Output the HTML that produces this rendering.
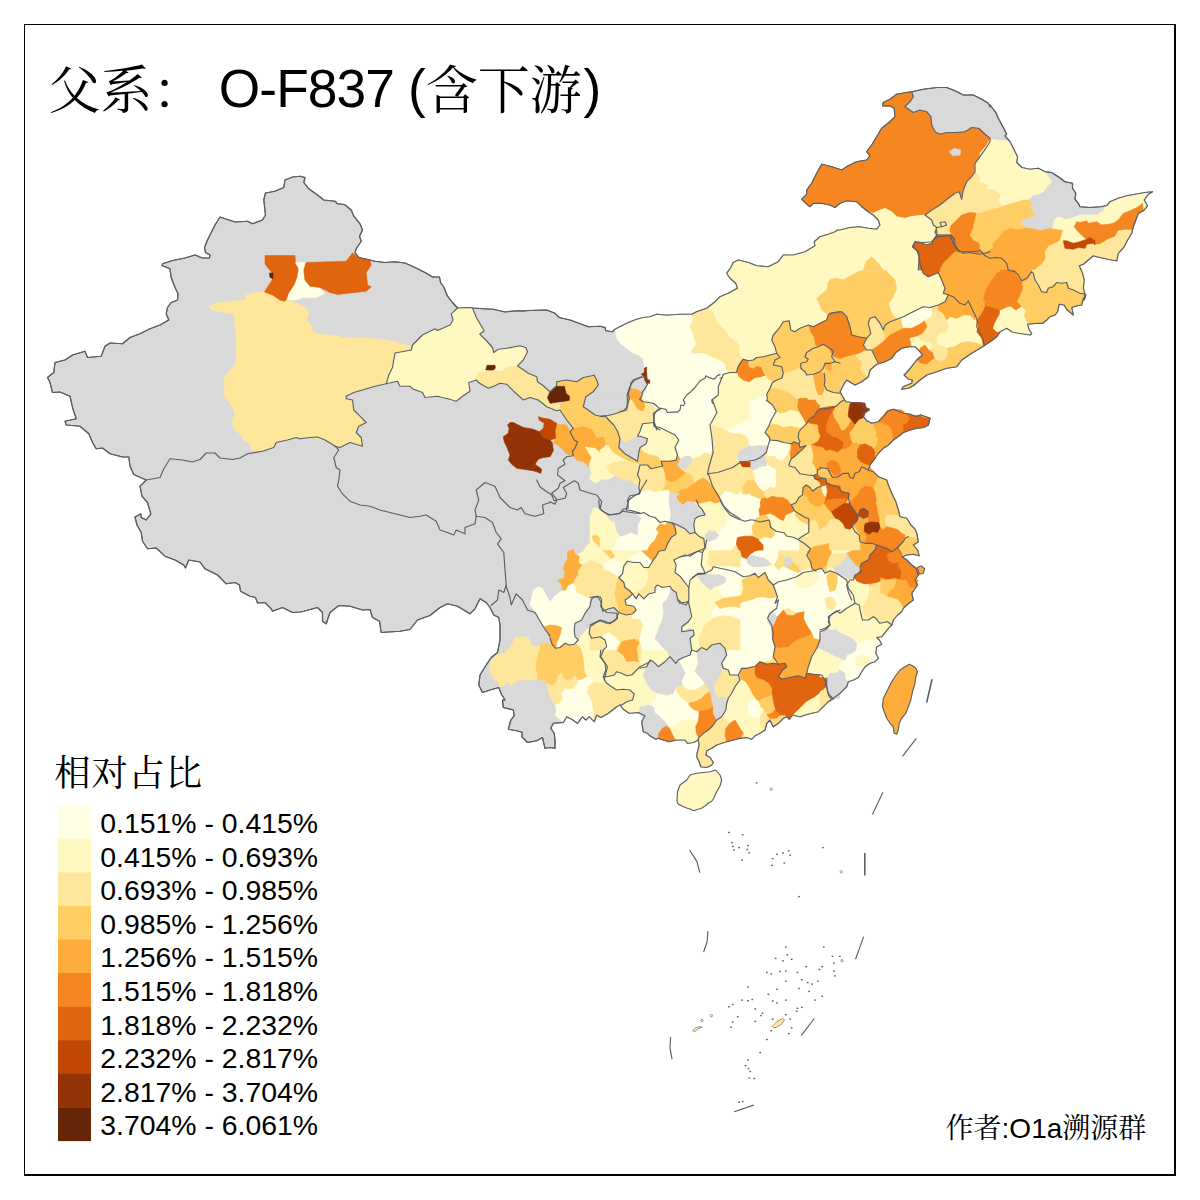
<!DOCTYPE html>
<html><head><meta charset="utf-8"><title>O-F837</title>
<style>
html,body{margin:0;padding:0;background:#fff;}
body{width:1200px;height:1200px;overflow:hidden;font-family:"Liberation Sans",sans-serif;}
svg{display:block;position:absolute;left:0;top:0;}
.t{font-family:"Liberation Sans",sans-serif;fill:#000;}
.c{font-family:"Liberation Serif","Noto Serif CJK SC",serif;fill:#000;}
</style></head><body>
<svg width="1200" height="1200" viewBox="0 0 1200 1200">
<rect x="0" y="0" width="1200" height="1200" fill="#fff"/>
<g id="map">
<polygon points="300,176.2 292.5,177 285,180 283.8,187.5 275,191.2 265.5,193 263.8,200 265.5,215 262.5,220 252.5,223.8 247.5,221.2 235,222 220,217 215,225 207.5,240 204.5,247.5 205.5,252.5 210,255 209.5,258 202.5,258 195,255 185,258 172.5,260.5 162.5,263.8 162,265.5 170,268.8 171.2,277.5 175,287.5 178,293.8 177.5,300 171.2,302.5 167.5,307.5 166.2,313.8 168.8,320 160,325 150,328.8 140,333.8 130,337.5 122.5,343.8 110,343 105,346.2 101.2,356.2 87.5,357.5 85,351.2 72.5,355 65,360 55,362.5 53.8,372.5 47.5,377.5 50,382.5 52.5,392.5 60,392 70,396.2 72.5,407.5 76.2,418.8 65,421.2 66.2,425 80,426.2 88.8,433.8 92.5,442.5 96.2,448.8 102.5,448 110,453.8 122.5,457 128.8,457 130,466.2 133.8,474.5 146.2,480 140,486.2 142,496.2 147.5,502.5 150.8,513.8 146.2,520 141.2,517.5 140.8,513.8 135,517 137,525 141.2,532.5 142.5,541.2 147.5,548.8 156.2,548 165,556.2 175,560 183.8,565 185.5,568 188.8,560 200,562 205,568.8 217.5,575 226.2,583.8 235,582.5 239.5,585 240.5,591.2 250,596.2 255.5,597.5 257.5,603 265,602.5 271.2,608.8 272.5,611.2 282.5,607.5 292.5,612.5 300,612 303.8,611.2 317.5,607.5 322.5,612.5 322.5,621.2 326.2,623.8 330,612.5 338.8,605.5 350,606.2 362.5,610 370,609.5 372.5,617.5 379.5,621.2 381.2,632.5 400,631.2 410,629.5 417.5,620 430,615.5 440,607.5 447.5,603.8 457.5,606.2 470,613.8 475,608.8 480,598.8 486.2,602.5 490,607.5 493.8,615 498.8,617.5 500,625 500,640 497.5,652.5 491.2,657.5 486.2,665 480,675 478.8,685 482.5,692.5 490,690 498.8,687.5 501.2,693.8 505,700 502.5,700 503.3,707.5 513.3,710 514.2,715.8 510.8,720 508.3,729.2 516.7,730.8 522.5,732.5 521.7,736.7 527.5,742.5 536.7,740.8 542.5,737.5 545,748.3 550,747.5 555,748.3 555,740 554.2,733.3 550.8,728.3 553.3,723.3 563.3,722.5 566.7,716.7 571.7,719.2 577.5,723.3 582.5,716.7 585.8,720 589.2,716.7 594.2,721.7 596.7,715 600.8,717.5 608.3,713.3 616.7,706.7 620,705 623.3,709.2 629.2,713.3 638.3,712.5 645,715.8 641.7,721.7 643.3,731.7 647.5,733.3 650,735.8 650,735.8 655.8,739.2 658.3,738.3 663.3,740 669.2,741.7 675.8,740 685,740 687.5,743.3 693.3,742.5 698.3,740 699.2,745 697.5,751.7 696.7,756.7 699.2,761.7 700.8,766.7 706.7,767.5 711.7,765 713.3,762.5 710,757.5 705.8,755 706.7,750.8 711.7,748.3 716.7,745 721.7,743.3 726.7,741.7 733.3,740 740,738.3 746.7,737.5 751.7,739.2 755,735.8 760,733.3 765,730 766.7,723.3 770,720 773.3,726.7 778.3,723.3 783.3,718.3 786.7,716.7 789.2,719.2 792.5,715 800,716.7 805,715 811.7,713.3 818.3,711.7 823.3,706.7 828.3,701.7 833.3,698.3 840,693.3 840,693.3 841.7,691.7 846.7,686.7 848.3,681.7 853.3,680 858.3,677.5 861.7,671.7 865,666.7 870,663.3 875,661.7 878.3,658.3 875.8,653.3 876.7,646.7 881.7,644.2 879.2,640 876.7,637.5 881.7,636.7 885.8,631.7 888.3,628.3 891.7,625 893.3,620 897.5,615 901.7,611.7 903.3,608.3 906.7,605 910.8,601.7 913.3,600 911.7,593.3 917.5,585 915,580 918.3,575 915.8,568.3 911.7,565 906.7,560 901.7,556.7 906.7,555 913.3,554.2 919.2,555.8 917.5,550 913.3,545 918.3,541.7 916.7,533.3 915,529.2 910.8,525 906.7,518.3 900,516.7 898.3,510 895.8,501.7 891.7,493.3 888.3,485 886.7,480 878.3,476.7 873.3,471.7 868.3,470 870,465 875,458.3 878.3,453.3 883.3,448.3 888.3,445 893.3,440 899.2,435.8 903.3,432.5 910,430 916.7,428.3 923.3,427.5 928.3,425 930,418.3 930,418.3 920.8,415 916.7,416.7 910,414.2 903.3,413.3 893.3,409.2 888.3,410.8 883.3,416.7 878.3,421.7 871.7,423.3 866.7,420.8 863.3,416.7 862.5,413.3 869.2,410 863.3,407.5 862.5,403.3 851.7,402.5 845.8,401.7 841.7,395 840,391.7 843.3,385 846.7,380 855,385 861.7,381.7 868.3,376.7 870,370 876.7,364.2 885,361.7 891.7,358.3 895.8,352.5 901.7,348.3 908.3,346.7 915,346.7 920,351.7 922.5,355 916.7,360 911.7,366.7 906.7,372.5 904.2,375 908.3,379.2 912.5,380 911.7,383.3 903.3,386.7 901.7,389.2 908.3,388.3 913.3,385.8 920,380 926.7,375 936.7,371.7 946.7,368.3 956.7,366.7 961.7,360 970,354.2 980,348.3 985,345 990,341.7 996.7,336.7 1000,331.7 1006.7,328.3 1011.7,331.7 1018.3,333.3 1030,335 1031.7,333.3 1029.2,330 1027.5,324.2 1036.7,323.3 1042.5,323.3 1046.7,320 1050,316.7 1055,315 1057.5,311.7 1059.2,304.2 1064.2,305 1066.7,309.2 1073.3,315 1071.7,307.5 1076.7,305.8 1081.7,305 1083.3,298.3 1085.8,295 1084.2,300 1085,294.2 1083.3,288.3 1084.2,280 1082.5,273.3 1079.2,265.8 1083.3,264.2 1088.3,260 1093.3,255.8 1096.7,256.7 1103.3,258.3 1111.7,260 1116.7,260.8 1118.3,253.3 1124.2,246.7 1127.5,240 1131.7,233.3 1133.3,226.7 1135.8,220 1138.3,213.3 1143.3,210.8 1147.5,205.8 1144.2,200 1148.3,194.2 1152.5,191.7 1145,192.5 1135,194.2 1126.7,195.8 1118.3,198.3 1110,201.7 1106.7,205.8 1100,206.7 1090,207.5 1080,206.7 1078.3,203.3 1075,199.2 1075.8,193.3 1072.5,188.3 1072.5,183.3 1065,181.7 1058.3,176.7 1051.7,172.5 1045,171.7 1038.3,168.3 1030,169.2 1021.7,167.5 1016.7,162.5 1017.5,156.7 1013.3,148.3 1010,141.7 1005,135.8 1006.7,134.2 1003.3,127.5 998.3,118.3 995.8,112.5 990,105 990,106.7 988.3,103.3 981.7,99.2 973.3,95 963.3,95 955,90.8 946.7,87.5 936.7,87.5 923.3,89.2 911.7,91.7 906.7,92.5 896.7,94.2 890,99.2 883.3,102.5 882.5,105.8 890,105.8 894.2,108.3 895,116.7 890,121.7 881.7,128.3 876.7,136.7 871.7,145 866.7,151.7 870,155.8 866.7,160 856.7,161.7 848.3,165.8 841.7,170 831.7,166.7 821.7,164.2 816.7,173.3 811.7,183.3 806.7,190 806.7,194.2 801.7,199.2 805,202.5 810,206.7 813.3,203.3 821.7,203.3 830,205 835,207.5 840,203.3 846.7,200.8 856.7,201.7 861.7,206.7 868.3,211.7 873.3,215 878.3,220 880,225 876.7,229.2 868.3,228.3 860,226.7 850,227.5 840,230 837.5,230 835,231.7 828.3,234.2 820,236.7 814.2,241.7 815,245.8 805,251.7 793.3,255 783.3,255 778.3,261.7 768.3,266.7 756.7,265.8 748.3,262.5 738.3,260 733.3,262.5 730.8,267.5 726.7,273.3 730,278.3 735.8,283.3 737.5,288.3 728.3,293.3 720,296.7 713.3,303.3 706.7,308.3 696.7,311.7 691.7,314.2 680,314.2 666.7,315.3 656.7,314.2 650,316.7 650,316.7 643.3,317.5 636.7,319.2 626.7,323.3 615,329.2 612.5,331.7 605.8,330.8 605,327.5 600,326.3 588.3,326.7 581.7,324.2 570,320 559.2,317.5 555,313.3 546.7,310 536.7,310.3 525,310.8 516.7,310.8 505,312 493.3,309.2 483.3,308.7 472.5,308 470,307.5 457.5,308 457.5,308 452.5,302.5 447.5,296.2 443.8,287 440.5,282.5 439.5,277 432.5,277 425,272.5 415,267.5 405,263 395,261.8 385,262.5 375,261.2 370,260 358.8,257.5 355,252.5 356.2,248.8 361.2,241.2 359.5,236.2 362.5,230 360,223.8 353.8,216.2 351.2,210 344.5,204.5 337.5,203.8 335,201.2 323.8,200 317.5,195 308.8,188.8 303.8,182.5 305,177.5 300,176.2" fill="#D9D9D9" stroke="#5c6066" stroke-width="1.15" stroke-linejoin="round"/>
<clipPath id="cn"><polygon points="300,176.2 292.5,177 285,180 283.8,187.5 275,191.2 265.5,193 263.8,200 265.5,215 262.5,220 252.5,223.8 247.5,221.2 235,222 220,217 215,225 207.5,240 204.5,247.5 205.5,252.5 210,255 209.5,258 202.5,258 195,255 185,258 172.5,260.5 162.5,263.8 162,265.5 170,268.8 171.2,277.5 175,287.5 178,293.8 177.5,300 171.2,302.5 167.5,307.5 166.2,313.8 168.8,320 160,325 150,328.8 140,333.8 130,337.5 122.5,343.8 110,343 105,346.2 101.2,356.2 87.5,357.5 85,351.2 72.5,355 65,360 55,362.5 53.8,372.5 47.5,377.5 50,382.5 52.5,392.5 60,392 70,396.2 72.5,407.5 76.2,418.8 65,421.2 66.2,425 80,426.2 88.8,433.8 92.5,442.5 96.2,448.8 102.5,448 110,453.8 122.5,457 128.8,457 130,466.2 133.8,474.5 146.2,480 140,486.2 142,496.2 147.5,502.5 150.8,513.8 146.2,520 141.2,517.5 140.8,513.8 135,517 137,525 141.2,532.5 142.5,541.2 147.5,548.8 156.2,548 165,556.2 175,560 183.8,565 185.5,568 188.8,560 200,562 205,568.8 217.5,575 226.2,583.8 235,582.5 239.5,585 240.5,591.2 250,596.2 255.5,597.5 257.5,603 265,602.5 271.2,608.8 272.5,611.2 282.5,607.5 292.5,612.5 300,612 303.8,611.2 317.5,607.5 322.5,612.5 322.5,621.2 326.2,623.8 330,612.5 338.8,605.5 350,606.2 362.5,610 370,609.5 372.5,617.5 379.5,621.2 381.2,632.5 400,631.2 410,629.5 417.5,620 430,615.5 440,607.5 447.5,603.8 457.5,606.2 470,613.8 475,608.8 480,598.8 486.2,602.5 490,607.5 493.8,615 498.8,617.5 500,625 500,640 497.5,652.5 491.2,657.5 486.2,665 480,675 478.8,685 482.5,692.5 490,690 498.8,687.5 501.2,693.8 505,700 502.5,700 503.3,707.5 513.3,710 514.2,715.8 510.8,720 508.3,729.2 516.7,730.8 522.5,732.5 521.7,736.7 527.5,742.5 536.7,740.8 542.5,737.5 545,748.3 550,747.5 555,748.3 555,740 554.2,733.3 550.8,728.3 553.3,723.3 563.3,722.5 566.7,716.7 571.7,719.2 577.5,723.3 582.5,716.7 585.8,720 589.2,716.7 594.2,721.7 596.7,715 600.8,717.5 608.3,713.3 616.7,706.7 620,705 623.3,709.2 629.2,713.3 638.3,712.5 645,715.8 641.7,721.7 643.3,731.7 647.5,733.3 650,735.8 650,735.8 655.8,739.2 658.3,738.3 663.3,740 669.2,741.7 675.8,740 685,740 687.5,743.3 693.3,742.5 698.3,740 699.2,745 697.5,751.7 696.7,756.7 699.2,761.7 700.8,766.7 706.7,767.5 711.7,765 713.3,762.5 710,757.5 705.8,755 706.7,750.8 711.7,748.3 716.7,745 721.7,743.3 726.7,741.7 733.3,740 740,738.3 746.7,737.5 751.7,739.2 755,735.8 760,733.3 765,730 766.7,723.3 770,720 773.3,726.7 778.3,723.3 783.3,718.3 786.7,716.7 789.2,719.2 792.5,715 800,716.7 805,715 811.7,713.3 818.3,711.7 823.3,706.7 828.3,701.7 833.3,698.3 840,693.3 840,693.3 841.7,691.7 846.7,686.7 848.3,681.7 853.3,680 858.3,677.5 861.7,671.7 865,666.7 870,663.3 875,661.7 878.3,658.3 875.8,653.3 876.7,646.7 881.7,644.2 879.2,640 876.7,637.5 881.7,636.7 885.8,631.7 888.3,628.3 891.7,625 893.3,620 897.5,615 901.7,611.7 903.3,608.3 906.7,605 910.8,601.7 913.3,600 911.7,593.3 917.5,585 915,580 918.3,575 915.8,568.3 911.7,565 906.7,560 901.7,556.7 906.7,555 913.3,554.2 919.2,555.8 917.5,550 913.3,545 918.3,541.7 916.7,533.3 915,529.2 910.8,525 906.7,518.3 900,516.7 898.3,510 895.8,501.7 891.7,493.3 888.3,485 886.7,480 878.3,476.7 873.3,471.7 868.3,470 870,465 875,458.3 878.3,453.3 883.3,448.3 888.3,445 893.3,440 899.2,435.8 903.3,432.5 910,430 916.7,428.3 923.3,427.5 928.3,425 930,418.3 930,418.3 920.8,415 916.7,416.7 910,414.2 903.3,413.3 893.3,409.2 888.3,410.8 883.3,416.7 878.3,421.7 871.7,423.3 866.7,420.8 863.3,416.7 862.5,413.3 869.2,410 863.3,407.5 862.5,403.3 851.7,402.5 845.8,401.7 841.7,395 840,391.7 843.3,385 846.7,380 855,385 861.7,381.7 868.3,376.7 870,370 876.7,364.2 885,361.7 891.7,358.3 895.8,352.5 901.7,348.3 908.3,346.7 915,346.7 920,351.7 922.5,355 916.7,360 911.7,366.7 906.7,372.5 904.2,375 908.3,379.2 912.5,380 911.7,383.3 903.3,386.7 901.7,389.2 908.3,388.3 913.3,385.8 920,380 926.7,375 936.7,371.7 946.7,368.3 956.7,366.7 961.7,360 970,354.2 980,348.3 985,345 990,341.7 996.7,336.7 1000,331.7 1006.7,328.3 1011.7,331.7 1018.3,333.3 1030,335 1031.7,333.3 1029.2,330 1027.5,324.2 1036.7,323.3 1042.5,323.3 1046.7,320 1050,316.7 1055,315 1057.5,311.7 1059.2,304.2 1064.2,305 1066.7,309.2 1073.3,315 1071.7,307.5 1076.7,305.8 1081.7,305 1083.3,298.3 1085.8,295 1084.2,300 1085,294.2 1083.3,288.3 1084.2,280 1082.5,273.3 1079.2,265.8 1083.3,264.2 1088.3,260 1093.3,255.8 1096.7,256.7 1103.3,258.3 1111.7,260 1116.7,260.8 1118.3,253.3 1124.2,246.7 1127.5,240 1131.7,233.3 1133.3,226.7 1135.8,220 1138.3,213.3 1143.3,210.8 1147.5,205.8 1144.2,200 1148.3,194.2 1152.5,191.7 1145,192.5 1135,194.2 1126.7,195.8 1118.3,198.3 1110,201.7 1106.7,205.8 1100,206.7 1090,207.5 1080,206.7 1078.3,203.3 1075,199.2 1075.8,193.3 1072.5,188.3 1072.5,183.3 1065,181.7 1058.3,176.7 1051.7,172.5 1045,171.7 1038.3,168.3 1030,169.2 1021.7,167.5 1016.7,162.5 1017.5,156.7 1013.3,148.3 1010,141.7 1005,135.8 1006.7,134.2 1003.3,127.5 998.3,118.3 995.8,112.5 990,105 990,106.7 988.3,103.3 981.7,99.2 973.3,95 963.3,95 955,90.8 946.7,87.5 936.7,87.5 923.3,89.2 911.7,91.7 906.7,92.5 896.7,94.2 890,99.2 883.3,102.5 882.5,105.8 890,105.8 894.2,108.3 895,116.7 890,121.7 881.7,128.3 876.7,136.7 871.7,145 866.7,151.7 870,155.8 866.7,160 856.7,161.7 848.3,165.8 841.7,170 831.7,166.7 821.7,164.2 816.7,173.3 811.7,183.3 806.7,190 806.7,194.2 801.7,199.2 805,202.5 810,206.7 813.3,203.3 821.7,203.3 830,205 835,207.5 840,203.3 846.7,200.8 856.7,201.7 861.7,206.7 868.3,211.7 873.3,215 878.3,220 880,225 876.7,229.2 868.3,228.3 860,226.7 850,227.5 840,230 837.5,230 835,231.7 828.3,234.2 820,236.7 814.2,241.7 815,245.8 805,251.7 793.3,255 783.3,255 778.3,261.7 768.3,266.7 756.7,265.8 748.3,262.5 738.3,260 733.3,262.5 730.8,267.5 726.7,273.3 730,278.3 735.8,283.3 737.5,288.3 728.3,293.3 720,296.7 713.3,303.3 706.7,308.3 696.7,311.7 691.7,314.2 680,314.2 666.7,315.3 656.7,314.2 650,316.7 650,316.7 643.3,317.5 636.7,319.2 626.7,323.3 615,329.2 612.5,331.7 605.8,330.8 605,327.5 600,326.3 588.3,326.7 581.7,324.2 570,320 559.2,317.5 555,313.3 546.7,310 536.7,310.3 525,310.8 516.7,310.8 505,312 493.3,309.2 483.3,308.7 472.5,308 470,307.5 457.5,308 457.5,308 452.5,302.5 447.5,296.2 443.8,287 440.5,282.5 439.5,277 432.5,277 425,272.5 415,267.5 405,263 395,261.8 385,262.5 375,261.2 370,260 358.8,257.5 355,252.5 356.2,248.8 361.2,241.2 359.5,236.2 362.5,230 360,223.8 353.8,216.2 351.2,210 344.5,204.5 337.5,203.8 335,201.2 323.8,200 317.5,195 308.8,188.8 303.8,182.5 305,177.5 300,176.2"/></clipPath>
<polygon points="700,330 840,235 905,235 935,255 1040,300 1090,300 1040,340 940,345 870,400 935,415 900,480 935,560 915,620 880,680 800,725 745,745 700,745 690,700 700,640 720,560 700,470 720,400" fill="#FEDD85" clip-path="url(#cn)"/>
<polygon points="208.8,306.2 217.5,303 232.5,301.2 245,300 246.2,295 255,292.5 264.5,292 272.5,295 280,300 285,301.2 287.5,300 296.2,303 303.8,306.2 308.8,312.5 306.2,320 311.2,325 312.5,332.5 322.5,334.5 335,335.5 342.5,337.5 360,338 375,338.8 385,340 397.5,342.5 411.2,346.2 411.2,350 395,353 392.5,367.5 388.8,375 386.2,383.8 375,386.2 362.5,390 353.8,392.5 346.2,396.2 346.2,398.8 352.5,400 353.8,410 360,416.2 366.2,422.5 358.8,426.2 356.2,432.5 361.2,437.5 362.5,446.2 350,442.5 340,447.5 335,446.2 331.2,442.5 322.5,440 310,437.5 296.2,437.5 287.5,440 276.2,442.5 273.8,447.5 262.5,451.2 251.2,450 250,443.8 243.8,440 240,433.8 233.8,428.8 232,420 235,415 233.8,410 230,402.5 224.5,397.5 224.5,377.5 230,370 236.2,362.5 236.2,340 235,325 233.8,313.8 225,312.5 212.5,310" fill="#FEE79B" stroke="#FEE79B" stroke-width="0.6" stroke-linejoin="round"/>
<polygon points="265,255.5 295,255.5 295.5,262.5 298.8,268.8 297.5,277.5 294.5,285 288.8,293.8 285,301.2 280,300 272.5,295 264.5,292 268.8,285 273,278.8 269.5,275 272,272.5 267.5,267.5 265,263.8" fill="#E1640E" stroke="#E1640E" stroke-width="0.6" stroke-linejoin="round"/>
<polygon points="269.5,273 273,273 273,278.8 270,277.5" fill="#662506" stroke="#662506" stroke-width="0.6" stroke-linejoin="round"/>
<polygon points="295.5,262.5 306.2,262.5 303.8,270 305,280 310,286.2 320,287.5 324.5,293.8 316.2,297.5 303.8,297.5 296.2,300 287.5,300 288.8,293.8 294.5,285 297.5,277.5 298.8,268.8" fill="#FFFFE5" stroke="#FFFFE5" stroke-width="0.6" stroke-linejoin="round"/>
<polygon points="306.2,262.5 346.2,261.2 352.5,253 358.8,257.5 370,260 371.2,265 366.2,272.5 367.5,285 371.2,287 366.2,291.2 355,292.5 337.5,294.5 330,292.5 320,287.5 310,286.2 305,280 303.8,270" fill="#E1640E" stroke="#E1640E" stroke-width="0.6" stroke-linejoin="round"/>
<polygon points="450,325 437.5,330.5 435,328.8 422.5,335 412.5,345 411.2,350 395,353 392.5,367.5 388.8,375 386.2,383.8 397.5,381.2 400,386.2 410,386.2 412.5,388.8 422.5,392.5 425,397.5 437.5,396.2 447.5,398.8 452.5,400 452.5,325" fill="#FFF8C1" stroke="#FFF8C1" stroke-width="0.6" stroke-linejoin="round"/>
<polygon points="457.5,308 472.5,308 476.7,318.3 484.2,330.8 479.7,334.2 485.8,340 492.5,347.5 493.7,352.5 498.3,349.2 506.7,348.3 520,345.8 525.8,347.5 527.5,351.7 523.3,360 517.5,365 512.5,367.5 506.7,367.5 501.7,371.7 495,370 485.8,370.8 477.5,373.3 476.7,380 470,381.7 469.7,390 462.5,396.7 456.7,400.8 450,401.7 450,325 453,318.3 451.7,312.5" fill="#FFF8C1" stroke="#FFF8C1" stroke-width="0.6" stroke-linejoin="round"/>
<polygon points="487,365.3 495,365.3 495.3,368.3 492.5,370.8 485.8,370" fill="#662506" stroke="#662506" stroke-width="0.6" stroke-linejoin="round"/>
<polygon points="476.7,380 477.5,373.3 485.8,370.8 492.5,370.8 501.7,371.7 506.7,367.5 517.5,365.8 528.3,373.3 536.7,376.7 537.5,381.7 543.3,385.8 550,391.7 547.5,397.5 550,403.3 560,403.3 560.8,410 556.7,410.8 546.7,406.7 538.3,400 530,397.5 523.3,400 513.3,390.8 506.7,384.2 500,383.3 495,385.8 488.3,388.3 482.5,385 477.5,381.7" fill="#FEE79B" stroke="#FEE79B" stroke-width="0.6" stroke-linejoin="round"/>
<polygon points="550,391.7 556.7,385.8 565,385.8 566.7,393.3 570,395.8 570,400.8 560,401.7 550,403.3 547.5,397.5" fill="#662506" stroke="#662506" stroke-width="0.6" stroke-linejoin="round"/>
<polygon points="556.7,381.7 566.7,380 576.7,381.7 583.3,377.5 594.2,375.3 596.7,380 598.3,385 593.3,391.7 585.8,396.7 583.3,406.7 588.3,410 595,415 602.5,416.7 606.7,417.5 610,423.3 616.7,431.7 620,438.3 620.8,443.3 618.3,446.7 621.7,451.7 629.2,456.7 635,460 639.2,460.8 639.2,465.8 633.3,463.3 625,465 621.7,458.3 615,456.7 610,450 603.3,445 603.3,438.3 596.7,438.3 591.7,429.2 583.3,426.7 573.3,428.3 566.7,420 560,410 560.8,403.3 570,400.8 570,395.8 566.7,393.3 565,385.8 556.7,385.8" fill="#FECE65" stroke="#FECE65" stroke-width="0.6" stroke-linejoin="round"/>
<polygon points="556.7,424.2 566.7,425 570,431.7 574.2,440 577.5,441.7 575,448.3 572.5,450.8 573.3,455.8 566.7,454.2 560,446.7 553.3,442.5 555.8,438.3 555,431.7" fill="#FEAC3A" stroke="#FEAC3A" stroke-width="0.6" stroke-linejoin="round"/>
<polygon points="538.3,416.7 543.3,418.3 550,419.2 556.7,423.3 555,431.7 555.8,438.3 550,440 543.3,438.3 539.2,431.7 543.3,428.3 544.2,423.3 539.2,420" fill="#C14702" stroke="#C14702" stroke-width="0.6" stroke-linejoin="round"/>
<polygon points="510,422.5 513.3,422.5 523.3,427.5 533.3,429.2 539.2,431.7 543.3,438.3 550,440 552.5,443.3 553.3,450.8 550,456.7 543.3,457.5 538.3,459.2 535,464.2 541.7,469.2 540.8,473.3 533.3,470.8 523.3,469.2 516.7,468.3 511.7,464.2 508.3,460 510,455 506.7,446.7 504.2,441.7 503.3,436.7 508.3,433.3 509.2,428.3 507.5,425" fill="#933204" stroke="#933204" stroke-width="0.6" stroke-linejoin="round"/>
<polygon points="573.3,428.3 583.3,426.7 591.7,429.2 596.7,438.3 603.3,438.3 603.3,445 600.8,453.3 595,448.3 588.3,447.5 585,446.7 588.3,451.7 591.7,457.5 589.2,465 590,467.5 583.3,461.7 576.7,460 573.3,455.8 572.5,450.8 575,448.3 577.5,441.7 574.2,440 570,431.7" fill="#FEAC3A" stroke="#FEAC3A" stroke-width="0.6" stroke-linejoin="round"/>
<polygon points="585,446.7 588.3,447.5 595,448.3 600.8,453.3 605,445 610,450 615,456.7 621.7,458.3 623.3,463.3 616.7,466.7 606.7,468.3 603.3,476.7 596.7,483.3 591.7,480.8 589.2,478.3 591.7,473.3 589.2,465 591.7,457.5 588.3,451.7" fill="#FFF8C1" stroke="#FFF8C1" stroke-width="0.6" stroke-linejoin="round"/>
<polygon points="606.7,468.3 616.7,466.7 623.3,463.3 625,465 633.3,463.3 639.2,465.8 636.7,475 640,483.3 630,485 621.7,483.3 611.7,480 603.3,476.7" fill="#FEE79B" stroke="#FEE79B" stroke-width="0.6" stroke-linejoin="round"/>
<polygon points="630,388.3 638.3,390.8 641.7,396.7 643.3,400 645.8,406.7 643.3,410.8 639.2,410.8 636.7,405 633.3,400 629.2,398.3 628.3,393.3" fill="#FEAC3A" stroke="#FEAC3A" stroke-width="0.6" stroke-linejoin="round"/>
<polygon points="603.3,416.7 613.3,414.2 626.7,410 629.2,398.3 633.3,400 636.7,405 639.2,410.8 643.3,410.8 645.8,406.7 643.3,400 650,400 650,423.3 641.7,423.3 638.3,433.3 640,438.3 630,438.3 626.7,441.7 620.8,443.3 620,438.3 616.7,431.7 610,423.3 606.7,417.5" fill="#FEE79B" stroke="#FEE79B" stroke-width="0.6" stroke-linejoin="round"/>
<polygon points="626.7,500 630,495.8 639.2,494.2 641.7,488.3 650,485 650,513.3 641.7,513.3 633.3,511.7 628.3,508.3" fill="#FFFFE5" stroke="#FFFFE5" stroke-width="0.6" stroke-linejoin="round"/>
<polygon points="593.3,507.5 600,510 608.3,515 620,513.3 628.3,508.3 633.3,511.7 641.7,513.3 650,513.3 650,540 641.7,550 633.3,556.7 627.5,558.3 621.7,560 615,555 612.5,557.5 610,560 603.3,563.3 600,561.7 591.7,561.7 585.8,563.3 582.5,565 578.3,563.3 579.2,556.7 578.3,553.3 583.3,551.7 586.7,545.8 590.8,543.3 591.7,538.3 595,535 591.7,530 591.7,521.7 595,518.3 591.7,513.3" fill="#FFF8C1" stroke="#FFF8C1" stroke-width="0.6" stroke-linejoin="round"/>
<polygon points="592.5,535.8 596.7,538.3 603.3,540.8 607.5,545 610,550 615,555 612.5,557.5 606.7,553.3 600,549.2 595,545.8 591.7,540" fill="#FECE65" stroke="#FECE65" stroke-width="0.6" stroke-linejoin="round"/>
<polygon points="616.7,546.7 623.3,545.8 626.7,551.7 627.5,558.3 621.7,560 615,555" fill="#FEE79B" stroke="#FEE79B" stroke-width="0.6" stroke-linejoin="round"/>
<polygon points="567.5,551.7 573.3,549.2 575,554.2 579.2,556.7 578.3,563.3 582.5,565 578.3,570.8 578.3,575 574.2,580 573.3,583.3 568.3,585.8 565.8,590.8 562.5,590 561.7,584.2 557.5,580.8 559.2,579.2 564.2,578.3 565,572.5 563.3,568.3 565,563.3 567.5,559.2" fill="#FEAC3A" stroke="#FEAC3A" stroke-width="0.6" stroke-linejoin="round"/>
<polygon points="582.5,565 591.7,561.7 600,563.3 602.5,570 600.8,575 606.7,578.3 615,580 616.7,586.7 615,593.3 617.5,600 618.3,608.3 613.3,611.7 606.7,611.7 601.7,608.3 600,600 600.8,596.7 596.7,596.7 591.7,598.3 586.7,597.5 582.5,595 576.7,593.3 575,586.7 574.2,580 578.3,575 578.3,570.8" fill="#FEE79B" stroke="#FEE79B" stroke-width="0.6" stroke-linejoin="round"/>
<polygon points="603.3,563.3 610,560 616.7,558.3 623.3,561.7 622.5,566.7 616.7,570.8 610,570 606.7,573.3 602.5,570" fill="#FFFFE5" stroke="#FFFFE5" stroke-width="0.6" stroke-linejoin="round"/>
<polygon points="623.3,565 626.7,560.8 640,563.3 643.3,566.7 650,567.5 650,590 644.2,593.3 640,598.3 637.5,593.3 633.3,591.7 630,588.3 625,586.7 623.3,581.7 618.3,578.3 621.7,573.3 624.2,570" fill="#FFF8C1" stroke="#FFF8C1" stroke-width="0.6" stroke-linejoin="round"/>
<polygon points="606.7,573.3 610,570 616.7,570.8 622.5,566.7 624.2,570 621.7,573.3 618.3,578.3 623.3,581.7 623.3,583.3 616.7,586.7 615,580 606.7,578.3 600.8,575 602.5,570" fill="#FEE79B" stroke="#FEE79B" stroke-width="0.6" stroke-linejoin="round"/>
<polygon points="616.7,586.7 623.3,583.3 625,586.7 630,588.3 633.3,591.7 633.3,595 626.7,596.7 624.2,601.7 629.2,605 635,607.5 635.8,612.5 630,614.2 623.3,615 618.3,611.7 618.3,608.3 617.5,600 615,593.3" fill="#FECE65" stroke="#FECE65" stroke-width="0.6" stroke-linejoin="round"/>
<polygon points="626.7,596.7 633.3,595 637.5,593.3 640,598.3 644.2,593.3 650,590 650,646.7 641.7,646.7 638.3,640 640,636.7 636.7,630 638.3,621.7 640,618.3 635.8,612.5 635,607.5 629.2,605 624.2,601.7" fill="#FFFFE5" stroke="#FFFFE5" stroke-width="0.6" stroke-linejoin="round"/>
<polygon points="530,605 531.7,596.7 533.3,590 538.3,586.7 542.5,588.3 545.8,595 550,601.7 554.2,596.7 558.3,593.3 561.7,590.8 565.8,590.8 568.3,585.8 573.3,583.3 575,586.7 576.7,593.3 582.5,595 586.7,597.5 591.7,598.3 590.8,601.7 590,606.7 585,613.3 581.7,620 575,623.3 574.2,630 575,636.7 578.3,640 574.2,644.2 569.2,645 565,643.3 560,647.5 555.8,648.3 556.7,642.5 560,635 561.7,627.5 556.7,625.8 550,625 544.2,626.7 540.8,621.7 536.7,613.3 534.2,610" fill="#FFFFE5" stroke="#FFFFE5" stroke-width="0.6" stroke-linejoin="round"/>
<polygon points="544.2,626.7 550,625 556.7,625.8 561.7,627.5 560,635 556.7,642.5 555.8,648.3 552.5,645 550,638.3 547.5,633.3" fill="#FEAC3A" stroke="#FEAC3A" stroke-width="0.6" stroke-linejoin="round"/>
<polygon points="590,626.7 595,623.3 600,620.8 606.7,623.3 613.3,621.7 617.5,618.3 623.3,615 630,614.2 635.8,612.5 640,618.3 638.3,621.7 636.7,630 640,636.7 638.3,640 641.7,646.7 638.3,653.3 639.2,663.3 633.3,668.3 626.7,661.7 621.7,655 616.7,651.7 613.3,646.7 610,640 605,640 600,636.7 591.7,638.3 589.2,633.3" fill="#FEE79B" stroke="#FEE79B" stroke-width="0.6" stroke-linejoin="round"/>
<polygon points="621.7,641.7 628.3,640 635,639.2 639.2,642.5 636.7,648.3 637.5,655 638.3,661.7 633.3,660.8 626.7,661.7 623.3,655 617.5,650.8" fill="#FEAC3A" stroke="#FEAC3A" stroke-width="0.6" stroke-linejoin="round"/>
<polygon points="578.3,640 581.7,635 586.7,630 590,626.7 589.2,633.3 591.7,638.3 600,636.7 605,640 606.7,646.7 603.3,650 600.8,656.7 604.2,661.7 607.5,666.7 605.8,673.3 604.2,680 583.3,680 583.3,663.3 581.7,650 576.7,644.2" fill="#FFF8C1" stroke="#FFF8C1" stroke-width="0.6" stroke-linejoin="round"/>
<polygon points="606.7,646.7 610,640 613.3,646.7 616.7,651.7 621.7,655 626.7,661.7 633.3,668.3 639.2,663.3 641.7,668.3 633.3,673.3 625,675 616.7,671.7 610,675 605.8,680 604.2,680 605.8,673.3 607.5,666.7 604.2,661.7 600.8,656.7 603.3,650" fill="#FEE79B" stroke="#FEE79B" stroke-width="0.6" stroke-linejoin="round"/>
<polygon points="540,645 546.7,642.5 552.5,645 555.8,648.3 560,647.5 565,643.3 569.2,645 574.2,644.2 576.7,644.2 581.7,650 583.3,663.3 583.3,680 536.7,680 535.8,668.3 540,660 538.3,651.7" fill="#FECE65" stroke="#FECE65" stroke-width="0.6" stroke-linejoin="round"/>
<polygon points="490,663.3 496.7,655 505,653.3 511.7,645 515,637.5 521.7,636.7 528.3,637.5 531.7,645 535,646.7 540,645 538.3,651.7 540,660 535.8,668.3 536.7,680 495,680 490,671.7" fill="#FEE79B" stroke="#FEE79B" stroke-width="0.6" stroke-linejoin="round"/>
<polygon points="490,666.7 491.7,660 498.3,655 505,655 506.7,650 540,650 536.7,660 535.8,668.3 538.3,675 535,676.7 525,675.8 521.7,670.8 518.3,675 516.7,680.8 510.8,685.8 507.5,682.5 500,687.5 498.3,681.7 494.2,679.2 495,674.2 490.8,670.8" fill="#FEE79B" stroke="#FEE79B" stroke-width="0.6" stroke-linejoin="round"/>
<polygon points="540,650 581.7,650 584.2,660 585,671.7 587.5,676.7 583.3,679.2 578.3,680.8 574.2,675 572.5,679.2 566.7,680.8 563.3,678.3 561.7,673.3 558.3,675 556.7,682.5 551.7,685.8 546.7,683.3 542.5,678.3 538.3,675 535.8,668.3 536.7,660" fill="#FECE65" stroke="#FECE65" stroke-width="0.6" stroke-linejoin="round"/>
<polygon points="546.7,683.3 551.7,685.8 556.7,682.5 558.3,675 561.7,673.3 563.3,678.3 566.7,680.8 572.5,679.2 574.2,675 578.3,680.8 576.7,685 573.3,689.2 565,689.2 561.7,693.3 563.3,698.3 560,703.3 555,705 550,696.7 548.3,690.8" fill="#FEE79B" stroke="#FEE79B" stroke-width="0.6" stroke-linejoin="round"/>
<polygon points="555,705 560,703.3 563.3,698.3 561.7,693.3 565,689.2 573.3,689.2 576.7,685 578.3,680.8 583.3,679.2 587.5,676.7 593.3,677.5 594.2,681.7 588.3,686.7 587.5,693.3 591.7,700 593.3,708.3 594.2,721.7 589.2,716.7 585.8,720 582.5,716.7 577.5,723.3 571.7,719.2 566.7,716.7 563.3,722.5 558.3,718.3 555,715 556.7,710" fill="#FFFFE5" stroke="#FFFFE5" stroke-width="0.6" stroke-linejoin="round"/>
<polygon points="588.3,686.7 594.2,681.7 600,682.5 610,685.8 616.7,690 623.3,689.2 630,690 634.2,694.2 632.5,700 626.7,701.7 621.7,705 616.7,706.7 608.3,713.3 600.8,717.5 596.7,715 594.2,721.7 593.3,708.3 591.7,700 587.5,693.3" fill="#FEE79B" stroke="#FEE79B" stroke-width="0.6" stroke-linejoin="round"/>
<polygon points="581.7,650 600.8,650 600,656.7 605,663.3 605.8,670 603.3,676.7 605.8,682.5 610,685.8 600,682.5 594.2,681.7 593.3,677.5 587.5,676.7 585,671.7 584.2,660" fill="#FFF8C1" stroke="#FFF8C1" stroke-width="0.6" stroke-linejoin="round"/>
<polygon points="610,655 616.7,650 638.3,650 638.3,660 640,666.7 631.7,675 626.7,675.8 621.7,673.3 616.7,671.7 614.2,675 606.7,676.7 605.8,670 605,663.3 606.7,658.3 600.8,650 610,650" fill="#FEE79B" stroke="#FEE79B" stroke-width="0.6" stroke-linejoin="round"/>
<polygon points="603.3,676.7 606.7,676.7 614.2,675 616.7,671.7 621.7,673.3 626.7,675.8 631.7,675 640,666.7 650,661.7 650,705 643.3,705 638.3,712.5 629.2,713.3 623.3,709.2 620,705 621.7,705 626.7,701.7 632.5,700 634.2,694.2 630,690 623.3,689.2 616.7,690 610,685.8 605.8,682.5" fill="#FFF8C1" stroke="#FFF8C1" stroke-width="0.6" stroke-linejoin="round"/>
<polygon points="640,318 650,316.7 656.7,314.2 666.7,315.3 680,314.2 691.7,314.2 693.3,320 690,326.7 693.3,333.3 696.7,345 691.7,350 693.3,353.3 703.3,352.5 711.7,356.7 720,360 725,363.3 726.7,370 730,372.5 723.3,374.2 721.7,378.3 718.3,386.7 718.3,395 711.7,400 712.5,406.7 716.7,413.3 713.3,421.7 710,430 653.3,430 653.3,413.3 660,409.2 656.7,405 650,401.7 645,396.7 648.3,383.3 647.5,368.3 643.3,358.3 640,356.7" fill="#FFFFE5" stroke="#FFFFE5" stroke-width="0.6" stroke-linejoin="round"/>
<polygon points="691.7,314.2 696.7,311.7 706.7,308.3 711.7,310 715,315 716.7,321.7 723.3,328.3 730,336.7 736.7,341.7 740,346.7 739.2,353.3 743.3,359.2 740,363.3 737.5,368.3 736.7,372.5 730,372.5 726.7,370 725,363.3 720,360 711.7,356.7 703.3,352.5 693.3,353.3 691.7,350 696.7,345 693.3,333.3 690,326.7 693.3,320" fill="#FEE79B" stroke="#FEE79B" stroke-width="0.6" stroke-linejoin="round"/>
<polygon points="706.7,308.3 713.3,303.3 720,296.7 728.3,293.3 737.5,288.3 735.8,283.3 730,278.3 726.7,273.3 730.8,267.5 733.3,262.5 738.3,260 748.3,262.5 756.7,265.8 768.3,266.7 778.3,261.7 783.3,255 793.3,255 805,251.7 815,245.8 814.2,241.7 820,236.7 828.3,234.2 835,231.7 840,230 840,278.3 833.3,278.3 828.3,281.7 826.7,290 821.7,294.2 816.7,298.3 820,305 821.7,310 828.3,315 826.7,320 820,323.3 813.3,326.7 808.3,325 800,328.3 795,331.7 790.8,330 789.2,320.8 783.3,321.7 779.2,328.3 773.3,335 771.7,340 775,346.7 776.7,353.3 770,355 763.3,356.7 756.7,357.5 753.3,360 748.3,360.8 743.3,359.2 739.2,353.3 740,346.7 736.7,341.7 730,336.7 723.3,328.3 716.7,321.7 715,315 711.7,310" fill="#FFF8C1" stroke="#FFF8C1" stroke-width="0.6" stroke-linejoin="round"/>
<polygon points="828.3,281.7 833.3,278.3 840,278.3 840,311.7 833.3,312.5 828.3,315 821.7,310 820,305 816.7,298.3 821.7,294.2 826.7,290" fill="#FECE65" stroke="#FECE65" stroke-width="0.6" stroke-linejoin="round"/>
<polygon points="828.3,315 833.3,312.5 840,311.7 840,351.7 833.3,350.8 828.3,347.5 823.3,344.2 818.3,346.7 815,345 813.3,336.7 810,331.7 808.3,325 813.3,326.7 820,323.3 826.7,320" fill="#F68720" stroke="#F68720" stroke-width="0.6" stroke-linejoin="round"/>
<polygon points="783.3,321.7 789.2,320.8 790.8,330 795,331.7 800,328.3 808.3,325 810,331.7 813.3,336.7 815,345 813.3,348.3 806.7,352.5 805,356.7 808.3,359.2 806.7,361.7 800.8,363.3 800,368.3 795,370 788.3,372.5 783.3,373.3 781.7,366.7 773.3,365 775,360 780,357.5 776.7,353.3 775,346.7 771.7,340 773.3,335 779.2,328.3" fill="#FECE65" stroke="#FECE65" stroke-width="0.6" stroke-linejoin="round"/>
<polygon points="805,356.7 806.7,352.5 813.3,348.3 818.3,346.7 823.3,344.2 828.3,347.5 833.3,350.8 831.7,356.7 835,361.7 830,363.3 825,363.3 823.3,368.3 820,371.7 813.3,374.2 806.7,375 805,371.7 800.8,368.3 800.8,363.3 806.7,361.7 808.3,359.2" fill="#FECE65" stroke="#FECE65" stroke-width="0.6" stroke-linejoin="round"/>
<polygon points="737.5,368.3 740,363.3 743.3,359.2 748.3,360.8 749.2,366.7 753.3,368.3 756.7,365.8 761.7,366.7 763.3,371.7 765.8,375.8 760,377.5 755,378.3 749.2,382.5 743.3,380.8 738.3,376.7 736.7,372.5" fill="#F68720" stroke="#F68720" stroke-width="0.6" stroke-linejoin="round"/>
<polygon points="748.3,360.8 753.3,360 756.7,357.5 763.3,356.7 770,355 776.7,353.3 780,357.5 775,360 773.3,365 781.7,366.7 783.3,373.3 781.7,378.3 776.7,380 772.5,382.5 766.7,378.3 765.8,375.8 763.3,371.7 761.7,366.7 756.7,365.8 753.3,368.3 749.2,366.7" fill="#FECE65" stroke="#FECE65" stroke-width="0.6" stroke-linejoin="round"/>
<polygon points="730,372.5 736.7,372.5 738.3,376.7 743.3,380.8 749.2,382.5 755,378.3 760,377.5 765.8,375.8 766.7,378.3 772.5,382.5 770,388.3 766.7,394.2 760,396.7 755,401.7 750,408.3 748.3,415 740,420 735,426.7 733.3,430 710,430 713.3,421.7 716.7,413.3 712.5,406.7 711.7,400 718.3,395 718.3,386.7 721.7,378.3 723.3,374.2" fill="#FFF8C1" stroke="#FFF8C1" stroke-width="0.6" stroke-linejoin="round"/>
<polygon points="760,396.7 766.7,394.2 768.3,400 771.7,406.7 775,413.3 773.3,420 771.7,430 733.3,430 735,426.7 740,420 748.3,415 750,408.3 755,401.7" fill="#FFFFE5" stroke="#FFFFE5" stroke-width="0.6" stroke-linejoin="round"/>
<polygon points="783.3,373.3 788.3,372.5 795,370 800,368.3 805,371.7 806.7,375 813.3,374.2 814.2,380 815.8,388.3 818.3,394.2 821.7,395 824.2,390 826.7,390 833.3,392.5 840,393.3 840,405 831.7,406.7 823.3,409.2 816.7,406.7 810,403.3 806.7,398.3 800,398.3 796.7,400 790,393.3 781.7,390 773.3,388.3 770,388.3 772.5,382.5 776.7,380 781.7,378.3" fill="#FEE79B" stroke="#FEE79B" stroke-width="0.6" stroke-linejoin="round"/>
<polygon points="813.3,374.2 820,371.7 824.2,373.3 825,380 823.3,385 824.2,390 821.7,395 818.3,394.2 815.8,388.3 814.2,380" fill="#FEAC3A" stroke="#FEAC3A" stroke-width="0.6" stroke-linejoin="round"/>
<polygon points="825,363.3 830,363.3 835,361.7 840,363.3 840,393.3 833.3,392.5 826.7,390 824.2,385 825,380 824.2,373.3 823.3,368.3" fill="#FECE65" stroke="#FECE65" stroke-width="0.6" stroke-linejoin="round"/>
<polygon points="825,363.3 830.8,363.3 831.7,368.3 829.2,371.7 825.8,368.3" fill="#FEAC3A" stroke="#FEAC3A" stroke-width="0.6" stroke-linejoin="round"/>
<polygon points="766.7,394.2 770,388.3 773.3,388.3 781.7,390 790,393.3 796.7,400 798.3,406.7 795,411.7 790,413.3 785,413.3 780,415 775,413.3 771.7,406.7 768.3,400" fill="#FECE65" stroke="#FECE65" stroke-width="0.6" stroke-linejoin="round"/>
<polygon points="796.7,400 800,398.3 806.7,398.3 810,403.3 816.7,406.7 820,405 816.7,410 813.3,415 808.3,421.7 806.7,430 800,430 798.3,421.7 796.7,413.3 798.3,406.7" fill="#F68720" stroke="#F68720" stroke-width="0.6" stroke-linejoin="round"/>
<polygon points="775,413.3 780,415 785,413.3 790,413.3 795,411.7 796.7,413.3 798.3,421.7 800,430 771.7,430 773.3,420" fill="#FEE79B" stroke="#FEE79B" stroke-width="0.6" stroke-linejoin="round"/>
<polygon points="823.3,409.2 831.7,406.7 840,405 840,430 806.7,430 808.3,421.7 813.3,415 816.7,410" fill="#E1640E" stroke="#E1640E" stroke-width="0.6" stroke-linejoin="round"/>
<polygon points="615,329.2 626.7,323.3 636.7,319.2 650,316.7 650,400 643.3,400 641.7,396.7 647.5,390 648.3,383.3 650,383.3 650,373.3 646.7,373.3 646.7,367.5 644.2,367.5 644.2,366.7 643.3,357.5 638.3,355 633.3,353.3 626.7,348.3 620,343.3 616.7,338.3 615.8,333.3" fill="#FFFFE5" stroke="#FFFFE5" stroke-width="0.6" stroke-linejoin="round"/>
<polygon points="630.8,387.5 632.5,381.7 636.7,378.3 642.5,376.7 644.2,376.7 645,380 646.7,383.3 647.5,385 645,388.3 642.1,392.1 640,391.2 635.8,389.2 632.5,388.3" fill="#D9D9D9" stroke="#D9D9D9" stroke-width="0.6" stroke-linejoin="round"/>
<polygon points="644.6,367.9 646.7,367.1 646.5,371.7 647.1,379.2 649.6,380 649.8,383.3 646.7,383.3 645,380 644.2,376.7 641.2,374.2 644.2,372.5" fill="#933204" stroke="#933204" stroke-width="0.6" stroke-linejoin="round"/>
<polygon points="628.3,391.7 630.8,388.3 635.8,389.2 640,391.2 642.1,392.1 641.7,395.8 639.6,399.2 641.7,401.7 644.2,405 645.4,408.8 643.3,411.2 639.2,411.2 635.8,408.3 634.2,403.3 631.7,400.8 628.8,399.2 627.9,395" fill="#FEAC3A" stroke="#FEAC3A" stroke-width="0.6" stroke-linejoin="round"/>
<polygon points="830,230 936.7,230 936.7,236.7 931.7,241.7 923.3,242.5 915,241.7 912.5,246.7 918.3,251.7 920,263.3 923.3,273.3 928.3,276.7 938.3,272.5 941.7,280 945,288.3 943.3,293.3 948.3,295 945,301.7 938.3,305 930,307.5 923.3,306.7 916.7,310 910,313.3 903.3,316.7 896.7,319.2 891.7,313.3 888.3,303.3 893.3,296.7 896.7,288.3 895,280 888.3,273.3 883.3,266.7 875,258.3 870,257.5 865,265 861.7,270 851.7,275 843.3,280 836.7,278.3 830,279.2" fill="#FFF8C1" stroke="#FFF8C1" stroke-width="0.6" stroke-linejoin="round"/>
<polygon points="830,279.2 836.7,278.3 843.3,280 851.7,275 861.7,270 865,265 870,257.5 875,258.3 883.3,266.7 888.3,273.3 895,280 896.7,288.3 893.3,296.7 888.3,303.3 891.7,313.3 896.7,319.2 890,321.7 885,325 883.3,330 880,323.3 875,316.7 870,318.3 868.3,323.3 870.8,333.3 866.7,338.3 858.3,336.7 851.7,335 850,326.7 846.7,316.7 841.7,311.7 830,313.3" fill="#FECE65" stroke="#FECE65" stroke-width="0.6" stroke-linejoin="round"/>
<polygon points="830,313.3 841.7,311.7 846.7,316.7 850,326.7 851.7,335 858.3,336.7 866.7,338.3 863.3,345 866.7,350 860,353.3 855,355 846.7,356.7 840,359.2 833.3,356.7 830,350" fill="#F68720" stroke="#F68720" stroke-width="0.6" stroke-linejoin="round"/>
<polygon points="870.8,333.3 868.3,323.3 870,318.3 875,316.7 880,323.3 883.3,330 885,325 885,338.3 883.3,341.7 876.7,346.7 871.7,350 866.7,350 863.3,345 866.7,338.3" fill="#FEE79B" stroke="#FEE79B" stroke-width="0.6" stroke-linejoin="round"/>
<polygon points="885,325 890,321.7 896.7,319.2 901.7,320.8 903.3,327.5 896.7,331.7 890,335 883.3,341.7 885,338.3 883.3,330" fill="#FECE65" stroke="#FECE65" stroke-width="0.6" stroke-linejoin="round"/>
<polygon points="901.7,320.8 903.3,316.7 910,313.3 916.7,310 923.3,306.7 930,307.5 932.5,311.7 931.7,316.7 925,320.8 918.3,325 911.7,328.3 903.3,327.5" fill="#FFFFE5" stroke="#FFFFE5" stroke-width="0.6" stroke-linejoin="round"/>
<polygon points="871.7,350 876.7,346.7 883.3,341.7 890,335 896.7,331.7 903.3,328.3 911.7,328.3 918.3,325 925,320.8 927.5,326.7 923.3,333.3 916.7,336.7 910,338.3 911.7,345 908.3,346.7 901.7,348.3 895.8,352.5 891.7,358.3 885,361.7 878.3,363.3 875,356.7" fill="#F68720" stroke="#F68720" stroke-width="0.6" stroke-linejoin="round"/>
<polygon points="855,355 860,353.3 866.7,350 871.7,350 875,356.7 878.3,363.3 870,370 868.3,376.7 863.3,375 860,368.3 861.7,361.7 856.7,358.3" fill="#FEE79B" stroke="#FEE79B" stroke-width="0.6" stroke-linejoin="round"/>
<polygon points="833.3,356.7 840,359.2 846.7,356.7 855,355 856.7,358.3 861.7,361.7 860,368.3 863.3,375 868.3,376.7 861.7,381.7 855,385 846.7,380 843.3,385 840,378.3 838.3,371.7 835,363.3" fill="#FECE65" stroke="#FECE65" stroke-width="0.6" stroke-linejoin="round"/>
<polygon points="925,320.8 931.7,316.7 932.5,311.7 938.3,310 943.3,313.3 946.7,320 949.2,325.8 946.7,331.7 940,333.3 933.3,336.7 930,341.7 926.7,343.3 920,340 916.7,336.7 923.3,333.3 927.5,326.7" fill="#FEE79B" stroke="#FEE79B" stroke-width="0.6" stroke-linejoin="round"/>
<polygon points="910,338.3 916.7,336.7 920,340 926.7,343.3 930,341.7 933.3,346.7 930,350 925,345 920,348.3 915,346.7 911.7,345" fill="#FFF8C1" stroke="#FFF8C1" stroke-width="0.6" stroke-linejoin="round"/>
<polygon points="920,348.3 925,345 928.3,350 933.3,353.3 935,358.3 930,361.7 926.7,365 920,363.3 916.7,360 922.5,355 920,351.7" fill="#F68720" stroke="#F68720" stroke-width="0.6" stroke-linejoin="round"/>
<polygon points="930,341.7 933.3,336.7 940,333.3 936.7,338.3 938.3,345 945,346.7 948.3,351.7 946.7,358.3 941.7,361.7 936.7,360 935,358.3 933.3,353.3 933.3,346.7" fill="#FEE79B" stroke="#FEE79B" stroke-width="0.6" stroke-linejoin="round"/>
<polygon points="946.7,320 950,316.7 956.7,318.3 963.3,315 970,315 975,320 978.3,326.7 976.7,331.7 981.7,338.3 983.3,345 976.7,343.3 968.3,341.7 960,343.3 955,346.7 946.7,348.3 945,346.7 938.3,345 936.7,338.3 940,333.3 946.7,331.7 949.2,325.8" fill="#FFF8C1" stroke="#FFF8C1" stroke-width="0.6" stroke-linejoin="round"/>
<polygon points="904.2,375 906.7,372.5 911.7,366.7 916.7,360 920,363.3 926.7,365 930,361.7 935,358.3 936.7,360 941.7,361.7 946.7,358.3 948.3,351.7 946.7,348.3 955,346.7 960,343.3 968.3,341.7 976.7,343.3 983.3,345 985,345 980,348.3 970,354.2 961.7,360 956.7,366.7 946.7,368.3 936.7,371.7 926.7,375 920,380 913.3,385.8 908.3,388.3 901.7,389.2 903.3,386.7 911.7,383.3 912.5,380 908.3,379.2" fill="#FECE65" stroke="#FECE65" stroke-width="0.6" stroke-linejoin="round"/>
<polygon points="945,301.7 948.3,295 953.3,296.7 960,303.3 965,305 968.3,301.7 971.7,308.3 975,315 975,320 970,315 963.3,315 956.7,318.3 950,316.7 946.7,320 943.3,313.3 938.3,310 938.3,305" fill="#FEAC3A" stroke="#FEAC3A" stroke-width="0.6" stroke-linejoin="round"/>
<polygon points="985,305 990,306.7 996.7,308.3 1001.7,311.7 998.3,316.7 995,323.3 993.3,328.3 996.7,331.7 1000,331.7 996.7,336.7 990,341.7 985,345 983.3,345 981.7,338.3 976.7,331.7 978.3,326.7 976.7,320 980,315 983.3,310" fill="#E1640E" stroke="#E1640E" stroke-width="0.6" stroke-linejoin="round"/>
<polygon points="1001.7,311.7 1006.7,307.5 1011.7,308.3 1018.3,310 1023.3,313.3 1026.7,320 1030,323.3 1030,335 1018.3,333.3 1011.7,331.7 1006.7,328.3 1000,331.7 996.7,331.7 993.3,328.3 995,323.3 998.3,316.7" fill="#FFF8C1" stroke="#FFF8C1" stroke-width="0.6" stroke-linejoin="round"/>
<polygon points="938.3,272.5 946.7,263.3 953.3,256.7 960,251.7 971.7,251.7 983.3,251.7 986.7,256.7 993.3,259.2 1005,260 1008.3,265 1006.7,270 1000,271.7 993.3,278.3 988.3,283.3 986.7,291.7 985,300 985,305 983.3,310 980,315 976.7,320 975,315 971.7,308.3 968.3,301.7 965,305 960,303.3 953.3,296.7 948.3,295 943.3,293.3 945,288.3 941.7,280" fill="#FEAC3A" stroke="#FEAC3A" stroke-width="0.6" stroke-linejoin="round"/>
<polygon points="1000,271.7 1006.7,270 1013.3,270.8 1018.3,275 1021.7,281.7 1021.7,290 1018.3,296.7 1020,303.3 1016.7,308.3 1011.7,308.3 1006.7,307.5 1001.7,311.7 996.7,308.3 990,306.7 985,305 985,300 986.7,291.7 988.3,283.3 993.3,278.3" fill="#F68720" stroke="#F68720" stroke-width="0.6" stroke-linejoin="round"/>
<polygon points="1008.3,265 1013.3,268.3 1020,271.7 1021.7,278.3 1030,280 1030,300 1023.3,300 1020,303.3 1018.3,296.7 1021.7,290 1021.7,281.7 1018.3,275 1013.3,270.8 1006.7,270" fill="#FEAC3A" stroke="#FEAC3A" stroke-width="0.6" stroke-linejoin="round"/>
<polygon points="1020,303.3 1023.3,300 1030,300 1030,323.3 1026.7,320 1023.3,313.3 1018.3,310 1016.7,308.3" fill="#FECE65" stroke="#FECE65" stroke-width="0.6" stroke-linejoin="round"/>
<polygon points="912.5,246.7 915,241.7 923.3,242.5 931.7,241.7 936.7,236.7 950,235.8 953.3,243.3 958.3,251.7 953.3,256.7 946.7,263.3 938.3,272.5 928.3,276.7 923.3,273.3 920,263.3 918.3,251.7" fill="#E1640E" stroke="#E1640E" stroke-width="0.6" stroke-linejoin="round"/>
<polygon points="950,230 975,230 971.7,236.7 978.3,241.7 983.3,246.7 983.3,251.7 971.7,251.7 960,251.7 958.3,251.7 953.3,243.3 950,235.8" fill="#F68720" stroke="#F68720" stroke-width="0.6" stroke-linejoin="round"/>
<polygon points="975,230 1030,230 1030,275 1021.7,278.3 1020,271.7 1013.3,268.3 1008.3,265 1005,260 993.3,259.2 986.7,256.7 983.3,251.7 983.3,246.7 978.3,241.7 971.7,236.7" fill="#FEAC3A" stroke="#FEAC3A" stroke-width="0.6" stroke-linejoin="round"/>
<polygon points="936.7,230 950,230 950,235.8 936.7,236.7" fill="#FEE79B" stroke="#FEE79B" stroke-width="0.6" stroke-linejoin="round"/>
<polygon points="801.7,199.2 806.7,194.2 806.7,190 811.7,183.3 816.7,173.3 821.7,164.2 831.7,166.7 841.7,170 848.3,165.8 856.7,161.7 866.7,160 870,155.8 866.7,151.7 871.7,145 876.7,136.7 881.7,128.3 890,121.7 895,116.7 894.2,108.3 890,105.8 882.5,105.8 883.3,102.5 890,99.2 896.7,94.2 906.7,92.5 911.7,91.7 913.3,96.7 910,101.7 905,106.7 913.3,112.5 920,110 926.7,111.7 930.8,116.7 931.7,125 935,131.7 940,134.2 946.7,132.5 956.7,132.5 965,131.7 971.7,127.5 978.3,128.3 985,134.2 990,138.3 990,141.7 985.8,148.3 980,156.7 975,163.3 975,171.7 971.7,176.7 966.7,181.7 963.3,190 961.7,199.2 959.2,191.7 955,193.3 948.3,198.3 940,205 931.7,210 925,215 916.7,215.8 910,216.7 905,218.3 896.7,216.7 891.7,211.7 885,208.3 880,210 873.3,213.3 868.3,211.7 861.7,206.7 856.7,201.7 846.7,200.8 840,203.3 835,207.5 830,205 821.7,203.3 813.3,203.3 810,206.7 805,202.5" fill="#F68720" stroke="#F68720" stroke-width="0.6" stroke-linejoin="round"/>
<polygon points="949.2,151.7 954.2,148.3 960.8,150 960,155 952.5,155.8" fill="#D9D9D9" stroke="#D9D9D9" stroke-width="0.6" stroke-linejoin="round"/>
<polygon points="790,254.2 800,253.3 806.7,250 813.3,246.7 815,241.7 820,236.7 828.3,234.2 835,230.8 840,230 850,227.5 860,226.7 868.3,228.3 876.7,229.2 880,225 878.3,220 873.3,215 868.3,211.7 873.3,213.3 880,210 885,208.3 891.7,211.7 896.7,216.7 905,218.3 910,216.7 916.7,215.8 925,215 931.7,220 933.3,225 936.7,227.5 935,232.5 936.7,235 933.3,240 931.7,243.3 926.7,245 921.7,243.3 915,241.7 912.5,246.7 916.7,250 919.2,256.7 918.3,270 790,270" fill="#FFF8C1" stroke="#FFF8C1" stroke-width="0.6" stroke-linejoin="round"/>
<polygon points="925,215 931.7,210 940,205 948.3,198.3 955,193.3 959.2,191.7 961.7,199.2 963.3,190 966.7,181.7 971.7,176.7 975,171.7 980,176.7 990,180 990,213.3 978.3,213.3 970,212.5 961.7,215 956.7,220 950,226.7 946.7,225 945,221.7 940,222.5 941.7,226.7 936.7,227.5 933.3,225 931.7,220" fill="#FEE79B" stroke="#FEE79B" stroke-width="0.6" stroke-linejoin="round"/>
<polygon points="975,163.3 980,156.7 985.8,148.3 990,141.7 990,180 980,176.7 975,171.7" fill="#FFF8C1" stroke="#FFF8C1" stroke-width="0.6" stroke-linejoin="round"/>
<polygon points="950,226.7 956.7,220 961.7,215 970,212.5 976.7,213.3 975,220 973.3,228.3 970,235 973.3,240 980,243.3 984.2,248.3 985,253.3 978.3,254.2 970,252.5 963.3,253.3 958.3,250 955,245 954.2,238.3 950.8,235 949.2,230" fill="#F68720" stroke="#F68720" stroke-width="0.6" stroke-linejoin="round"/>
<polygon points="976.7,213.3 990,213.3 990,251.7 985,253.3 984.2,248.3 980,243.3 973.3,240 970,235 973.3,228.3 975,220" fill="#FECE65" stroke="#FECE65" stroke-width="0.6" stroke-linejoin="round"/>
<polygon points="936.7,227.5 941.7,226.7 946.7,225 950,226.7 949.2,230 950.8,235 943.3,235 936.7,235 935,232.5" fill="#FEE79B" stroke="#FEE79B" stroke-width="0.6" stroke-linejoin="round"/>
<polygon points="912.5,246.7 915,241.7 921.7,243.3 926.7,245 931.7,243.3 933.3,240 936.7,235 943.3,235 950.8,235 954.2,238.3 955,245 958.3,250 953.3,253.3 948.3,258.3 943.3,263.3 940,270 919.2,270 919.2,256.7 916.7,250" fill="#E1640E" stroke="#E1640E" stroke-width="0.6" stroke-linejoin="round"/>
<polygon points="958.3,250 963.3,253.3 970,252.5 978.3,254.2 985,253.3 990,251.7 990,270 940,270 943.3,263.3 948.3,258.3 953.3,253.3" fill="#FEAC3A" stroke="#FEAC3A" stroke-width="0.6" stroke-linejoin="round"/>
<polygon points="863.3,270 865.8,261.7 871.7,256.7 878.3,263.3 883.3,270" fill="#FECE65" stroke="#FECE65" stroke-width="0.6" stroke-linejoin="round"/>
<polygon points="980,128.3 990,139.2 986.7,145 980,153.3 975,150 975,133.3" fill="#F68720" stroke="#F68720" stroke-width="0.6" stroke-linejoin="round"/>
<polygon points="990,139.2 1007.5,140.8 1010,141.7 1013.3,148.3 1017.5,156.7 1016.7,162.5 1021.7,167.5 1030,169.2 1038.3,168.3 1045,171.7 1048.3,176.7 1051.7,181.7 1046.7,186.7 1043.3,191.7 1038.3,194.2 1033.3,195 1028.3,200 1023.3,200 1018.3,201.7 1010,204.2 1001.7,206.7 998.3,201.7 1000,195 995,190 986.7,189.2 987.5,185 980,182.5 980,153.3 986.7,145" fill="#FFF8C1" stroke="#FFF8C1" stroke-width="0.6" stroke-linejoin="round"/>
<polygon points="980,182.5 987.5,185 986.7,189.2 995,190 1000,195 998.3,201.7 1001.7,206.7 996.7,208.3 990,210 980,213.3" fill="#FEE79B" stroke="#FEE79B" stroke-width="0.6" stroke-linejoin="round"/>
<polygon points="980,213.3 990,210 996.7,208.3 1001.7,206.7 1010,204.2 1018.3,201.7 1023.3,200 1028.3,200 1031.7,203.3 1030,208.3 1035,213.3 1033.3,215.8 1025,219.2 1020,222.5 1026.7,228.3 1018.3,230 1010,228.3 1003.3,231.7 998.3,238.3 993.3,243.3 993.3,248.3 986.7,251.7 980,252.5" fill="#FECE65" stroke="#FECE65" stroke-width="0.6" stroke-linejoin="round"/>
<polygon points="1026.7,228.3 1035,229.2 1040,230.8 1046.7,229.2 1052.5,228.3 1063.3,230 1061.7,235 1060,240.8 1055,243.3 1048.3,246.7 1045,251.7 1045.8,258.3 1041.7,264.2 1036.7,268.3 1031.7,271.7 1026.7,278.3 1021.7,280.8 1018.3,275 1015,271.7 1008.3,270 1006.7,263.3 1001.7,258.3 996.7,257.5 990,258.3 985,255.8 980,252.5 986.7,251.7 993.3,248.3 993.3,243.3 998.3,238.3 1003.3,231.7 1010,228.3 1018.3,230" fill="#FEAC3A" stroke="#FEAC3A" stroke-width="0.6" stroke-linejoin="round"/>
<polygon points="1054.2,220 1058.3,216.7 1065,219.2 1071.7,218.3 1076.7,221.7 1074.2,226.7 1078.3,231.7 1083.3,236.7 1086.7,239.2 1080,241.7 1073.3,243.3 1066.7,240.8 1063.3,240 1060,240.8 1061.7,235 1063.3,230 1052.5,228.3" fill="#FFF8C1" stroke="#FFF8C1" stroke-width="0.6" stroke-linejoin="round"/>
<polygon points="1105,206.7 1106.7,205.8 1110,201.7 1118.3,198.3 1126.7,195.8 1135,194.2 1145,192.5 1152.5,191.7 1148.3,194.2 1144.2,200 1147.5,205.8 1143.3,210.8 1142.5,203.3 1138.3,206.7 1130,210.8 1123.3,213.3 1118.3,220 1113.3,223.3 1108.3,224.2 1101.7,225 1096.7,221.7 1088.3,223.3 1086.7,220.8 1080,222.5 1076.7,221.7 1071.7,218.3 1080,215 1088.3,215 1096.7,215 1103.3,210.8" fill="#FFF8C1" stroke="#FFF8C1" stroke-width="0.6" stroke-linejoin="round"/>
<polygon points="1074.2,226.7 1076.7,221.7 1080,222.5 1086.7,220.8 1088.3,223.3 1096.7,221.7 1101.7,225 1108.3,224.2 1113.3,223.3 1118.3,220 1123.3,213.3 1130,210.8 1138.3,206.7 1142.5,203.3 1143.3,210.8 1138.3,213.3 1135.8,220 1133.3,226.7 1131.7,230 1125,230 1118.3,230.8 1115,236.7 1108.3,239.2 1100,244.2 1095,245 1095,240.8 1090,237.5 1086.7,239.2 1083.3,236.7 1078.3,231.7" fill="#F68720" stroke="#F68720" stroke-width="0.6" stroke-linejoin="round"/>
<polygon points="1100,244.2 1108.3,239.2 1115,236.7 1118.3,230.8 1125,230 1131.7,230 1131.7,233.3 1127.5,240 1124.2,246.7 1118.3,253.3 1116.7,260.8 1111.7,260 1103.3,258.3 1096.7,256.7 1093.3,255.8 1088.3,260 1083.3,264.2 1079.2,265.8 1082.5,273.3 1084.2,280 1083.3,288.3 1085,294.2 1080,293.3 1073.3,290 1068.3,288.3 1066.7,282.5 1061.7,283.3 1056.7,282.5 1053.3,286.7 1048.3,288.3 1046.7,292.5 1041.7,291.7 1038.3,285 1035,280 1033.3,273.3 1036.7,268.3 1041.7,264.2 1045.8,258.3 1045,251.7 1048.3,246.7 1055,243.3 1060,240.8 1063.3,240.8 1065,248.3 1073.3,249.2 1078.3,247.5 1085,248.3 1086.7,244.2 1093.3,243.3 1095,245" fill="#FEE79B" stroke="#FEE79B" stroke-width="0.6" stroke-linejoin="round"/>
<polygon points="1063.3,240.8 1066.7,240.8 1073.3,243.3 1080,241.7 1086.7,239.2 1090,237.5 1095,240.8 1095,245 1093.3,243.3 1086.7,244.2 1085,248.3 1078.3,247.5 1073.3,249.2 1065,248.3" fill="#C14702" stroke="#C14702" stroke-width="0.6" stroke-linejoin="round"/>
<polygon points="1021.7,280.8 1026.7,278.3 1031.7,271.7 1033.3,273.3 1035,280 1038.3,285 1041.7,291.7 1046.7,292.5 1048.3,288.3 1053.3,286.7 1056.7,282.5 1061.7,283.3 1066.7,282.5 1068.3,288.3 1073.3,290 1080,293.3 1085,294.2 1084.2,300 1020,300 1020.8,290" fill="#FECE65" stroke="#FECE65" stroke-width="0.6" stroke-linejoin="round"/>
<polygon points="980,252.5 985,255.8 990,258.3 996.7,257.5 1001.7,258.3 1006.7,263.3 1008.3,270 1015,271.7 1018.3,275 1021.7,280.8 1020.8,290 1020,300 980,300" fill="#FEAC3A" stroke="#FEAC3A" stroke-width="0.6" stroke-linejoin="round"/>
<polygon points="996.7,273.3 1005,270 1013.3,273.3 1017.5,280 1020.8,285 1021.7,291.7 1020,300 983.3,300 986.7,288.3 991.7,280" fill="#F68720" stroke="#F68720" stroke-width="0.6" stroke-linejoin="round"/>
<polygon points="1031.7,270 1082.5,270 1084.2,280 1084.2,291.7 1080,293.3 1073.3,290.8 1069.2,288.3 1067.5,282.5 1061.7,284.2 1057.5,283.3 1048.3,286.7 1046.7,291.7 1040.8,291.7 1037.5,285 1034.2,278.3" fill="#FEE79B" stroke="#FEE79B" stroke-width="0.6" stroke-linejoin="round"/>
<polygon points="1021.7,281.7 1026.7,280 1030,274.2 1034.2,278.3 1037.5,285 1040.8,291.7 1046.7,291.7 1048.3,286.7 1057.5,283.3 1061.7,284.2 1067.5,282.5 1069.2,288.3 1073.3,290.8 1080,293.3 1084.2,291.7 1085.8,295 1083.3,298.3 1081.7,305 1076.7,305.8 1071.7,307.5 1073.3,315 1066.7,309.2 1064.2,305 1059.2,304.2 1057.5,311.7 1055,315 1050,316.7 1046.7,320 1042.5,323.3 1036.7,323.3 1027.5,324.2 1025,318.3 1023.3,315 1025.8,311.7 1021.7,306.7 1016.7,301.7 1020,295 1022.5,288.3" fill="#FECE65" stroke="#FECE65" stroke-width="0.6" stroke-linejoin="round"/>
<polygon points="1000,270 1015,270 1016.7,275 1021.7,281.7 1022.5,288.3 1020,295 1016.7,301.7 1021.7,306.7 1015.8,310.8 1010.8,306.7 1006.7,307.5 1000,310.8" fill="#F68720" stroke="#F68720" stroke-width="0.6" stroke-linejoin="round"/>
<polygon points="1015,270 1031.7,270 1030,274.2 1026.7,280 1021.7,281.7 1016.7,275" fill="#FEAC3A" stroke="#FEAC3A" stroke-width="0.6" stroke-linejoin="round"/>
<polygon points="1000,310.8 1006.7,307.5 1010.8,306.7 1015.8,310.8 1021.7,306.7 1025.8,311.7 1023.3,315 1025,318.3 1027.5,324.2 1029.2,330 1031.7,333.3 1029.2,335.8 1023.3,335 1016.7,334.2 1010,332.5 1007.5,328.3 1000,331.7" fill="#FFF8C1" stroke="#FFF8C1" stroke-width="0.6" stroke-linejoin="round"/>
<polygon points="653.3,420 710,420 709.2,430 711.7,440 711.7,450 706.7,453.3 703.3,458.3 696.7,459.2 691.7,457.5 685,455 679.2,455.8 676.7,450 679.2,441.7 673.3,435.8 665,432.5 656.7,428.3 653.3,425" fill="#FFFFE5" stroke="#FFFFE5" stroke-width="0.6" stroke-linejoin="round"/>
<polygon points="640,425 653.3,425 656.7,428.3 665,432.5 673.3,435.8 679.2,441.7 676.7,450 675,460 661.7,461.7 656.7,459.2 648.3,455.8 640,453.3" fill="#FEE79B" stroke="#FEE79B" stroke-width="0.6" stroke-linejoin="round"/>
<polygon points="640,440.8 645.8,441.7 647.5,446.7 645,451.7 640,451.7" fill="#D9D9D9" stroke="#D9D9D9" stroke-width="0.6" stroke-linejoin="round"/>
<polygon points="711.7,430 718.3,428.3 728.3,430 736.7,426.7 743.3,431.7 746.7,438.3 748.3,445 741.7,448.3 738.3,453.3 740,460 733.3,465 723.3,468.3 715,471.7 707.5,474.2 706.7,466.7 706.7,453.3 711.7,450 711.7,440" fill="#FEE79B" stroke="#FEE79B" stroke-width="0.6" stroke-linejoin="round"/>
<polygon points="710,420 736.7,420 736.7,426.7 728.3,430 718.3,428.3 711.7,430 709.2,430" fill="#FFF8C1" stroke="#FFF8C1" stroke-width="0.6" stroke-linejoin="round"/>
<polygon points="736.7,420 773.3,420 770,428.3 765,431.7 768.3,440 766.7,448.3 763.3,450 756.7,448.3 748.3,445 746.7,438.3 743.3,431.7 736.7,426.7" fill="#FFFFE5" stroke="#FFFFE5" stroke-width="0.6" stroke-linejoin="round"/>
<polygon points="740,461.7 748.3,461.7 750.8,464.2 748.3,467.5 742.5,467.5 740,465" fill="#C14702" stroke="#C14702" stroke-width="0.6" stroke-linejoin="round"/>
<polygon points="769.2,440 778.3,441.7 790,443.3 790.8,451.7 790.8,458.3 786.7,461.7 781.7,461.7 778.3,468.3 773.3,468.3 766.7,465 765,460 765,455 766.7,448.3 768.3,440" fill="#FFFFE5" stroke="#FFFFE5" stroke-width="0.6" stroke-linejoin="round"/>
<polygon points="781.7,451.7 788.3,450.8 789.2,459.2 783.3,460.8" fill="#FEE79B" stroke="#FEE79B" stroke-width="0.6" stroke-linejoin="round"/>
<polygon points="773.3,420 805,420 806.7,425 800,430 790,427.5 781.7,428.3 773.3,426.7 770,428.3" fill="#FEE79B" stroke="#FEE79B" stroke-width="0.6" stroke-linejoin="round"/>
<polygon points="770,428.3 773.3,426.7 781.7,428.3 790,427.5 800,430 798.3,436.7 798.3,442.5 790,443.3 778.3,441.7 769.2,440 765,431.7" fill="#FECE65" stroke="#FECE65" stroke-width="0.6" stroke-linejoin="round"/>
<polygon points="790.8,443.3 798.3,442.5 800,446.7 806.7,445 811.7,446.7 805,450.8 798.3,453.3 795,457.5 790.8,458.3" fill="#F68720" stroke="#F68720" stroke-width="0.6" stroke-linejoin="round"/>
<polygon points="798.3,436.7 800,430 806.7,425 816.7,426.7 820,433.3 816.7,440 811.7,446.7 806.7,445 800,446.7 798.3,442.5" fill="#FECE65" stroke="#FECE65" stroke-width="0.6" stroke-linejoin="round"/>
<polygon points="805,420 840,420 840,453.3 831.7,451.7 823.3,448.3 816.7,440 820,433.3 816.7,426.7 806.7,425" fill="#F68720" stroke="#F68720" stroke-width="0.6" stroke-linejoin="round"/>
<polygon points="640,453.3 648.3,455.8 656.7,459.2 661.7,461.7 663.3,468.3 653.3,468.3 645,465 640,463.3" fill="#FECE65" stroke="#FECE65" stroke-width="0.6" stroke-linejoin="round"/>
<polygon points="661.7,461.7 675,460 679.2,455.8 681.7,463.3 678.3,468.3 685,471.7 687.5,475 681.7,480 673.3,482.5 666.7,481.7 665.8,475 663.3,468.3" fill="#FEAC3A" stroke="#FEAC3A" stroke-width="0.6" stroke-linejoin="round"/>
<polygon points="691.7,457.5 696.7,459.2 703.3,458.3 706.7,453.3 706.7,473.3 710,478.3 703.3,478.3 696.7,483.3 690,486.7 681.7,490 673.3,490 665,491.7 661.7,486.7 665.8,482.5 673.3,482.5 681.7,480 687.5,475 685,471.7 678.3,468.3 685,468.3 690,463.3" fill="#FEE79B" stroke="#FEE79B" stroke-width="0.6" stroke-linejoin="round"/>
<polygon points="640,468.3 645,465 653.3,468.3 663.3,468.3 665.8,475 666.7,481.7 665.8,482.5 661.7,486.7 665,491.7 656.7,491.7 648.3,490 640,493.3" fill="#FEE79B" stroke="#FEE79B" stroke-width="0.6" stroke-linejoin="round"/>
<polygon points="703.3,478.3 710,478.3 713.3,486.7 718.3,493.3 720.8,500 716.7,503.3 706.7,502.5 698.3,501.7 693.3,503.3 685,501.7 676.7,498.3 681.7,490 690,486.7 696.7,483.3" fill="#FEAC3A" stroke="#FEAC3A" stroke-width="0.6" stroke-linejoin="round"/>
<polygon points="640,493.3 648.3,490 656.7,491.7 667.5,491.7 667.5,500 670,506.7 668.3,516.7 673.3,520 668.3,523.3 660,520 651.7,515 645,513.3 640,515" fill="#FFFFE5" stroke="#FFFFE5" stroke-width="0.6" stroke-linejoin="round"/>
<polygon points="660,523.3 668.3,523.3 673.3,526.7 675,535 670,540 666.7,546.7 660,553.3 653.3,560 648.3,553.3 642.5,550 646.7,543.3 653.3,536.7 656.7,530" fill="#FEAC3A" stroke="#FEAC3A" stroke-width="0.6" stroke-linejoin="round"/>
<polygon points="640,515 645,513.3 651.7,515 660,520 660,523.3 656.7,530 653.3,536.7 646.7,543.3 642.5,550 640,548.3" fill="#FFF8C1" stroke="#FFF8C1" stroke-width="0.6" stroke-linejoin="round"/>
<polygon points="673.3,525 675.8,533.3 690,533.3 701.7,538.3 705,546.7 695,553.3 685,555 676.7,558.3 674.2,565 680,575 685,586.7 688.3,595 686.7,603.3 680,605 675,596.7 670,590 663.3,586.7 656.7,585 650,583.3 646.7,576.7 646.7,568.3 643.3,566.7 640,561.7 640,548.3 642.5,550 648.3,553.3 653.3,560 660,553.3 666.7,546.7 670,540 675,535" fill="#FEE79B" stroke="#FEE79B" stroke-width="0.6" stroke-linejoin="round"/>
<polygon points="707.5,474.2 715,471.7 723.3,468.3 733.3,465 740,465 742.5,467.5 748.3,467.5 753.3,469.2 753.3,473.3 750,478.3 748.3,485 743.3,490 740,493.3 733.3,492.5 726.7,491.7 721.7,493.3 720.8,500 718.3,493.3 713.3,486.7 710,478.3" fill="#FEE79B" stroke="#FEE79B" stroke-width="0.6" stroke-linejoin="round"/>
<polygon points="753.3,469.2 760,468.3 766.7,465 773.3,468.3 776.7,471.7 773.3,476.7 778.3,483.3 775,490 768.3,493.3 763.3,486.7 760,481.7 755,480 750,478.3 753.3,473.3" fill="#FFFFE5" stroke="#FFFFE5" stroke-width="0.6" stroke-linejoin="round"/>
<polygon points="748.3,485 750,478.3 755,480 760,481.7 763.3,486.7 765,493.3 761.7,497.5 756.7,495 750,493.3 743.3,490" fill="#FECE65" stroke="#FECE65" stroke-width="0.6" stroke-linejoin="round"/>
<polygon points="773.3,468.3 778.3,468.3 781.7,461.7 786.7,461.7 790.8,458.3 795,457.5 800,466.7 800,473.3 806.7,475 813.3,476.7 816.7,481.7 821.7,485 820,488.3 813.3,486.7 805,485.8 802.5,490 798.3,498.3 790.8,505 786.7,500 781.7,498.3 778.3,493.3 775,490 778.3,483.3 773.3,476.7 776.7,471.7" fill="#FEE79B" stroke="#FEE79B" stroke-width="0.6" stroke-linejoin="round"/>
<polygon points="790.8,458.3 798.3,453.3 805,450.8 811.7,446.7 816.7,440 823.3,448.3 831.7,451.7 828.3,458.3 823.3,463.3 818.3,468.3 815,475 813.3,476.7 806.7,475 800,473.3 800,466.7 795,457.5" fill="#FEE79B" stroke="#FEE79B" stroke-width="0.6" stroke-linejoin="round"/>
<polygon points="813.3,455 821.7,453.3 828.3,458.3 823.3,463.3 818.3,468.3 813.3,465" fill="#FECE65" stroke="#FECE65" stroke-width="0.6" stroke-linejoin="round"/>
<polygon points="721.7,493.3 726.7,491.7 733.3,492.5 740,493.3 743.3,490 750,493.3 756.7,495 761.7,497.5 760,503.3 761.7,508.3 760,515 760,520 755,520 748.3,520 741.7,520 735,516.7 728.3,513.3 725,506.7 720.8,500" fill="#FFFFE5" stroke="#FFFFE5" stroke-width="0.6" stroke-linejoin="round"/>
<polygon points="761.7,497.5 765,493.3 768.3,493.3 771.7,498.3 778.3,497.5 783.3,500 786.7,503.3 791.7,508.3 793.3,513.3 788.3,515 783.3,518.3 783.3,521.7 778.3,518.3 773.3,515 768.3,515.8 763.3,516.7 760,515 761.7,508.3 760,503.3" fill="#F68720" stroke="#F68720" stroke-width="0.6" stroke-linejoin="round"/>
<polygon points="790.8,505 798.3,498.3 802.5,490 805,485.8 813.3,486.7 820,488.3 823.3,495 825,503.3 821.7,510 818.3,516.7 813.3,518.3 808.3,515.8 806.7,510 800,506.7 795,508.3" fill="#FECE65" stroke="#FECE65" stroke-width="0.6" stroke-linejoin="round"/>
<polygon points="806.7,510 808.3,515.8 813.3,518.3 818.3,516.7 821.7,510 825,503.3 831.7,510 833.3,520 840,521.7 840,536.7 831.7,540 823.3,543.3 815,545 806.7,540 800,536.7 806.7,530 808.3,523.3 807.5,516.7" fill="#FFF8C1" stroke="#FFF8C1" stroke-width="0.6" stroke-linejoin="round"/>
<polygon points="693.3,503.3 698.3,501.7 706.7,502.5 716.7,503.3 720.8,500 725,506.7 728.3,513.3 723.3,520 720,526.7 713.3,530 706.7,531.7 705,536.7 701.7,538.3 695,531.7 694.2,523.3 695,516.7 705,515 703.3,510 698.3,505" fill="#FFF8C1" stroke="#FFF8C1" stroke-width="0.6" stroke-linejoin="round"/>
<polygon points="723.3,520 728.3,513.3 735,516.7 741.7,520 748.3,520 755,520 756.7,526.7 753.3,533.3 743.3,536.7 736.7,540 730,541.7 723.3,540 718.3,533.3 720,526.7" fill="#FFFFE5" stroke="#FFFFE5" stroke-width="0.6" stroke-linejoin="round"/>
<polygon points="755,520 760,520 760,515 763.3,516.7 768.3,515.8 770,523.3 771.7,530 775,535 771.7,538.3 763.3,540 756.7,536.7 753.3,533.3 756.7,526.7" fill="#FECE65" stroke="#FECE65" stroke-width="0.6" stroke-linejoin="round"/>
<polygon points="768.3,515.8 773.3,515 778.3,518.3 783.3,521.7 783.3,518.3 788.3,515 793.3,513.3 791.7,508.3 795,508.3 800,506.7 806.7,510 807.5,516.7 808.3,523.3 806.7,530 800,536.7 793.3,538.3 786.7,535 780,533.3 775,535 771.7,530 770,523.3" fill="#FFF8C1" stroke="#FFF8C1" stroke-width="0.6" stroke-linejoin="round"/>
<polygon points="736.7,540 743.3,536.7 753.3,536.7 760,540 764.2,544.2 761.7,550 755,551.7 750,555 746.7,559.2 741.7,557.5 739.2,550 736.7,545" fill="#E1640E" stroke="#E1640E" stroke-width="0.6" stroke-linejoin="round"/>
<polygon points="710,540 716.7,538.3 723.3,540 730,541.7 736.7,540 736.7,545 739.2,550 741.7,557.5 740,563.3 733.3,565 726.7,566.7 718.3,565.8 711.7,566.7 708.3,561.7 710,553.3 709.2,546.7 705,546.7 701.7,538.3 705,536.7" fill="#FEE79B" stroke="#FEE79B" stroke-width="0.6" stroke-linejoin="round"/>
<polygon points="764.2,544.2 763.3,540 771.7,538.3 778.3,540 781.7,546.7 778.3,553.3 776.7,560 773.3,565 769.2,561.7 765,558.3 756.7,556.7 750,555 755,551.7 761.7,550" fill="#FFFFE5" stroke="#FFFFE5" stroke-width="0.6" stroke-linejoin="round"/>
<polygon points="775,535 780,533.3 786.7,535 793.3,538.3 800,536.7 806.7,540 811.7,548.3 808.3,553.3 810,561.7 811.7,568.3 805,570 798.3,573.3 790,570 783.3,566.7 786.7,561.7 785,556.7 781.7,553.3 778.3,553.3 781.7,546.7 778.3,540 771.7,538.3" fill="#FEE79B" stroke="#FEE79B" stroke-width="0.6" stroke-linejoin="round"/>
<polygon points="786.7,565 791.7,561.7 797.5,565.8 800,571.7 795,575 789.2,572.5" fill="#FECE65" stroke="#FECE65" stroke-width="0.6" stroke-linejoin="round"/>
<polygon points="806.7,551.7 811.7,548.3 815,545 823.3,543.3 830,545 828.3,553.3 830.8,556.7 825,563.3 821.7,566.7 816.7,570.8 812.5,568.3 810,561.7 808.3,553.3" fill="#FEAC3A" stroke="#FEAC3A" stroke-width="0.6" stroke-linejoin="round"/>
<polygon points="675.8,558.3 685,555 693.3,555 698.3,551.7 705,546.7 709.2,546.7 710,553.3 708.3,561.7 711.7,566.7 706.7,570 698.3,573.3 693.3,578.3 690,586.7 685,586.7 680,575 674.2,565" fill="#FFFFE5" stroke="#FFFFE5" stroke-width="0.6" stroke-linejoin="round"/>
<polygon points="640,561.7 643.3,566.7 646.7,568.3 646.7,576.7 650,583.3 656.7,585 663.3,586.7 668.3,590 666.7,596.7 665,603.3 665,620 640,620" fill="#FFFFE5" stroke="#FFFFE5" stroke-width="0.6" stroke-linejoin="round"/>
<polygon points="690,586.7 693.3,578.3 698.3,573.3 706.7,570 711.7,566.7 718.3,565.8 726.7,566.7 733.3,565 740,563.3 741.7,557.5 746.7,559.2 748.3,564.2 753.3,566.7 760,566.7 768.3,565.8 773.3,565 778.3,570 775,578.3 773.3,586.7 778.3,595 776.7,603.3 771.7,611.7 768.3,620 690,620 689.2,608.3 688.3,595" fill="#FFFFE5" stroke="#FFFFE5" stroke-width="0.6" stroke-linejoin="round"/>
<polygon points="743.3,580 753.3,576.7 760,578.3 765,573.3 768.3,578.3 771.7,586.7 776.7,595 775,600 766.7,601.7 760,598.3 753.3,600 746.7,603.3 740,605 735,608.3 726.7,608.3 718.3,606.7 715,603.3 723.3,600 733.3,596.7 741.7,593.3 742.5,586.7" fill="#FECE65" stroke="#FECE65" stroke-width="0.6" stroke-linejoin="round"/>
<polygon points="778.3,570 783.3,566.7 790,570 798.3,573.3 805,570 811.7,568.3 816.7,570.8 821.7,566.7 825,563.3 828.3,566.7 828.3,573.3 831.7,580 840,581.7 840,620 778.3,620 771.7,611.7 776.7,603.3 778.3,595 773.3,586.7 775,578.3" fill="#FFFFE5" stroke="#FFFFE5" stroke-width="0.6" stroke-linejoin="round"/>
<polygon points="778.3,620 785,615 793.3,613.3 800,610 805,613.3 803.3,620" fill="#F68720" stroke="#F68720" stroke-width="0.6" stroke-linejoin="round"/>
<polygon points="823.3,543.3 831.7,540 840,536.7 840,570 831.7,570 828.3,566.7 825,563.3 830.8,556.7 828.3,553.3 830,545" fill="#FEE79B" stroke="#FEE79B" stroke-width="0.6" stroke-linejoin="round"/>
<polygon points="828.3,566.7 831.7,570 840,570 840,581.7 831.7,580 828.3,573.3" fill="#FECE65" stroke="#FECE65" stroke-width="0.6" stroke-linejoin="round"/>
<polygon points="679.2,455.8 685,455 691.7,457.5 690,463.3 685,468.3 678.3,468.3 681.7,463.3" fill="#D9D9D9" stroke="#D9D9D9" stroke-width="0.6" stroke-linejoin="round"/>
<polygon points="667.5,491.7 676.7,498.3 685,501.7 693.3,503.3 698.3,505 703.3,510 705,515 695,516.7 694.2,523.3 695,531.7 690,533.3 675.8,533.3 673.3,525 673.3,520 668.3,516.7 670,506.7 667.5,500" fill="#D9D9D9" stroke="#D9D9D9" stroke-width="0.6" stroke-linejoin="round"/>
<polygon points="738.3,453.3 741.7,448.3 748.3,445 756.7,448.3 763.3,450 765,455 760,458.3 755,460.8 748.3,461.7 740,460" fill="#D9D9D9" stroke="#D9D9D9" stroke-width="0.6" stroke-linejoin="round"/>
<polygon points="750.8,464.2 755,460.8 765,460 766.7,465 760,468.3 753.3,469.2" fill="#D9D9D9" stroke="#D9D9D9" stroke-width="0.6" stroke-linejoin="round"/>
<polygon points="705.8,533.3 711.7,530.8 718.3,533.3 716.7,538.3 710,540 705,538.3" fill="#D9D9D9" stroke="#D9D9D9" stroke-width="0.6" stroke-linejoin="round"/>
<polygon points="746.7,559.2 750,555 756.7,556.7 765,558.3 769.2,561.7 768.3,565.8 760,566.7 753.3,566.7 748.3,564.2" fill="#D9D9D9" stroke="#D9D9D9" stroke-width="0.6" stroke-linejoin="round"/>
<polygon points="784.2,558.3 788.3,555.8 792.5,560 790.8,565 785,566.7" fill="#D9D9D9" stroke="#D9D9D9" stroke-width="0.6" stroke-linejoin="round"/>
<polygon points="698.3,575 706.7,574.2 715,575 723.3,576.7 725.8,580 721.7,585 716.7,586.7 713.3,590 708.3,588.3 705,583.3 700,580" fill="#D9D9D9" stroke="#D9D9D9" stroke-width="0.6" stroke-linejoin="round"/>
<polygon points="668.3,590 675,596.7 680,605 686.7,603.3 689.2,608.3 690,620 665,620 665,603.3 666.7,596.7" fill="#D9D9D9" stroke="#D9D9D9" stroke-width="0.6" stroke-linejoin="round"/>
<polygon points="768.3,620 770,613.3 775,610 778.3,613.3 778.3,620" fill="#D9D9D9" stroke="#D9D9D9" stroke-width="0.6" stroke-linejoin="round"/>
<polygon points="850.8,402.5 862.5,403.3 864.2,408.3 869.2,410 865,413.3 863.3,418.3 860,420 855.8,425 853.3,420 848.3,415 851.7,408.3" fill="#933204" stroke="#933204" stroke-width="0.6" stroke-linejoin="round"/>
<polygon points="836.7,406.7 843.3,400 850.8,402.5 851.7,408.3 848.3,415 845,420 838.3,419.2 833.3,415" fill="#FECE65" stroke="#FECE65" stroke-width="0.6" stroke-linejoin="round"/>
<polygon points="833.3,415 838.3,419.2 845,420 848.3,415 853.3,420 855.8,425 850,430.8 843.3,431.7 838.3,426.7 835,421.7" fill="#FEAC3A" stroke="#FEAC3A" stroke-width="0.6" stroke-linejoin="round"/>
<polygon points="820,408.3 828.3,406.7 836.7,406.7 833.3,415 835,421.7 830,428.3 825,433.3 820,435 815,433.3 815,410" fill="#E1640E" stroke="#E1640E" stroke-width="0.6" stroke-linejoin="round"/>
<polygon points="835,421.7 838.3,426.7 843.3,431.7 850,430.8 849.2,438.3 853.3,443.3 850,446.7 843.3,448.3 838.3,451.7 831.7,450 826.7,446.7 820,448.3 815,448.3 815,433.3 820,435 825,433.3 830,428.3" fill="#F68720" stroke="#F68720" stroke-width="0.6" stroke-linejoin="round"/>
<polygon points="820,438.3 826.7,435.8 833.3,438.3 840,441.7 845,446.7 841.7,450 836.7,451.7 830,450 825,448.3 820,448.3" fill="#E1640E" stroke="#E1640E" stroke-width="0.6" stroke-linejoin="round"/>
<polygon points="855.8,425 860,420 863.3,418.3 868.3,422.5 873.3,423.3 875,428.3 873.3,433.3 878.3,438.3 876.7,445 873.3,450 868.3,448.3 863.3,445 858.3,446.7 853.3,443.3 849.2,438.3 850,430.8" fill="#FECE65" stroke="#FECE65" stroke-width="0.6" stroke-linejoin="round"/>
<polygon points="873.3,423.3 878.3,421.7 883.3,423.3 888.3,425 891.7,430 893.3,436.7 893.3,440 888.3,445 883.3,448.3 878.3,453.3 875,458.3 873.3,450 876.7,445 878.3,438.3 873.3,433.3 875,428.3" fill="#FEAC3A" stroke="#FEAC3A" stroke-width="0.6" stroke-linejoin="round"/>
<polygon points="878.3,421.7 883.3,415.8 886.7,410.8 890,410 895,409.2 901.7,410 906.7,414.2 910,418.3 906.7,423.3 903.3,425 903.3,432.5 899.2,435.8 893.3,440 893.3,436.7 891.7,430 888.3,425 883.3,423.3" fill="#F68720" stroke="#F68720" stroke-width="0.6" stroke-linejoin="round"/>
<polygon points="906.7,414.2 913.3,415.8 919.2,415 923.3,417.5 930,418.3 928.3,425 923.3,427.5 916.7,428.3 910,430 903.3,432.5 903.3,425 906.7,423.3 910,418.3" fill="#E1640E" stroke="#E1640E" stroke-width="0.6" stroke-linejoin="round"/>
<polygon points="858.3,446.7 863.3,445 868.3,448.3 873.3,450 875,458.3 870,465 866.7,463.3 861.7,458.3 857.5,456.7 859.2,451.7" fill="#E1640E" stroke="#E1640E" stroke-width="0.6" stroke-linejoin="round"/>
<polygon points="838.3,451.7 843.3,448.3 850,446.7 853.3,443.3 858.3,446.7 859.2,451.7 857.5,456.7 861.7,458.3 866.7,463.3 870,465 868.3,470 861.7,466.7 859.2,471.7 855,473.3 853.3,478.3 850,477.5 848.3,473.3 843.3,473.3 838.3,476.7 832.5,477.5 830,473.3 827.5,468.3 825,463.3 830,460 835,456.7" fill="#FEAC3A" stroke="#FEAC3A" stroke-width="0.6" stroke-linejoin="round"/>
<polygon points="826.7,464.2 831.7,461.7 836.7,463.3 840.8,470 841.7,474.2 838.3,476.7 832.5,477.5 830,473.3" fill="#F68720" stroke="#F68720" stroke-width="0.6" stroke-linejoin="round"/>
<polygon points="820,448.3 825,448.3 830,450 836.7,451.7 838.3,451.7 835,456.7 830,460 825,463.3 820,466.7 815,466.7 815,448.3" fill="#FEAC3A" stroke="#FEAC3A" stroke-width="0.6" stroke-linejoin="round"/>
<polygon points="825.8,478.3 832.5,477.5 838.3,476.7 843.3,473.3 848.3,473.3 850,477.5 853.3,478.3 855,473.3 859.2,471.7 861.7,466.7 868.3,470 873.3,471.7 878.3,476.7 876.7,481.7 873.3,486.7 866.7,485 861.7,488.3 860,495 856.7,500 850,503.3 848.3,498.3 849.2,493.3 841.7,491.7 838.3,486.7 830,485 826.7,483.3" fill="#FEAC3A" stroke="#FEAC3A" stroke-width="0.6" stroke-linejoin="round"/>
<polygon points="861.7,488.3 866.7,485 873.3,486.7 873.3,493.3 875,500 877.5,506.7 878.3,513.3 880,520 879.2,526.7 875,523.3 868.3,522.5 867.5,516.7 868.3,511.7 863.3,508.3 860,510 858.3,515 853.3,511.7 850.8,506.7 850,503.3 856.7,500 860,495" fill="#F68720" stroke="#F68720" stroke-width="0.6" stroke-linejoin="round"/>
<polygon points="826.7,483.3 830,485 838.3,486.7 841.7,491.7 849.2,493.3 848.3,498.3 845,503.3 840,505 833.3,506.7 830,503.3 823.3,503.3 825,496.7 827.5,490" fill="#E1640E" stroke="#E1640E" stroke-width="0.6" stroke-linejoin="round"/>
<polygon points="878.3,476.7 886.7,480 888.3,485 891.7,493.3 895.8,501.7 898.3,510 900,516.7 893.3,515 886.7,515 885,520 886.7,526.7 883.3,530 879.2,526.7 880,520 878.3,513.3 877.5,506.7 875,500 873.3,493.3 873.3,486.7 876.7,481.7" fill="#FECE65" stroke="#FECE65" stroke-width="0.6" stroke-linejoin="round"/>
<polygon points="886.7,515 893.3,515 900,516.7 906.7,518.3 910.8,525 915,529.2 916.7,533.3 913.3,533.3 906.7,531.7 901.7,533.3 898.3,530 893.3,528.3 886.7,526.7 885,520" fill="#FEE79B" stroke="#FEE79B" stroke-width="0.6" stroke-linejoin="round"/>
<polygon points="901.7,533.3 906.7,531.7 913.3,533.3 916.7,535 915,538.3 908.3,536.7 905,535" fill="#FEE79B" stroke="#FEE79B" stroke-width="0.6" stroke-linejoin="round"/>
<polygon points="833.3,506.7 840,505 845,503.3 850,503.3 850.8,506.7 853.3,511.7 858.3,515 857.5,520 853.3,523.3 851.7,528.3 845,530 843.3,524.2 836.7,521.7 831.7,515 830.8,510" fill="#C14702" stroke="#C14702" stroke-width="0.6" stroke-linejoin="round"/>
<polygon points="860,510 863.3,508.3 868.3,511.7 867.5,516.7 863.3,518.3 859.2,515" fill="#E1640E" stroke="#E1640E" stroke-width="0.6" stroke-linejoin="round"/>
<polygon points="857.5,520 858.3,515 863.3,518.3 867.5,516.7 868.3,522.5 865,525 864.2,531.7 866.7,536.7 865,543.3 860,541.7 859.2,535 855,531.7 852.5,526.7 853.3,523.3" fill="#FEAC3A" stroke="#FEAC3A" stroke-width="0.6" stroke-linejoin="round"/>
<polygon points="865,525 868.3,522.5 875,523.3 879.2,526.7 878.3,531.7 873.3,531.7 869.2,535 864.2,531.7" fill="#933204" stroke="#933204" stroke-width="0.6" stroke-linejoin="round"/>
<polygon points="869.2,535 873.3,531.7 878.3,531.7 879.2,526.7 883.3,530 886.7,526.7 893.3,528.3 898.3,530 901.7,533.3 905,535 903.3,541.7 900,545 896.7,548.3 891.7,551.7 886.7,548.3 881.7,546.7 876.7,545 871.7,543.3 866.7,543.3 865,543.3 866.7,536.7 864.2,531.7" fill="#F68720" stroke="#F68720" stroke-width="0.6" stroke-linejoin="round"/>
<polygon points="903.3,541.7 905,538.3 908.3,536.7 915,538.3 918.3,541.7 913.3,545 917.5,550 919.2,555.8 913.3,554.2 906.7,555 901.7,553.3 898.3,548.3 900,545" fill="#FECE65" stroke="#FECE65" stroke-width="0.6" stroke-linejoin="round"/>
<polygon points="820,485 825.8,485 827.5,490 825,496.7 823.3,503.3 820,503.3" fill="#FFF8C1" stroke="#FFF8C1" stroke-width="0.6" stroke-linejoin="round"/>
<polygon points="823.3,503.3 830,503.3 833.3,506.7 830.8,510 831.7,515 826.7,513.3 820,508.3 820,503.3" fill="#F68720" stroke="#F68720" stroke-width="0.6" stroke-linejoin="round"/>
<polygon points="820,508.3 826.7,513.3 831.7,515 836.7,521.7 843.3,524.2 845,530 851.7,528.3 855,531.7 859.2,535 856.7,540 851.7,541.7 845,538.3 840,536.7 835,541.7 830,546.7 825,545 820,546.7" fill="#FEE79B" stroke="#FEE79B" stroke-width="0.6" stroke-linejoin="round"/>
<polygon points="830,546.7 835,541.7 840,536.7 845,538.3 851.7,541.7 856.7,540 858.3,545 853.3,550 846.7,553.3 838.3,554.2 831.7,553.3" fill="#FFF8C1" stroke="#FFF8C1" stroke-width="0.6" stroke-linejoin="round"/>
<polygon points="820,546.7 825,545 830,546.7 831.7,553.3 828.3,560 826.7,566.7 820,568.3" fill="#FEAC3A" stroke="#FEAC3A" stroke-width="0.6" stroke-linejoin="round"/>
<polygon points="831.7,553.3 838.3,554.2 846.7,553.3 845,560 840,565 833.3,568.3 826.7,566.7 828.3,560" fill="#FEE79B" stroke="#FEE79B" stroke-width="0.6" stroke-linejoin="round"/>
<polygon points="860,541.7 865,543.3 871.7,543.3 876.7,545 875,550 870,555 868.3,560 861.7,563.3 860,568.3 853.3,565 850,558.3 846.7,553.3 853.3,550 858.3,545 856.7,540 859.2,535" fill="#FEAC3A" stroke="#FEAC3A" stroke-width="0.6" stroke-linejoin="round"/>
<polygon points="833.3,568.3 840,565 845,560 846.7,553.3 850,558.3 853.3,565 860,568.3 861.7,571.7 855,575 850,580 843.3,576.7 836.7,573.3" fill="#D9D9D9" stroke="#D9D9D9" stroke-width="0.6" stroke-linejoin="round"/>
<polygon points="876.7,545 881.7,546.7 886.7,548.3 891.7,551.7 896.7,548.3 900,545 898.3,548.3 901.7,553.3 901.7,556.7 906.7,560 911.7,565 915.8,568.3 918.3,575 915,580 917.5,585 913.3,588.3 908.3,583.3 903.3,585 900,580 895,578.3 886.7,580 878.3,576.7 870,581.7 865,583.3 860,585 853.3,580 855,575 861.7,571.7 860,568.3 861.7,563.3 868.3,560 870,555 875,550" fill="#E1640E" stroke="#E1640E" stroke-width="0.6" stroke-linejoin="round"/>
<polygon points="886.7,555 891.7,551.7 896.7,548.3 901.7,556.7 900,561.7 893.3,563.3 888.3,560" fill="#F68720" stroke="#F68720" stroke-width="0.6" stroke-linejoin="round"/>
<polygon points="901.7,556.7 906.7,560 911.7,565 915.8,568.3 918.3,575 915,580 917.5,585 913.3,588.3 908.3,583.3 903.3,585 900,580 901.7,571.7 898.3,565 900,561.7" fill="#F68720" stroke="#F68720" stroke-width="0.6" stroke-linejoin="round"/>
<polygon points="870,581.7 878.3,576.7 886.7,580 895,578.3 900,580 903.3,585 908.3,583.3 913.3,588.3 911.7,593.3 913.3,600 868.3,600 870,591.7" fill="#FEAC3A" stroke="#FEAC3A" stroke-width="0.6" stroke-linejoin="round"/>
<polygon points="850,580 853.3,580 860,585 865,583.3 870,581.7 870,591.7 868.3,600 851.7,600 848.3,591.7 846.7,585" fill="#FFFFE5" stroke="#FFFFE5" stroke-width="0.6" stroke-linejoin="round"/>
<polygon points="826.7,566.7 833.3,568.3 836.7,573.3 843.3,576.7 850,580 846.7,585 848.3,591.7 851.7,600 828.3,600 830,583.3 826.7,575" fill="#FFF8C1" stroke="#FFF8C1" stroke-width="0.6" stroke-linejoin="round"/>
<polygon points="820,568.3 826.7,566.7 826.7,575 830,583.3 828.3,600 820,600" fill="#FECE65" stroke="#FECE65" stroke-width="0.6" stroke-linejoin="round"/>
<polygon points="917,567.5 921.3,566 924.7,568.7 923.3,573.3 919.5,574.2" fill="#FEAC3A" stroke="#5c6066" stroke-width="1.15" stroke-linejoin="round"/>
<polygon points="640,600 663.3,600 665,610 661.7,618.3 660,626.7 658.3,636.7 654.2,640 658.3,645 666.7,650 670,656.7 665,661.7 658.3,666.7 653.3,661.7 650,660 646.7,666.7 640,668.3" fill="#FFF8C1" stroke="#FFF8C1" stroke-width="0.6" stroke-linejoin="round"/>
<polygon points="640,600 663.3,600 665,610 661.7,618.3 650,616.7 640,615" fill="#FFFFE5" stroke="#FFFFE5" stroke-width="0.6" stroke-linejoin="round"/>
<polygon points="690,600 778.3,600 776.7,608.3 770,613.3 767.5,618.3 771.7,625 773.3,633.3 772.5,638.3 775,646.7 773.3,656.7 770,660 756.7,663.3 753.3,666.7 746.7,668.3 741.7,668.3 738.3,675 730,675 728.3,670 723.3,668.3 721.7,663.3 726.7,655 725,648.3 720,643.3 711.7,645 706.7,650 701.7,647.5 696.7,651.7 691.7,650 690,638.3 694.2,635 693.3,630 681.7,631.7 681.7,626.7 688.3,621.7 691.7,616.7 690,608.3 688.3,601.7" fill="#FFF8C1" stroke="#FFF8C1" stroke-width="0.6" stroke-linejoin="round"/>
<polygon points="703.3,630 710,621.7 718.3,618.3 728.3,616.7 736.7,620 740,625 735,630 726.7,633.3 725,641.7 720,643.3 711.7,645 706.7,650 701.7,647.5 700,640" fill="#FEE79B" stroke="#FEE79B" stroke-width="0.6" stroke-linejoin="round"/>
<polygon points="725,641.7 726.7,633.3 735,630 740,625 748.3,621.7 756.7,625 763.3,631.7 770,638.3 772.5,638.3 775,646.7 773.3,656.7 770,660 756.7,663.3 753.3,666.7 746.7,668.3 741.7,668.3 738.3,675 730,675 728.3,670 723.3,668.3 721.7,663.3 726.7,655 725,648.3" fill="#FFFFE5" stroke="#FFFFE5" stroke-width="0.6" stroke-linejoin="round"/>
<polygon points="715,600 743.3,600 740,605 733.3,608.3 726.7,608.3 720,606.7" fill="#FECE65" stroke="#FECE65" stroke-width="0.6" stroke-linejoin="round"/>
<polygon points="778.3,600 840,600 840,610 833.3,613.3 828.3,616.7 830,625 825,630 820,631.7 820,640 813.3,638.3 811.7,628.3 807.5,631.7 803.3,625 804.2,616.7 800.8,610 796.7,611.7 790,608.3 783.3,611.7 776.7,608.3" fill="#FFFFE5" stroke="#FFFFE5" stroke-width="0.6" stroke-linejoin="round"/>
<polygon points="783.3,611.7 790,608.3 796.7,611.7 795,616.7 786.7,618.3" fill="#FEE79B" stroke="#FEE79B" stroke-width="0.6" stroke-linejoin="round"/>
<polygon points="770,613.3 776.7,615 778.3,621.7 775,628.3 771.7,625 767.5,618.3" fill="#D9D9D9" stroke="#D9D9D9" stroke-width="0.6" stroke-linejoin="round"/>
<polygon points="776.7,620 783.3,616.7 790,616.7 796.7,611.7 800.8,610 804.2,616.7 803.3,625 807.5,631.7 805,635 798.3,638.3 791.7,643.3 786.7,646.7 778.3,648.3 775,646.7 772.5,638.3 773.3,633.3 771.7,625 775,628.3 778.3,621.7" fill="#F68720" stroke="#F68720" stroke-width="0.6" stroke-linejoin="round"/>
<polygon points="778.3,648.3 786.7,646.7 791.7,643.3 798.3,638.3 805,635 807.5,631.7 811.7,628.3 813.3,638.3 820,640 816.7,648.3 811.7,656.7 808.3,666.7 806.7,673.3 805,678.3 798.3,675.8 790,677.5 781.7,679.2 778.3,676.7 782.5,670 786.7,666.7 785,663.3 778.3,664.2 773.3,656.7 775,646.7" fill="#FEAC3A" stroke="#FEAC3A" stroke-width="0.6" stroke-linejoin="round"/>
<polygon points="828.3,616.7 833.3,613.3 840,610 840,630 833.3,628.3 830,625" fill="#FFF8C1" stroke="#FFF8C1" stroke-width="0.6" stroke-linejoin="round"/>
<polygon points="816.7,648.3 821.7,648.3 826.7,651.7 831.7,655 840,656.7 840,670 833.3,673.3 828.3,678.3 825,685 825.8,681.7 821.7,675 813.3,674.2 806.7,673.3 808.3,666.7 811.7,656.7" fill="#FFF8C1" stroke="#FFF8C1" stroke-width="0.6" stroke-linejoin="round"/>
<polygon points="755,666.7 760,661.7 766.7,664.2 773.3,663.3 778.3,664.2 785,663.3 786.7,666.7 782.5,670 778.3,676.7 781.7,679.2 790,677.5 798.3,675.8 805,678.3 806.7,673.3 813.3,674.2 821.7,675 825.8,681.7 825,685 820,693.3 813.3,698.3 806.7,701.7 800,708.3 795,713.3 790,720 785,715 780,715 775,710 773.3,703.3 771.7,695 771.7,688.3 768.3,683.3 763.3,680 756.7,678.3 754.2,673.3" fill="#E1640E" stroke="#E1640E" stroke-width="0.6" stroke-linejoin="round"/>
<polygon points="740,673.3 741.7,668.3 746.7,668.3 753.3,666.7 755,666.7 754.2,673.3 756.7,678.3 763.3,680 768.3,683.3 771.7,688.3 771.7,695 768.3,696.7 763.3,698.3 758.3,701.7 755,698.3 751.7,693.3 748.3,686.7 745,681.7 741.7,680" fill="#FEAC3A" stroke="#FEAC3A" stroke-width="0.6" stroke-linejoin="round"/>
<polygon points="758.3,701.7 763.3,698.3 768.3,696.7 771.7,695 773.3,703.3 775,710 771.7,713.3 766.7,715 763.3,710 760,706.7" fill="#FECE65" stroke="#FECE65" stroke-width="0.6" stroke-linejoin="round"/>
<polygon points="766.7,715 771.7,713.3 775,710 780,715 776.7,718.3 770,718.3" fill="#F68720" stroke="#F68720" stroke-width="0.6" stroke-linejoin="round"/>
<polygon points="790,720 795,713.3 800,708.3 806.7,701.7 813.3,698.3 820,693.3 825,685 826.7,686.7 828.3,693.3 833.3,699.2 828.3,701.7 823.3,706.7 818.3,711.7 811.7,713.3 805,715 800,716.7 792.5,715" fill="#FFF8C1" stroke="#FFF8C1" stroke-width="0.6" stroke-linejoin="round"/>
<polygon points="820,693.3 825,685 826.7,686.7 828.3,693.3 833.3,699.2 828.3,701.7 823.3,700" fill="#FEE79B" stroke="#FEE79B" stroke-width="0.6" stroke-linejoin="round"/>
<polygon points="721.7,670 726.7,668.3 730,675 738.3,675 740,680 735,686.7 731.7,693.3 728.3,698.3 723.3,696.7 718.3,698.3 715,693.3 713.3,686.7 716.7,680 720,675" fill="#FEE79B" stroke="#FEE79B" stroke-width="0.6" stroke-linejoin="round"/>
<polygon points="678.3,660 683.3,657.5 690,655 691.7,650 696.7,651.7 697.5,656.7 698.3,663.3 695,671.7 700,676.7 705,683.3 701.7,686.7 695,690 688.3,690 683.3,686.7 681.7,680 685,673.3 681.7,666.7" fill="#FFFFE5" stroke="#FFFFE5" stroke-width="0.6" stroke-linejoin="round"/>
<polygon points="640,668.3 646.7,666.7 643.3,675 646.7,683.3 651.7,690 658.3,693.3 655,700 648.3,705 643.3,706.7 640,706.7" fill="#FFF8C1" stroke="#FFF8C1" stroke-width="0.6" stroke-linejoin="round"/>
<polygon points="680,685 683.3,686.7 688.3,690 695,690 701.7,686.7 705,683.3 710,691.7 706.7,693.3 701.7,698.3 695,701.7 688.3,703.3 683.3,700 678.3,695 675,688.3" fill="#FEE79B" stroke="#FEE79B" stroke-width="0.6" stroke-linejoin="round"/>
<polygon points="695,701.7 701.7,698.3 706.7,693.3 710,691.7 711.7,698.3 713.3,706.7 708.3,710 703.3,710.8 698.3,711.7 693.3,710 688.3,705 688.3,703.3" fill="#FEAC3A" stroke="#FEAC3A" stroke-width="0.6" stroke-linejoin="round"/>
<polygon points="698.3,711.7 703.3,710.8 708.3,710 713.3,706.7 713.3,713.3 716.7,720 713.3,725 708.3,730 703.3,733.3 698.3,738.3 695.8,733.3 695,726.7 697.5,721.7 698.3,716.7" fill="#F68720" stroke="#F68720" stroke-width="0.6" stroke-linejoin="round"/>
<polygon points="658.3,693.3 666.7,695 673.3,693.3 675,688.3 678.3,695 683.3,700 688.3,703.3 688.3,705 693.3,710 698.3,711.7 698.3,716.7 697.5,721.7 691.7,720 685,720 678.3,721.7 673.3,726.7 668.3,726.7 665,721.7 660,716.7 655,713.3 653.3,706.7 648.3,705 655,700" fill="#FFFFE5" stroke="#FFFFE5" stroke-width="0.6" stroke-linejoin="round"/>
<polygon points="661.7,728.3 666.7,725 670,728.3 673.3,735 675.8,740 669.2,741.7 663.3,740 658.3,738.3 658.3,733.3" fill="#F68720" stroke="#F68720" stroke-width="0.6" stroke-linejoin="round"/>
<polygon points="668.3,726.7 673.3,726.7 678.3,721.7 685,720 691.7,720 697.5,721.7 695,726.7 695.8,733.3 698.3,738.3 698.3,740 693.3,742.5 687.5,743.3 685,740 675.8,740 673.3,735 670,728.3 666.7,725 665,721.7" fill="#FFF8C1" stroke="#FFF8C1" stroke-width="0.6" stroke-linejoin="round"/>
<polygon points="698.3,740 698.3,738.3 703.3,733.3 708.3,730 713.3,725 716.7,720 721.7,716.7 726.7,720 730,723.3 725.8,728.3 725,735 726.7,741.7 721.7,743.3 716.7,745 711.7,748.3 706.7,750.8 705.8,755 710,757.5 713.3,762.5 711.7,765 706.7,767.5 700.8,766.7 699.2,761.7 696.7,756.7 697.5,751.7 699.2,745" fill="#FEE79B" stroke="#FEE79B" stroke-width="0.6" stroke-linejoin="round"/>
<polygon points="728.3,698.3 731.7,693.3 735,686.7 740,680 741.7,680 745,681.7 748.3,686.7 751.7,693.3 755,698.3 758.3,701.7 760,706.7 763.3,710 766.7,715 765,721.7 765,730 760,733.3 755,735.8 751.7,739.2 746.7,737.5 743.3,733.3 740,728.3 735,720 730,723.3 726.7,720 721.7,716.7 725.8,710 726.7,703.3" fill="#FFF8C1" stroke="#FFF8C1" stroke-width="0.6" stroke-linejoin="round"/>
<polygon points="748.3,703.3 755,700 758.3,701.7 760,706.7 763.3,710 760,716.7 753.3,716.7 748.3,713.3" fill="#FFFFE5" stroke="#FFFFE5" stroke-width="0.6" stroke-linejoin="round"/>
<polygon points="760,716.7 763.3,710 766.7,715 765,721.7 765,730 760.8,726.7" fill="#FEE79B" stroke="#FEE79B" stroke-width="0.6" stroke-linejoin="round"/>
<polygon points="725.8,728.3 730,723.3 735,720 740,728.3 743.3,733.3 740,738.3 733.3,740 726.7,741.7 725,735" fill="#F68720" stroke="#F68720" stroke-width="0.6" stroke-linejoin="round"/>
<polygon points="677,800.4 677.5,791.7 680,785 686.7,780 690,775 696.7,773.3 703.3,772.5 710,771.7 715.8,770 720,775 721.7,780 720,786 716,793 713.5,799 711.4,801.5 708.5,803 705,806 701.2,808.5 697,809.5 693.9,810.8 690,809 686.6,808 683,806.5 679.4,804.8 677.5,803" fill="#FFF8C1" stroke="#5c6066" stroke-width="1.15" stroke-linejoin="round"/>
<polygon points="663.3,600 677.5,600 680,603.3 688.3,601.7 690,608.3 691.7,616.7 688.3,621.7 681.7,626.7 681.7,631.7 693.3,630 694.2,635 690,638.3 691.7,650 690,655 683.3,657.5 678.3,660 675.8,663.3 670,656.7 666.7,650 658.3,645 654.2,640 658.3,636.7 660,626.7 661.7,618.3 665,610" fill="#D9D9D9" stroke="#D9D9D9" stroke-width="0.6" stroke-linejoin="round"/>
<polygon points="820,631.7 825,630 830,625 833.3,628.3 840,630 840,656.7 831.7,655 826.7,651.7 821.7,648.3 816.7,648.3 820,640" fill="#D9D9D9" stroke="#D9D9D9" stroke-width="0.6" stroke-linejoin="round"/>
<polygon points="828.3,678.3 833.3,673.3 840,670 840,698.3 833.3,699.2 828.3,693.3 826.7,686.7 825,685" fill="#D9D9D9" stroke="#D9D9D9" stroke-width="0.6" stroke-linejoin="round"/>
<polygon points="696.7,651.7 701.7,647.5 706.7,650 711.7,645 720,643.3 725,648.3 726.7,655 721.7,663.3 723.3,668.3 721.7,670 720,675 716.7,680 713.3,686.7 715,693.3 718.3,698.3 723.3,696.7 728.3,698.3 726.7,703.3 725.8,710 721.7,716.7 716.7,720 713.3,713.3 713.3,706.7 711.7,698.3 710,691.7 705,683.3 700,676.7 695,671.7 698.3,663.3 697.5,656.7" fill="#D9D9D9" stroke="#D9D9D9" stroke-width="0.6" stroke-linejoin="round"/>
<polygon points="646.7,666.7 650,660 653.3,661.7 658.3,666.7 665,661.7 670,656.7 675.8,663.3 678.3,660 681.7,666.7 685,673.3 681.7,680 680,685 675,688.3 673.3,693.3 666.7,695 658.3,693.3 651.7,690 646.7,683.3 643.3,675" fill="#D9D9D9" stroke="#D9D9D9" stroke-width="0.6" stroke-linejoin="round"/>
<polygon points="640,706.7 643.3,706.7 648.3,705 653.3,706.7 655,713.3 660,716.7 665,721.7 666.7,725 661.7,728.3 658.3,733.3 655.8,739.2 650,735.8 645,733.3 641.7,726.7 642.5,720 640,713.3" fill="#D9D9D9" stroke="#D9D9D9" stroke-width="0.6" stroke-linejoin="round"/>
<polygon points="820,580 846.7,580 848.3,588.3 853.3,595 855,603.3 846.7,608.3 840,613.3 836.7,610.8 830,615.8 828.3,621.7 830,625 825,628.3 820,630" fill="#FFFFE5" stroke="#FFFFE5" stroke-width="0.6" stroke-linejoin="round"/>
<polygon points="823.3,600 828.3,597.5 833.3,601.7 832.5,607.5 826.7,608.3" fill="#FEE79B" stroke="#FEE79B" stroke-width="0.6" stroke-linejoin="round"/>
<polygon points="828.3,580 835,580 835.8,586.7 831.7,590 828.3,586.7" fill="#FECE65" stroke="#FECE65" stroke-width="0.6" stroke-linejoin="round"/>
<polygon points="846.7,580 853.3,580 858.3,581.7 868.3,583.3 870,590 863.3,595 858.3,601.7 859.2,605 855,603.3 853.3,595 848.3,588.3" fill="#FFFFE5" stroke="#FFFFE5" stroke-width="0.6" stroke-linejoin="round"/>
<polygon points="868.3,583.3 873.3,580 896.7,580 895,586.7 890,591.7 886.7,596.7 881.7,593.3 875,595 870,590" fill="#FECE65" stroke="#FECE65" stroke-width="0.6" stroke-linejoin="round"/>
<polygon points="896.7,580 916.7,580 915,586.7 911.7,588.3 910,595 910.8,601.7 906.7,605 903.3,608.3 901.7,605 898.3,600 893.3,598.3 888.3,596.7 886.7,596.7 890,591.7 895,586.7" fill="#FEAC3A" stroke="#FEAC3A" stroke-width="0.6" stroke-linejoin="round"/>
<polygon points="906.7,580 918.3,580 915,586.7 910,587.5" fill="#F68720" stroke="#F68720" stroke-width="0.6" stroke-linejoin="round"/>
<polygon points="858.3,601.7 863.3,595 870,590 875,595 881.7,593.3 886.7,596.7 893.3,598.3 898.3,600 901.7,605 903.3,608.3 901.7,611.7 897.5,615 893.3,620 891.7,625 887.5,621.7 880,623.3 875.8,618.3 873.3,616.7 868.3,620 862.5,620 860.8,613.3 859.2,605" fill="#FEE79B" stroke="#FEE79B" stroke-width="0.6" stroke-linejoin="round"/>
<polygon points="830,615.8 836.7,610.8 840,613.3 846.7,608.3 855,603.3 859.2,605 860.8,613.3 862.5,620 868.3,620 873.3,616.7 875.8,618.3 880,623.3 887.5,621.7 891.7,625 888.3,628.3 885.8,631.7 881.7,636.7 876.7,637.5 870,638.3 861.7,641.7 856.7,643.3 851.7,638.3 845,635 840,633.3 835,628.3 830,625 828.3,621.7" fill="#FFF8C1" stroke="#FFF8C1" stroke-width="0.6" stroke-linejoin="round"/>
<polygon points="856.7,643.3 861.7,641.7 870,638.3 876.7,637.5 879.2,640 881.7,644.2 876.7,646.7 875.8,653.3 878.3,658.3 875,661.7 870,663.3 865,666.7 861.7,671.7 858.3,677.5 853.3,680 848.3,681.7 845,678.3 845,673.3 840,670 838.3,665 841.7,661.7 845,660 846.7,655 851.7,653.3 855.8,650" fill="#FFFFE5" stroke="#FFFFE5" stroke-width="0.6" stroke-linejoin="round"/>
<polygon points="855,658.3 861.7,655 869.2,656.7 868.3,663.3 861.7,666.7 855.8,665" fill="#FFF8C1" stroke="#FFF8C1" stroke-width="0.6" stroke-linejoin="round"/>
<polygon points="820,648.3 823.3,650 830,653.3 836.7,656.7 845,660 841.7,661.7 838.3,665 840,670 836.7,673.3 830,673.3 826.7,678.3 820,677.5" fill="#FFF8C1" stroke="#FFF8C1" stroke-width="0.6" stroke-linejoin="round"/>
<polygon points="820,677.5 826.7,678.3 826.7,686.7 823.3,690 820,691.7" fill="#E1640E" stroke="#E1640E" stroke-width="0.6" stroke-linejoin="round"/>
<polygon points="820,691.7 823.3,690 826.7,686.7 828.3,695 831.7,700 830,702.5 825,705 820,710" fill="#FEE79B" stroke="#FEE79B" stroke-width="0.6" stroke-linejoin="round"/>
<polygon points="820,630 825,628.3 830,625 835,628.3 840,633.3 845,635 851.7,638.3 856.7,643.3 855.8,650 851.7,653.3 846.7,655 845,660 836.7,656.7 830,653.3 823.3,650 820,648.3" fill="#D9D9D9" stroke="#D9D9D9" stroke-width="0.6" stroke-linejoin="round"/>
<polygon points="826.7,678.3 830,673.3 836.7,673.3 840,670 845,673.3 845,678.3 848.3,681.7 846.7,686.7 841.7,691.7 836.7,696.7 831.7,700 828.3,695 826.7,686.7" fill="#D9D9D9" stroke="#D9D9D9" stroke-width="0.6" stroke-linejoin="round"/>
<polygon points="909.2,664.2 912.5,665.8 915.8,668.3 917.5,671.7 915.8,676.7 915,683.3 912.5,691.7 910.8,700 908.3,706.7 905.8,713.3 901.7,718.3 899.2,723.3 898.3,730 896.7,734.2 894.2,733.3 893.3,726.7 890,723.3 886.7,718.3 884.2,711.7 882.5,706.7 883.3,698.3 886.7,691.7 890.8,683.3 895,676.7 900,670 905,666.7" fill="#FEAC3A" stroke="#5c6066" stroke-width="1.15" stroke-linejoin="round"/>
<polygon points="740,400 766.2,400 772.5,405 776.2,411.2 771.2,420 768.8,426.2 765,432.5 769.4,437.5 770,440 768.1,445.6 758.8,445.6 747.5,446.9 740,450" fill="#FFFFE5" stroke="#FFFFE5" stroke-width="0.6" stroke-linejoin="round"/>
<polygon points="740,450 747.5,446.9 758.8,445.6 768.1,445.6 766.2,452.5 761.2,456.9 755,460 747.5,461.2 740,461.2" fill="#D9D9D9" stroke="#D9D9D9" stroke-width="0.6" stroke-linejoin="round"/>
<polygon points="740,461.9 745,462.5 750.6,463.1 750,466.2 746.2,467.5 740,466.2" fill="#C14702" stroke="#C14702" stroke-width="0.6" stroke-linejoin="round"/>
<polygon points="750.6,463.1 755,460 761.2,456.9 765,455 766.9,462.5 766.2,466.2 758.8,467.5 752.5,470 750,468.1 750,466.2" fill="#D9D9D9" stroke="#D9D9D9" stroke-width="0.6" stroke-linejoin="round"/>
<polygon points="766.2,400 798.8,400 797.5,406.2 800,412.5 795,411.2 790,410 786.2,412.5 780,413.8 776.2,411.2 772.5,405" fill="#FECE65" stroke="#FECE65" stroke-width="0.6" stroke-linejoin="round"/>
<polygon points="776.2,411.2 780,413.8 786.2,412.5 790,410 795,411.2 800,412.5 803.8,418.8 806.2,423.8 801.2,428.8 796.2,427.5 790,426.2 783.8,427.5 777.5,425 772.5,423.8 771.2,420" fill="#FFF8C1" stroke="#FFF8C1" stroke-width="0.6" stroke-linejoin="round"/>
<polygon points="768.8,426.2 772.5,423.8 777.5,425 783.8,427.5 790,426.2 796.2,427.5 801.2,428.8 798.8,432.5 798.1,437.5 800,441.2 798.8,443.8 793.8,441.9 791.2,443.8 783.8,442.5 777.5,440.6 770,440 769.4,437.5 765,432.5" fill="#FECE65" stroke="#FECE65" stroke-width="0.6" stroke-linejoin="round"/>
<polygon points="798.8,400 815,400 817.5,403.8 820,406.2 816.2,412.5 813.8,416.2 810,418.8 806.2,423.8 803.8,418.8 800,412.5 797.5,406.2" fill="#F68720" stroke="#F68720" stroke-width="0.6" stroke-linejoin="round"/>
<polygon points="765,455 767.5,446.2 770,440 777.5,440.6 783.8,442.5 791.2,443.8 791.2,448.8 790,453.8 791.2,458.8 788.8,465 790,466.2 795,467.5 800,473.8 807.5,475 813.8,475.6 815,478.8 820,482.5 821.2,486.2 817.5,487.5 812.5,491.2 810,487.5 806.2,485 803.1,487.5 802.5,495 798.8,497.5 796.2,502.5 791.2,505 787.5,500 782.5,497.5 777.5,497.5 772.5,496.2 767.5,498.8 762.5,495 766.2,490 770,486.2 775,487.5 776.2,480 775,473.8 776.2,470 771.2,467.5 766.9,462.5" fill="#FEE79B" stroke="#FEE79B" stroke-width="0.6" stroke-linejoin="round"/>
<polygon points="770,440 777.5,440.6 783.8,442.5 790,443.8 788.8,450 786.2,455 782.5,460 777.5,458.8 773.8,455 768.8,456.2 766.9,452.5 768.1,445.6" fill="#FFFFE5" stroke="#FFFFE5" stroke-width="0.6" stroke-linejoin="round"/>
<polygon points="753.8,473.8 758.8,467.5 766.2,466.2 771.2,467.5 776.2,470 775,473.8 776.2,480 775,487.5 770,486.2 766.2,490 762.5,491.2 758.8,487.5 755,482.5" fill="#FFFFE5" stroke="#FFFFE5" stroke-width="0.6" stroke-linejoin="round"/>
<polygon points="740,467.5 746.2,467.5 752.5,470 753.8,473.8 755,482.5 753.8,480 747.5,481.2 740,480" fill="#FEE79B" stroke="#FEE79B" stroke-width="0.6" stroke-linejoin="round"/>
<polygon points="747.5,481.2 753.8,480 758.8,487.5 762.5,491.2 765,497.5 758.8,498.8 752.5,496.2 746.2,493.8 742.5,492.5 746.2,486.2 740,487.5 740,480" fill="#FECE65" stroke="#FECE65" stroke-width="0.6" stroke-linejoin="round"/>
<polygon points="740,492.5 742.5,492.5 746.2,493.8 752.5,496.2 758.8,498.8 760,507.5 762.5,515 755,518.8 747.5,520 740,518.8" fill="#FFFFE5" stroke="#FFFFE5" stroke-width="0.6" stroke-linejoin="round"/>
<polygon points="808.1,422.5 815,416.2 820,408.8 827.5,408.8 836.2,406.2 832.5,412.5 830,416.2 827.5,421.2 826.2,427.5 827.5,432.5 832.5,436.2 837.5,437.5 843.8,442.5 842.5,448.8 837.5,452.5 830,450 826.2,451.2 822.5,447.5 816.2,446.2 811.2,445 817.5,441.2 820,438.8 820,436.2 818.1,431.2 817.5,425 810,423.8" fill="#E1640E" stroke="#E1640E" stroke-width="0.6" stroke-linejoin="round"/>
<polygon points="801.2,428.8 806.2,423.8 808.1,422.5 810,423.8 817.5,425 818.1,431.2 820,436.2 817.5,441.2 812.5,443.8 806.2,445.6 800,447.5 798.8,443.8 800,441.2 798.1,437.5 798.8,432.5" fill="#FECE65" stroke="#FECE65" stroke-width="0.6" stroke-linejoin="round"/>
<polygon points="791.2,443.8 793.8,441.9 798.8,443.8 800,447.5 806.2,445.6 802.5,449.4 798.8,452.5 795,456.2 791.2,458.8 790,453.8 791.2,448.8" fill="#F68720" stroke="#F68720" stroke-width="0.6" stroke-linejoin="round"/>
<polygon points="836.2,406.2 840,402.5 843.8,400 850,403.8 848.8,410 848.1,416.2 851.2,421.2 848.8,425 845,430 841.2,431.2 838.8,425 836.2,421.2 833.8,417.5 832.5,412.5" fill="#FECE65" stroke="#FECE65" stroke-width="0.6" stroke-linejoin="round"/>
<polygon points="850,403.8 857.5,402.5 865,403.1 866.2,407.5 869.4,408.8 865,411.2 862.5,416.2 858.8,420 855,425 852.5,421.2 848.1,416.2 848.8,410" fill="#933204" stroke="#933204" stroke-width="0.6" stroke-linejoin="round"/>
<polygon points="855,425 858.8,420 862.5,418.8 865,425 873.8,427.5 876.2,432.5 875,437.5 872.5,442.5 865,443.8 860,445 856.2,442.5 852.5,443.8 850,437.5 849.4,432.5 852.5,428.8" fill="#FECE65" stroke="#FECE65" stroke-width="0.6" stroke-linejoin="round"/>
<polygon points="827.5,421.2 830,416.2 832.5,412.5 833.8,417.5 836.2,421.2 838.8,425 841.2,431.2 845,430 848.8,425 851.2,421.2 855,425 852.5,428.8 849.4,432.5 850,437.5 852.5,443.8 848.8,447.5 843.8,450 842.5,448.8 843.8,442.5 837.5,437.5 832.5,436.2 827.5,432.5 826.2,427.5" fill="#F68720" stroke="#F68720" stroke-width="0.6" stroke-linejoin="round"/>
<polygon points="837.5,452.5 842.5,448.8 843.8,450 848.8,447.5 852.5,443.8 856.2,442.5 860,445 857.5,450 857.5,457.5 860,461.2 865,463.8 866.2,466.2 861.2,470 857.5,473.8 853.8,475 850,478.8 847.5,475 842.5,473.8 842.5,470 838.8,465 835,461.2 830,460 827.5,458.8 826.2,451.2 830,450" fill="#FEAC3A" stroke="#FEAC3A" stroke-width="0.6" stroke-linejoin="round"/>
<polygon points="860,445 865,443.8 872.5,447.5 875,452.5 872.5,458.8 868.8,465 865,463.8 860,461.2 857.5,457.5 857.5,450" fill="#E1640E" stroke="#E1640E" stroke-width="0.6" stroke-linejoin="round"/>
<polygon points="788.8,465 791.2,458.8 795,456.2 798.8,452.5 802.5,449.4 806.2,445.6 811.2,445 812.5,450 813.8,456.2 812.5,462.5 815,466.2 817.5,473.8 815,475 811.2,473.8 808.8,470 802.5,467.5 798.8,463.8 795,467.5 790,466.2" fill="#FEE79B" stroke="#FEE79B" stroke-width="0.6" stroke-linejoin="round"/>
<polygon points="811.2,445 816.2,446.2 822.5,447.5 826.2,451.2 827.5,458.8 826.2,462.5 827.5,467.5 825,470 820,470 817.5,473.8 815,466.2 812.5,462.5 813.8,456.2 812.5,450" fill="#FEAC3A" stroke="#FEAC3A" stroke-width="0.6" stroke-linejoin="round"/>
<polygon points="827.5,462.5 832.5,460 837.5,462.5 841.2,470 840,475 835,476.2 831.2,472.5 827.5,467.5" fill="#F68720" stroke="#F68720" stroke-width="0.6" stroke-linejoin="round"/>
<polygon points="767.5,498.8 772.5,496.2 777.5,497.5 782.5,497.5 787.5,500 791.2,505 795,511.2 790,513.8 786.2,515 783.8,521.2 780,520 775,516.2 770,513.8 766.2,515 760,516.2 758.8,510 760,507.5 762.5,502.5" fill="#F68720" stroke="#F68720" stroke-width="0.6" stroke-linejoin="round"/>
<polygon points="803.1,487.5 806.2,485 810,487.5 812.5,491.2 817.5,487.5 821.2,486.2 822.5,492.5 826.2,497.5 825,502.5 820,506.2 816.2,508.8 813.8,512.5 815,516.2 810,518.8 805,517.5 802.5,512.5 796.2,512.5 795,511.2 791.2,505 796.2,502.5 798.8,497.5 802.5,495" fill="#FECE65" stroke="#FECE65" stroke-width="0.6" stroke-linejoin="round"/>
<polygon points="803.1,487.5 806.2,485 810,487.5 812.5,491.2 817.5,487.5 821.2,486.2 822.5,492.5 826.2,497.5 825,502.5 820,506.2 815,506.2 810,502.5 807.5,497.5 803.8,493.8" fill="#FEAC3A" stroke="#FEAC3A" stroke-width="0.6" stroke-linejoin="round"/>
<polygon points="821.2,486.2 826.2,485 827.5,491.2 826.2,497.5 822.5,492.5" fill="#FFF8C1" stroke="#FFF8C1" stroke-width="0.6" stroke-linejoin="round"/>
<polygon points="813.8,475.6 817.5,473.8 820,476.2 826.2,478.8 827.5,482.5 826.2,485 821.2,486.2 820,482.5 815,478.8" fill="#E1640E" stroke="#E1640E" stroke-width="0.6" stroke-linejoin="round"/>
<polygon points="817.5,470 825,468.1 827.5,470 830,475 832.5,477.5 827.5,478.8 826.2,478.8 820,476.2 817.5,473.8" fill="#FECE65" stroke="#FECE65" stroke-width="0.6" stroke-linejoin="round"/>
<polygon points="827.5,467.5 831.2,472.5 835,476.2 840,475 841.2,470 842.5,473.8 847.5,475 850,478.8 853.8,475 857.5,473.8 861.2,470 866.2,466.2 868.8,465 872.5,470 877.5,476.2 875,482.5 872.5,487.5 865,486.2 860,490 857.5,495 852.5,500 848.8,493.1 841.2,491.2 840,486.2 832.5,485 827.5,482.5 826.2,478.8 827.5,478.8 832.5,477.5 830,475 827.5,470" fill="#FEAC3A" stroke="#FEAC3A" stroke-width="0.6" stroke-linejoin="round"/>
<polygon points="826.2,485 827.5,482.5 832.5,485 840,486.2 841.2,491.2 848.8,493.1 846.2,498.8 843.8,503.8 840,506.2 836.2,508.8 831.2,511.2 827.5,508.8 823.8,503.8 825,502.5 826.2,497.5 827.5,491.2" fill="#E1640E" stroke="#E1640E" stroke-width="0.6" stroke-linejoin="round"/>
<polygon points="827.5,500 835,498.8 842.5,498.8 846.2,498.8 843.8,503.8 840,506.2 836.2,508.8 831.2,511.2 827.5,508.8 823.8,503.8 825,502.5" fill="#F68720" stroke="#F68720" stroke-width="0.6" stroke-linejoin="round"/>
<polygon points="860,490 865,486.2 872.5,487.5 875,492.5 876.2,500 875,507.5 871.2,512.5 867.5,511.2 867.5,507.5 863.8,508.8 860,510 856.2,512.5 852.5,507.5 850,503.8 852.5,500 857.5,495" fill="#F68720" stroke="#F68720" stroke-width="0.6" stroke-linejoin="round"/>
<polygon points="836.2,508.8 840,506.2 843.8,503.8 847.5,505 850,503.8 852.5,507.5 856.2,512.5 858.1,518.8 856.2,522.5 852.5,525 850,530 845,528.8 842.5,523.8 838.8,520 835,518.8 831.2,512.5" fill="#C14702" stroke="#C14702" stroke-width="0.6" stroke-linejoin="round"/>
<polygon points="860,510 863.8,508.8 867.5,511.2 868.1,515 865,518.1 861.2,516.2 858.8,513.8" fill="#C14702" stroke="#C14702" stroke-width="0.6" stroke-linejoin="round"/>
<polygon points="865,523.8 871.2,521.9 878.8,522.5 880,527.5 877.5,532.5 872.5,531.2 867.5,533.8 864.4,528.8" fill="#933204" stroke="#933204" stroke-width="0.6" stroke-linejoin="round"/>
<polygon points="795,511.2 796.2,512.5 802.5,512.5 805,517.5 810,518.8 815,516.2 817.5,508.8 823.8,503.8 827.5,508.8 831.2,512.5 835,518.8 830,520 827.5,525 822.5,527.5 820,532.5 817.5,525 815,520 808.8,522.5 807.5,525 802.5,522.5 798.8,520 795,516.2" fill="#FECE65" stroke="#FECE65" stroke-width="0.6" stroke-linejoin="round"/>
<polygon points="766.2,515 770,513.8 775,516.2 780,520 783.8,521.2 786.2,515 790,513.8 795,511.2 795,516.2 798.8,520 802.5,522.5 807.5,525 808.8,532.5 808.8,537.5 802.5,536.2 798.8,540 795,537.5 790,538.8 783.8,536.2 777.5,531.2 771.2,527.5 770,521.2" fill="#FFF8C1" stroke="#FFF8C1" stroke-width="0.6" stroke-linejoin="round"/>
<polygon points="807.5,525 808.8,522.5 815,520 817.5,525 820,532.5 822.5,527.5 827.5,525 830,520 835,518.8 838.8,520 842.5,523.8 845,528.8 850,530 853.8,526.2 860,535 860,550 798.8,550 798.8,540 802.5,536.2 808.8,537.5 808.8,532.5" fill="#FEE79B" stroke="#FEE79B" stroke-width="0.6" stroke-linejoin="round"/>
<polygon points="755,518.8 762.5,515 766.2,515 770,521.2 771.2,527.5 775,535 771.2,538.8 765,537.5 758.8,531.2 752.5,533.8 751.2,527.5" fill="#FECE65" stroke="#FECE65" stroke-width="0.6" stroke-linejoin="round"/>
<polygon points="740,537.5 747.5,536.2 752.5,537.5 758.8,540 763.8,545 763.8,550 740,550" fill="#E1640E" stroke="#E1640E" stroke-width="0.6" stroke-linejoin="round"/>
<polygon points="740,518.8 747.5,520 755,518.8 751.2,527.5 752.5,533.8 747.5,536.2 740,537.5" fill="#FFFFE5" stroke="#FFFFE5" stroke-width="0.6" stroke-linejoin="round"/>
<polygon points="771.2,538.8 775,535 777.5,531.2 783.8,536.2 790,538.8 795,537.5 798.8,540 798.8,550 763.8,550 763.8,545 758.8,540 765,537.5" fill="#FFFFE5" stroke="#FFFFE5" stroke-width="0.6" stroke-linejoin="round"/>
<polygon points="692.5,577.5 698.3,573.3 705,573.3 711.7,570 713.3,566.7 720,568.3 728.3,570 735,571.7 743.3,576.7 750,575.8 755,573.3 758.3,577.5 765,572.5 768.3,580 773.3,585 777.5,596.7 773.3,608.3 768.3,615 761.7,618.3 753.3,621.7 746.7,620 738.3,621.7 730,626.7 725,633.3 720,630 713.3,633.3 706.7,640 701.7,636.7 696.7,640 692.5,643.3 693.3,633.3 688.3,626.7 692.5,616.7 691.7,603.3 690,588.3" fill="#FFF8C1" stroke="#FFF8C1" stroke-width="0.6" stroke-linejoin="round"/>
<polygon points="711.7,590 715,586.7 721.7,585 728.3,606.7 736.7,605 743.3,601.7 750,600 756.7,597.5 763.3,596.7 770,598.3 777.5,596.7 773.3,608.3 768.3,615 761.7,618.3 753.3,621.7 746.7,620 738.3,621.7 731.7,616.7 721.7,615.8 713.3,618.3 710,610 708.3,598.3" fill="#FFFFE5" stroke="#FFFFE5" stroke-width="0.6" stroke-linejoin="round"/>
<polygon points="742.5,580 750,575.8 755,573.3 758.3,577.5 765,572.5 768.3,580 773.3,585 777.5,596.7 770,598.3 763.3,596.7 756.7,597.5 750,600 743.3,601.7 736.7,605 728.3,606.7 720,608.3 715.8,603.3 723.3,599.2 731.7,597.5 741.7,595 743.3,588.3" fill="#FECE65" stroke="#FECE65" stroke-width="0.6" stroke-linejoin="round"/>
<polygon points="703.3,626.7 713.3,618.3 721.7,615.8 731.7,616.7 738.3,621.7 730,626.7 725,633.3 720,630 713.3,633.3 706.7,640 701.7,636.7" fill="#FEE79B" stroke="#FEE79B" stroke-width="0.6" stroke-linejoin="round"/>
<polygon points="738.3,621.7 746.7,620 753.3,621.7 761.7,618.3 768.3,615 767.5,621.7 771.7,628.3 772.5,638.3 763.3,640 746.7,640 730,640 725,633.3 730,626.7" fill="#FFFFE5" stroke="#FFFFE5" stroke-width="0.6" stroke-linejoin="round"/>
<polygon points="698.3,575.8 708.3,574.2 720,575.8 725,580 721.7,585 715,586.7 711.7,590 705,586.7 700,581.7" fill="#D9D9D9" stroke="#D9D9D9" stroke-width="0.6" stroke-linejoin="round"/>
<polygon points="769.2,613.3 773.3,611.7 777.5,616.7 775,623.3 771.7,628.3 767.5,621.7" fill="#D9D9D9" stroke="#D9D9D9" stroke-width="0.6" stroke-linejoin="round"/>
<polygon points="773.3,585 778.3,581.7 786.7,580 796.7,576.7 803.3,572.5 813.3,570.8 821.7,568.3 825,573.3 830,570.8 836.7,573.3 846.7,580 848.3,588.3 853.3,596.7 854.2,603.3 846.7,606.7 840,610 833.3,613.3 828.3,618.3 828.3,626.7 821.7,631.7 818.3,638.3 811.7,633.3 806.7,625 803.3,618.3 804.2,611.7 796.7,613.3 788.3,608.3 783.3,610 777.5,616.7 773.3,611.7 773.3,608.3 777.5,596.7" fill="#FFFFE5" stroke="#FFFFE5" stroke-width="0.6" stroke-linejoin="round"/>
<polygon points="796.7,576.7 803.3,572.5 813.3,570.8 818.3,578.3 813.3,585 805,588.3 796.7,586.7" fill="#FFF8C1" stroke="#FFF8C1" stroke-width="0.6" stroke-linejoin="round"/>
<polygon points="830,570.8 836.7,573.3 837.5,581.7 835,590 830,591.7 827.5,583.3 826.7,576.7" fill="#FECE65" stroke="#FECE65" stroke-width="0.6" stroke-linejoin="round"/>
<polygon points="825,598.3 831.7,596.7 836.7,603.3 833.3,610 826.7,608.3" fill="#FEE79B" stroke="#FEE79B" stroke-width="0.6" stroke-linejoin="round"/>
<polygon points="783.3,610 788.3,608.3 796.7,613.3 793.3,615.8 786.7,615" fill="#FEE79B" stroke="#FEE79B" stroke-width="0.6" stroke-linejoin="round"/>
<polygon points="777.5,616.7 783.3,610 786.7,615 793.3,615.8 796.7,613.3 804.2,611.7 803.3,618.3 806.7,625 811.7,633.3 805,636.7 800,638.3 793.3,641.7 788.3,646.7 780,646.7 775.8,646.7 772.5,638.3 771.7,628.3 775,623.3" fill="#F68720" stroke="#F68720" stroke-width="0.6" stroke-linejoin="round"/>
<polygon points="808.3,553.3 813.3,546.7 823.3,545 828.3,543.3 830,553.3 826.7,558.3 825,565 821.7,568.3 813.3,570.8 811.7,561.7" fill="#FEAC3A" stroke="#FEAC3A" stroke-width="0.6" stroke-linejoin="round"/>
<polygon points="833.3,568.3 840,565 846.7,558.3 851.7,560 856.7,566.7 861.7,568.3 855,575 850,578.3 843.3,575 836.7,573.3" fill="#D9D9D9" stroke="#D9D9D9" stroke-width="0.6" stroke-linejoin="round"/>
<polygon points="854.2,578.3 861.7,568.3 866.7,561.7 873.3,556.7 880,555 880,581.7 871.7,583.3 863.3,584.2 856.7,581.7" fill="#E1640E" stroke="#E1640E" stroke-width="0.6" stroke-linejoin="round"/>
<polygon points="846.7,580 854.2,578.3 856.7,581.7 863.3,584.2 870,586.7 868.3,596.7 863.3,606.7 861.7,606.7 854.2,603.3 853.3,596.7 848.3,588.3" fill="#FFF8C1" stroke="#FFF8C1" stroke-width="0.6" stroke-linejoin="round"/>
<polygon points="870,586.7 880,581.7 880,620 871.7,618.3 863.3,616.7 863.3,606.7 868.3,596.7" fill="#FEE79B" stroke="#FEE79B" stroke-width="0.6" stroke-linejoin="round"/>
<polygon points="828.3,618.3 833.3,613.3 840,610 846.7,606.7 854.2,603.3 861.7,606.7 863.3,616.7 871.7,618.3 880,620 880,636.7 875,640 866.7,640 856.7,643.3 855,636.7 846.7,633.3 838.3,628.3 830,630 828.3,626.7" fill="#FFF8C1" stroke="#FFF8C1" stroke-width="0.6" stroke-linejoin="round"/>
<polygon points="590,516.2 595,507.5 602.5,511.2 610,515 616.2,522.5 617.5,530 621.2,536.2 626.2,533.8 632.5,532.5 637.5,527.5 640,536.2 646.2,537.5 650,540 646.2,545 641.9,551.2 637.5,553.8 632.5,556.2 627.5,561.2 623.8,566.2 621.2,563.8 612.5,558.8 602.5,565 590,560" fill="#FFF8C1" stroke="#FFF8C1" stroke-width="0.6" stroke-linejoin="round"/>
<polygon points="591.9,536.2 596.2,535 602.5,540 608.8,547.5 615,556.2 611.2,558.8 605,552.5 598.8,546.2 593.8,541.2" fill="#FECE65" stroke="#FECE65" stroke-width="0.6" stroke-linejoin="round"/>
<polygon points="602.5,565 612.5,558.8 621.2,563.8 623.8,566.2 622.5,573.8 618.8,577.5 615,575 608.8,571.2 603.8,570" fill="#FFFFE5" stroke="#FFFFE5" stroke-width="0.6" stroke-linejoin="round"/>
<polygon points="632.5,556.2 637.5,553.8 641.9,551.2 648.8,557.5 652.5,561.2 648.8,567.5 643.8,567.5 640,562.5 633.8,562.5 627.5,561.2" fill="#FFFFE5" stroke="#FFFFE5" stroke-width="0.6" stroke-linejoin="round"/>
<polygon points="628.8,500 667.5,500 670,507.5 668.8,515 665,521.2 660,523.8 657.5,527.5 651.2,532.5 646.2,537.5 640,536.2 637.5,527.5 641.9,521.2 640,513.8 631.2,512.5 627.5,510 630,505" fill="#FFFFE5" stroke="#FFFFE5" stroke-width="0.6" stroke-linejoin="round"/>
<polygon points="677.5,500 720,500 715,503.8 702.5,504.4 692.5,502.5 682.5,503.8" fill="#FEAC3A" stroke="#FEAC3A" stroke-width="0.6" stroke-linejoin="round"/>
<polygon points="697.5,500 720,500 722.5,505 730,512.5 740,518.8 740,541.2 733.8,540 727.5,537.5 720,538.8 713.8,541.2 710,547.5 708.8,555 707.5,565 711.2,570 716.2,567.5 727.5,568.8 740,575 740,595 727.5,598.8 717.5,602.5 715,607.5 710,612.5 705,620 700,630 698.8,637.5 695,647.5 690,641.2 692.5,635 693.8,627.5 690,618.8 690,612.5 688.8,600 688.8,587.5 690,580 696.2,575 705,573.8 703.8,570 701.2,565 702.5,552.5 705,547.5 703.8,538.8 698.8,536.2 695,532.5 693.8,525 695,518.8 698.8,516.2 705,515 702.5,510 698.8,506.2" fill="#FFF8C1" stroke="#FFF8C1" stroke-width="0.6" stroke-linejoin="round"/>
<polygon points="677.5,500 720,500 715,503.8 702.5,504.4 692.5,502.5 682.5,503.8" fill="#FEAC3A" stroke="#FEAC3A" stroke-width="0.6" stroke-linejoin="round"/>
<polygon points="710,547.5 713.8,541.2 720,538.8 727.5,537.5 733.8,540 740,541.2 740,567.5 727.5,565 716.2,565 711.2,567.5 707.5,565 708.8,555" fill="#FEE79B" stroke="#FEE79B" stroke-width="0.6" stroke-linejoin="round"/>
<polygon points="711.2,570 716.2,567.5 727.5,568.8 740,575 740,595 727.5,598.8 721.2,595 718.8,587.5 721.2,580 715,575" fill="#FFFFE5" stroke="#FFFFE5" stroke-width="0.6" stroke-linejoin="round"/>
<polygon points="715,602.5 722.5,598.8 731.2,596.9 740,596.2 740,607.5 731.2,606.2 725,605 720,608.8" fill="#FECE65" stroke="#FECE65" stroke-width="0.6" stroke-linejoin="round"/>
<polygon points="702.5,630 707.5,622.5 715,618.8 725,616.2 733.8,617.5 740,620 740,650 725,650 720,643.8 713.8,643.8 710,650 700,650 698.8,637.5" fill="#FEE79B" stroke="#FEE79B" stroke-width="0.6" stroke-linejoin="round"/>
<polygon points="660,523.8 665,521.2 672.5,523.1 675,527.5 676.2,533.8 671.2,537.5 667.5,543.8 665,550 658.8,551.2 656.2,556.2 652.5,561.2 648.8,557.5 641.9,551.2 646.2,545 650,540 655,535 657.5,527.5" fill="#FEAC3A" stroke="#FEAC3A" stroke-width="0.6" stroke-linejoin="round"/>
<polygon points="672.5,523.1 677.5,525 685,528.8 690,533.8 695,532.5 698.8,536.2 703.8,538.8 705,547.5 702.5,552.5 697.5,551.2 690,556.2 685,555 678.8,557.5 673.8,560 676.2,565 675,572.5 680,576.2 683.8,581.2 688.8,587.5 688.8,600 686.2,605 682.5,603.8 677.5,598.8 676.2,592.5 672.5,590 670,586.2 662.5,587.5 657.5,585 655,587.5 655,592.5 648.8,593.8 643.8,598.8 638.8,593.8 636.2,598.8 632.5,593.8 628.8,590 625,587.5 623.8,582.5 618.8,577.5 622.5,573.8 623.8,566.2 627.5,561.2 633.8,562.5 640,562.5 643.8,567.5 648.8,567.5 652.5,561.2 656.2,556.2 658.8,551.2 665,550 667.5,543.8 671.2,537.5 676.2,533.8 675,527.5" fill="#FEE79B" stroke="#FEE79B" stroke-width="0.6" stroke-linejoin="round"/>
<polygon points="618.8,577.5 622.5,573.8 623.8,566.2 627.5,561.2 633.8,562.5 640,562.5 643.8,567.5 647.5,570 647.5,580 645,586.2 640,590 636.2,592.5 632.5,593.8 628.8,590 625,587.5 623.8,582.5" fill="#FFF8C1" stroke="#FFF8C1" stroke-width="0.6" stroke-linejoin="round"/>
<polygon points="673.8,560 678.8,557.5 685,555 690,556.2 697.5,551.2 702.5,552.5 701.2,565 703.8,570 705,573.8 696.2,575 690,580 688.8,587.5 683.8,581.2 680,576.2 675,572.5 676.2,565" fill="#FFFFE5" stroke="#FFFFE5" stroke-width="0.6" stroke-linejoin="round"/>
<polygon points="590,560 602.5,565 603.8,570 608.8,571.2 615,575 618.8,577.5 616.2,585 615,595 617.5,603.8 618.8,612.5 613.8,607.5 608.8,608.8 602.5,611.2 601.2,602.5 597.5,596.2 590,597.5" fill="#FEE79B" stroke="#FEE79B" stroke-width="0.6" stroke-linejoin="round"/>
<polygon points="616.2,585 618.8,577.5 623.8,582.5 625,587.5 628.8,590 632.5,593.8 628.8,597.5 625,600 626.2,605 633.8,606.2 636.2,610 632.5,613.8 626.2,615 618.8,612.5 617.5,603.8 615,595" fill="#FECE65" stroke="#FECE65" stroke-width="0.6" stroke-linejoin="round"/>
<polygon points="625,600 628.8,597.5 632.5,593.8 636.2,598.8 638.8,593.8 643.8,598.8 648.8,593.8 655,592.5 655,587.5 657.5,585 662.5,587.5 670,586.2 670,592.5 667.5,598.8 662.5,603.8 663.8,612.5 662.5,620 660,625 657.5,632.5 655,638.8 660,643.8 665,650 640,650 638.8,640 642.5,625 640,620 631.2,618.8 632.5,613.8 636.2,610 633.8,606.2 626.2,605" fill="#FFFFE5" stroke="#FFFFE5" stroke-width="0.6" stroke-linejoin="round"/>
<polygon points="590,625 595,622.5 600,620 605,621.2 610,623.8 616.2,618.8 618.8,612.5 626.2,615 632.5,613.8 631.2,618.8 640,620 642.5,625 638.8,640 633.8,638.8 627.5,641.2 621.2,643.8 615,637.5 608.8,632.5 602.5,636.2 596.2,637.5 590,636.2" fill="#FEE79B" stroke="#FEE79B" stroke-width="0.6" stroke-linejoin="round"/>
<polygon points="621.2,643.8 627.5,641.2 633.8,638.8 638.8,640 640,650 622.5,650" fill="#FEAC3A" stroke="#FEAC3A" stroke-width="0.6" stroke-linejoin="round"/>
<polygon points="590,636.2 596.2,637.5 602.5,636.2 606.2,642.5 603.8,650 590,650" fill="#FEE79B" stroke="#FEE79B" stroke-width="0.6" stroke-linejoin="round"/>
<polygon points="602.5,636.2 608.8,632.5 615,637.5 621.2,643.8 622.5,650 603.8,650 606.2,642.5" fill="#FFFFE5" stroke="#FFFFE5" stroke-width="0.6" stroke-linejoin="round"/>
<polygon points="598.8,500 628.8,500 630,505 627.5,510 622.5,511.2 618.8,513.8 610,515 602.5,511.2 599.4,507.5" fill="#D9D9D9" stroke="#D9D9D9" stroke-width="0.6" stroke-linejoin="round"/>
<polygon points="608.8,515 618.8,513.8 622.5,511.2 631.2,512.5 640,513.8 641.9,521.2 637.5,527.5 632.5,532.5 626.2,533.8 621.2,536.2 617.5,530 616.2,522.5" fill="#D9D9D9" stroke="#D9D9D9" stroke-width="0.6" stroke-linejoin="round"/>
<polygon points="667.5,500 677.5,500 682.5,503.8 692.5,502.5 697.5,500 698.8,506.2 702.5,510 705,515 698.8,516.2 695,518.8 693.8,525 695,532.5 690,533.8 685,528.8 677.5,525 672.5,523.1 665,521.2 668.8,515 670,507.5" fill="#D9D9D9" stroke="#D9D9D9" stroke-width="0.6" stroke-linejoin="round"/>
<polygon points="703.8,533.8 710,531.2 716.2,531.9 718.8,536.2 713.8,540 707.5,541.2 704.4,538.8" fill="#D9D9D9" stroke="#D9D9D9" stroke-width="0.6" stroke-linejoin="round"/>
<polygon points="697.5,576.2 705,573.8 711.2,575 720,575 725.6,577.5 725,582.5 720,585 715,586.2 710,590 706.2,586.2 701.2,581.2" fill="#D9D9D9" stroke="#D9D9D9" stroke-width="0.6" stroke-linejoin="round"/>
<polygon points="670,592.5 670,586.2 672.5,590 676.2,592.5 677.5,598.8 682.5,603.8 686.2,605 688.8,600 690,612.5 690,618.8 687.5,623.8 682.5,627.5 682.5,632.5 690,627.5 693.8,631.2 692.5,637.5 690,641.2 690,650 665,650 660,643.8 655,638.8 657.5,632.5 660,625 662.5,620 663.8,612.5 662.5,603.8 667.5,598.8" fill="#D9D9D9" stroke="#D9D9D9" stroke-width="0.6" stroke-linejoin="round"/>
<polygon points="590,597.5 597.5,596.2 601.2,602.5 602.5,611.2 608.8,608.8 613.8,607.5 617.5,612.5 616.2,618.8 610,623.8 605,621.2 600,620 595,622.5 590,625" fill="#D9D9D9" stroke="#D9D9D9" stroke-width="0.6" stroke-linejoin="round"/>
<polygon points="710,650 713.8,643.8 720,643.8 725,650" fill="#D9D9D9" stroke="#D9D9D9" stroke-width="0.6" stroke-linejoin="round"/>
<polygon points="605,415.6 612.5,413.8 618.8,411.2 626.9,407.5 626.2,400 642.5,400 650,403.8 660,408.8 655,412.5 653.8,422.5 642.5,423.8 640,431.2 637.5,436.2 630,440 625,442.5 620,438.8 617.5,431.2 613.8,425 608.8,420" fill="#FEE79B" stroke="#FEE79B" stroke-width="0.6" stroke-linejoin="round"/>
<polygon points="632.5,400 642.5,400 645,406.2 642.5,411.2 637.5,408.8" fill="#FEAC3A" stroke="#FEAC3A" stroke-width="0.6" stroke-linejoin="round"/>
<polygon points="642.5,400 650,403.8 660,408.8 667.5,412.5 680,411.2 681.2,405 685,403.8 683.8,400 712.5,400 716.2,412.5 711.2,425 712.5,437.5 713.1,450 710,455 705,452.5 700,456.2 692.5,458.8 687.5,455 681.2,458.8 677.5,455 675,447.5 678.8,440 675,435 667.5,431.2 660,427.5 653.8,426.2 653.8,422.5 655,412.5 660,408.8" fill="#FFFFE5" stroke="#FFFFE5" stroke-width="0.6" stroke-linejoin="round"/>
<polygon points="642.5,423.8 653.8,422.5 653.8,426.2 660,427.5 667.5,431.2 675,435 678.8,440 675,447.5 677.5,455 676.2,460 670,461.2 661.2,461.2 657.5,456.2 650,455 643.8,452.5 640,447.5 646.2,443.8 647.5,438.8 640,436.2 637.5,436.2 640,431.2" fill="#FFF8C1" stroke="#FFF8C1" stroke-width="0.6" stroke-linejoin="round"/>
<polygon points="600,416.2 605,415.6 608.8,420 613.8,425 617.5,431.2 620,438.8 618.8,447.5 625,453.8 631.2,457.5 637.5,461.2 638.8,452.5 640,447.5 643.8,452.5 650,455 657.5,456.2 661.2,461.2 662.5,466.2 656.2,467.5 651.2,468.8 647.5,465 640,465 631.2,462.5 625,460 618.8,456.2 612.5,452.5 607.5,445 603.8,437.5 600,436.2" fill="#FECE65" stroke="#FECE65" stroke-width="0.6" stroke-linejoin="round"/>
<polygon points="600,437.5 603.8,437.5 605,443.8 602.5,450 600,450" fill="#FEAC3A" stroke="#FEAC3A" stroke-width="0.6" stroke-linejoin="round"/>
<polygon points="600,450 603.8,447.5 607.5,445 612.5,452.5 618.8,456.2 625,460 631.2,462.5 640,465 637.5,475 640,480 638.8,487.5 631.2,481.2 622.5,480 615,476.2 608.8,480 600,480" fill="#FFF8C1" stroke="#FFF8C1" stroke-width="0.6" stroke-linejoin="round"/>
<polygon points="606.2,466.2 612.5,462.5 622.5,461.2 631.2,462.5 640,465 637.5,475 640,480 638.8,487.5 631.2,481.2 622.5,480 615,476.2 610,472.5" fill="#FEE79B" stroke="#FEE79B" stroke-width="0.6" stroke-linejoin="round"/>
<polygon points="640,465 647.5,465 651.2,468.8 656.2,467.5 662.5,466.2 665,472.5 666.2,480 665,486.2 661.2,491.2 655,492.5 647.5,490 640,492.5 638.8,487.5 640,480 637.5,475" fill="#FEE79B" stroke="#FEE79B" stroke-width="0.6" stroke-linejoin="round"/>
<polygon points="661.2,461.2 670,461.2 676.2,460 678.8,456.2 680,460 677.5,465 681.2,468.8 686.2,472.5 682.5,476.2 677.5,480 671.2,482.5 666.2,480 665,472.5 662.5,466.2" fill="#FEAC3A" stroke="#FEAC3A" stroke-width="0.6" stroke-linejoin="round"/>
<polygon points="690,456.2 692.5,458.8 700,456.2 705,452.5 710,455 713.1,450 712.5,460 708.8,467.5 707.5,473.8 703.8,477.5 698.8,480 693.8,483.8 692.5,477.5 690,473.8 686.2,472.5 681.2,468.8 686.2,468.8 688.8,465 692.5,461.2" fill="#FEE79B" stroke="#FEE79B" stroke-width="0.6" stroke-linejoin="round"/>
<polygon points="666.2,480 671.2,482.5 677.5,480 682.5,476.2 686.2,472.5 690,473.8 692.5,477.5 693.8,483.8 687.5,488.8 681.2,490 677.5,493.8 670,492.5 667.5,490 661.2,491.2 665,486.2" fill="#FECE65" stroke="#FECE65" stroke-width="0.6" stroke-linejoin="round"/>
<polygon points="693.8,483.8 698.8,480 703.8,477.5 708.8,481.2 712.5,486.2 716.2,491.2 720,496.2 720,502.5 715,503.8 710,501.2 706.2,502.5 700,503.8 693.8,502.5 687.5,501.2 682.5,505 677.5,500 676.2,496.2 680,493.8 677.5,493.8 681.2,490 687.5,488.8" fill="#FEAC3A" stroke="#FEAC3A" stroke-width="0.6" stroke-linejoin="round"/>
<polygon points="712.5,400 750,400 750,418.8 743.8,422.5 737.5,425 731.2,428.8 725,430 718.8,427.5 711.2,425 716.2,412.5" fill="#FFF8C1" stroke="#FFF8C1" stroke-width="0.6" stroke-linejoin="round"/>
<polygon points="725,430 731.2,428.8 737.5,425 743.8,422.5 750,418.8 750,441.2 746.2,436.2 740,433.8 732.5,433.8" fill="#FFFFE5" stroke="#FFFFE5" stroke-width="0.6" stroke-linejoin="round"/>
<polygon points="711.2,425 718.8,427.5 725,430 732.5,433.8 740,433.8 746.2,436.2 748.8,442.5 747.5,447.5 740,450 737.5,455 738.8,461.2 740,463.8 732.5,467.5 725,470 717.5,472.5 708.8,475 707.5,473.8 708.8,467.5 712.5,460 713.1,450 712.5,437.5" fill="#FEE79B" stroke="#FEE79B" stroke-width="0.6" stroke-linejoin="round"/>
<polygon points="740,461.9 750,461.2 750,467.5 742.5,467.5" fill="#C14702" stroke="#C14702" stroke-width="0.6" stroke-linejoin="round"/>
<polygon points="708.8,475 717.5,472.5 725,470 732.5,467.5 740,463.8 742.5,467.5 750,467.5 750,487.5 747.5,492.5 743.8,495 740,492.5 737.5,495 731.2,492.5 725,491.2 721.2,496.2 720,496.2 716.2,491.2 712.5,486.2 708.8,481.2 703.8,477.5 707.5,473.8" fill="#FEE79B" stroke="#FEE79B" stroke-width="0.6" stroke-linejoin="round"/>
<polygon points="742.5,487.5 747.5,480 750,480 750,493.8 743.8,495" fill="#FECE65" stroke="#FECE65" stroke-width="0.6" stroke-linejoin="round"/>
<polygon points="640,492.5 647.5,490 655,492.5 661.2,491.2 667.5,490 670,492.5 668.8,500 670,507.5 671.2,515 670,520 667.5,522.5 665,525 660,523.8 656.2,528.8 652.5,532.5 650,537.5 643.8,538.8 637.5,535 637.5,525 641.2,518.8 637.5,515 631.2,512.5 626.2,510 628.8,500 633.8,496.2" fill="#FFFFE5" stroke="#FFFFE5" stroke-width="0.6" stroke-linejoin="round"/>
<polygon points="693.8,502.5 700,503.8 706.2,502.5 710,501.2 715,503.8 720,502.5 725,510 728.8,516.2 726.2,522.5 723.8,527.5 720,531.2 717.5,535 712.5,537.5 708.8,533.8 703.8,536.2 700,536.2 695,532.5 693.8,525 695,517.5 701.2,516.2 706.2,513.8 703.8,511.2 698.8,510 697.5,506.2" fill="#FFF8C1" stroke="#FFF8C1" stroke-width="0.6" stroke-linejoin="round"/>
<polygon points="720,496.2 721.2,496.2 725,491.2 731.2,492.5 737.5,495 740,492.5 743.8,495 750,493.8 750,536.2 743.8,536.2 737.5,537.5 736.2,543.8 731.2,550 707.5,550 706.2,541.2 703.8,536.2 708.8,533.8 712.5,537.5 717.5,535 720,531.2 723.8,527.5 726.2,522.5 728.8,516.2 725,510 720,502.5" fill="#FFFFE5" stroke="#FFFFE5" stroke-width="0.6" stroke-linejoin="round"/>
<polygon points="737.5,537.5 743.8,536.2 750,536.2 750,550 738.8,550 736.2,543.8" fill="#E1640E" stroke="#E1640E" stroke-width="0.6" stroke-linejoin="round"/>
<polygon points="600,508.8 606.2,512.5 607.5,516.2 610,520 615,522.5 616.2,530 620,536.2 616.2,541.2 612.5,550 600,550" fill="#FFF8C1" stroke="#FFF8C1" stroke-width="0.6" stroke-linejoin="round"/>
<polygon points="637.5,535 643.8,538.8 650,537.5 652.5,532.5 656.2,528.8 658.8,532.5 655,540 650,545 647.5,550 612.5,550 616.2,541.2 620,536.2 625,535 631.2,532.5" fill="#FFFFE5" stroke="#FFFFE5" stroke-width="0.6" stroke-linejoin="round"/>
<polygon points="656.2,528.8 660,523.8 665,525 667.5,522.5 672.5,522.5 675,525 676.2,532.5 671.2,537.5 667.5,543.8 665,550 647.5,550 650,545 655,540 658.8,532.5" fill="#FEAC3A" stroke="#FEAC3A" stroke-width="0.6" stroke-linejoin="round"/>
<polygon points="675,525 680,527.5 686.2,530 690,533.8 695,532.5 700,536.2 703.8,536.2 706.2,541.2 707.5,550 665,550 667.5,543.8 671.2,537.5 676.2,532.5" fill="#FEE79B" stroke="#FEE79B" stroke-width="0.6" stroke-linejoin="round"/>
<polygon points="600,400 626.2,400 626.9,407.5 618.8,411.2 612.5,413.8 605,415.6 600,416.2" fill="#D9D9D9" stroke="#D9D9D9" stroke-width="0.6" stroke-linejoin="round"/>
<polygon points="620,438.8 625,442.5 630,440 637.5,436.2 640,436.2 647.5,438.8 646.2,443.8 640,447.5 638.8,452.5 637.5,461.2 631.2,457.5 625,453.8 618.8,447.5" fill="#D9D9D9" stroke="#D9D9D9" stroke-width="0.6" stroke-linejoin="round"/>
<polygon points="677.5,465 680,460 685,456.2 690,456.2 692.5,461.2 688.8,465 686.2,468.8 681.2,468.8" fill="#D9D9D9" stroke="#D9D9D9" stroke-width="0.6" stroke-linejoin="round"/>
<polygon points="737.5,455 740,450 747.5,447.5 750,445 750,461.2 740,461.2 738.8,461.2" fill="#D9D9D9" stroke="#D9D9D9" stroke-width="0.6" stroke-linejoin="round"/>
<polygon points="670,492.5 677.5,493.8 680,493.8 676.2,496.2 677.5,500 682.5,505 687.5,501.2 693.8,502.5 697.5,506.2 698.8,510 703.8,511.2 706.2,513.8 701.2,516.2 695,517.5 693.8,525 695,532.5 690,533.8 686.2,530 680,527.5 675,525 672.5,522.5 670,520 671.2,515 670,507.5 668.8,500" fill="#D9D9D9" stroke="#D9D9D9" stroke-width="0.6" stroke-linejoin="round"/>
<polygon points="705,535 708.8,531.2 715,531.2 718.8,535 716.2,538.8 710,541.2 706.2,540" fill="#D9D9D9" stroke="#D9D9D9" stroke-width="0.6" stroke-linejoin="round"/>
<polygon points="600,480 608.8,480 615,476.2 622.5,480 631.2,481.2 638.8,487.5 640,492.5 633.8,496.2 628.8,500 626.2,510 620,512.5 612.5,513.8 606.2,512.5 600,508.8" fill="#D9D9D9" stroke="#D9D9D9" stroke-width="0.6" stroke-linejoin="round"/>
<polygon points="607.5,516.2 612.5,513.8 620,512.5 626.2,510 631.2,512.5 637.5,515 641.2,518.8 637.5,525 637.5,535 631.2,532.5 625,535 620,536.2 616.2,530 615,522.5 610,520" fill="#D9D9D9" stroke="#D9D9D9" stroke-width="0.6" stroke-linejoin="round"/>
<polygon points="616.7,646.7 623.3,640 635,638.3 640,642.5 641.7,650 640,661.7 633.3,668.3 626.7,663.3 621.7,656.7 616.7,651.7" fill="#FEE79B" stroke="#FEE79B" stroke-width="0.6" stroke-linejoin="round"/>
<polygon points="621.7,641.7 628.3,640 635,639.2 639.2,642.5 636.7,648.3 637.5,655 638.3,661.7 633.3,660.8 626.7,661.7 623.3,655 617.5,650.8" fill="#FEAC3A" stroke="#FEAC3A" stroke-width="0.6" stroke-linejoin="round"/>
<polygon points="933.3,220 948.3,220 950,227.5 936.7,228.3" fill="#FEE79B" stroke="#FEE79B" stroke-width="0.6" stroke-linejoin="round"/>
<polyline points="146.2,480 160,477.5 163.8,468.8 170,458.8 182.5,460 192.5,462 200,459.5 206.2,453 215,453 220,458 232.5,459.5 240,458 247.5,453.8 262.5,451.2 273.8,447.5 276.2,442.5 287.5,440 296.2,437.5 300,438.8" fill="none" stroke="#5c6066" stroke-width="1.15" stroke-linejoin="round" stroke-linecap="round"/>
<polyline points="300,438.8 310,437.5 317.5,437 325,440 332.5,444.5 335,446.2" fill="none" stroke="#5c6066" stroke-width="1.15" stroke-linejoin="round" stroke-linecap="round"/>
<polyline points="335,446.2 338.8,450 333.8,457.5 336.2,467.5 340,470 338.8,480 337.5,486.2 342.5,493.8 350,501.2 360,505 370,506.2 380,510 390,512.5 400,515 410,517.5 420,516.2 426.2,515 436.2,521.2 440,530 447.5,532.5 453.8,535 456.2,530 465,533.8 465,527.5 475,523.8 476.2,516.2" fill="none" stroke="#5c6066" stroke-width="1.15" stroke-linejoin="round" stroke-linecap="round"/>
<polyline points="476.2,516.2 475,510 478.8,500 476.2,490 485,482.5 495,486.2 500,497.5 510,507.5 517.5,510 521.2,507.5 525,513.8 535,516.2 543.8,513.8 542.5,505 550,502.5" fill="none" stroke="#5c6066" stroke-width="1.15" stroke-linejoin="round" stroke-linecap="round"/>
<polyline points="476.2,516.2 485,517.5 492.5,522.5 496.2,532.5 501.2,538.8 497.5,543.8 503.8,552.5 505,570 506.2,585 503.8,592.5 498.8,590 497.5,600 491.2,605.5" fill="none" stroke="#5c6066" stroke-width="1.15" stroke-linejoin="round" stroke-linecap="round"/>
<polyline points="506.2,586.2 510,597.5 511.2,605 516.2,593.8 522.5,600 527.5,610 535,612.5 543.8,627.5 550,636.2" fill="none" stroke="#5c6066" stroke-width="1.15" stroke-linejoin="round" stroke-linecap="round"/>
<polyline points="346.2,396.2 346.2,398.8 352.5,400 353.8,410 360,416.2 366.2,422.5 358.8,426.2 356.2,432.5 361.2,437.5 362.5,446.2 350,442.5 340,447.5 335,446.2" fill="none" stroke="#5c6066" stroke-width="1.15" stroke-linejoin="round" stroke-linecap="round"/>
<polyline points="346.2,396.2 353.8,392.5 362.5,390 375,386.2 386.2,383.8 388.8,375 392.5,367.5 395,353 411.2,350 412.5,345 422.5,335 435,328.8 437.5,330.5 450,325 453,320 451.2,313.8 457.5,308" fill="none" stroke="#5c6066" stroke-width="1.15" stroke-linejoin="round" stroke-linecap="round"/>
<polyline points="386.2,383.8 397.5,381.2 400,386.2 410,386.2 412.5,388.8 422.5,392.5 425,397.5 437.5,396.2 447.5,398.8 456.2,401.2 462.5,396.2 470,391.2 468.8,382.5 476.2,380" fill="none" stroke="#5c6066" stroke-width="1.15" stroke-linejoin="round" stroke-linecap="round"/>
<polyline points="476.7,380 477.5,381.7 482.5,385 488.3,388.3 495,385.8 500,383.3 506.7,384.2 513.3,390.8 523.3,400 530,397.5 538.3,400 546.7,406.7 556.7,410.8 560,410 566.7,420 573.3,428.3 570,431.7 574.2,440 577.5,441.7 575,448.3 572.5,450.8 573.3,455.8 566.7,456.7 563.3,460 565,464.2 558.3,468.3 557.5,475 565,480.8 560,483.3 558.3,488.3 551.7,493.3 556.7,499.2" fill="none" stroke="#5c6066" stroke-width="1.15" stroke-linejoin="round" stroke-linecap="round"/>
<polyline points="472.5,308 476.7,318.3 484.2,330.8 479.7,334.2 485.8,340 492.5,347.5 493.7,352.5 498.3,349.2 506.7,348.3 520,345.8 525.8,347.5 527.5,351.7 523.3,360 517.5,365.8 528.3,373.3 536.7,376.7 537.5,381.7 543.3,385.8 550,391.7 556.7,385.8 556.7,381.7 566.7,380 576.7,381.7 583.3,377.5 594.2,375.3 596.7,380 598.3,385 593.3,391.7 585.8,396.7 583.3,406.7 588.3,410 595,415 602.5,416.7 613.3,414.2 626.7,410 629.2,398.3 628.3,393.3 630,388.3 630.8,383.3 633.3,380 641.7,376.7" fill="none" stroke="#5c6066" stroke-width="1.15" stroke-linejoin="round" stroke-linecap="round"/>
<polyline points="550,501.7 555,504.2 556.7,500 565,498.3 566.7,493.3 563.3,487.5 574.2,480.8 578.3,483.3 580,490 590,493.3 596.7,495 601.7,501.7 600,509.2 608.3,515 620,513.3 623.3,509.2 628.3,508.3 627.5,500 630,495.8 639.2,494.2 641.7,488.3 645,483.3 646.7,480" fill="none" stroke="#5c6066" stroke-width="1.15" stroke-linejoin="round" stroke-linecap="round"/>
<polyline points="536.7,480 540,486.7 546.7,491.7 551.7,495 554.2,500.8 556.7,500" fill="none" stroke="#5c6066" stroke-width="1.15" stroke-linejoin="round" stroke-linecap="round"/>
<polyline points="550,638.3 552.5,645 555.8,648.3 560,647.5 565,643.3 569.2,645 574.2,644.2 578.3,640 575,636.7 574.2,630 575,623.3 581.7,620 585,613.3 590,606.7 590.8,601.7 592.5,597.5 600,596.7 601.7,600 600.8,606.7 606.7,612.5 616.7,613.3 617.5,618.3 613.3,621.7 606.7,623.3 600,620.8 595,623.3 590,626.7 589.2,633.3 591.7,638.3 600,636.7 605,640 606.7,646.7 603.3,650 600.8,656.7 604.2,661.7 607.5,666.7 605.8,673.3 604.2,680" fill="none" stroke="#5c6066" stroke-width="1.15" stroke-linejoin="round" stroke-linecap="round"/>
<polyline points="600.8,650 600,656.7 605,663.3 605.8,670 603.3,676.7 605.8,682.5 610,685.8 616.7,690 623.3,689.2 630,690 634.2,694.2 632.5,700 626.7,701.7 621.7,705 620,705" fill="none" stroke="#5c6066" stroke-width="1.15" stroke-linejoin="round" stroke-linecap="round"/>
<polyline points="603.3,676.7 606.7,676.7 614.2,675 616.7,671.7 621.7,673.3 626.7,675.8 631.7,675 640,666.7 650,661.7" fill="none" stroke="#5c6066" stroke-width="1.15" stroke-linejoin="round" stroke-linecap="round"/>
<polyline points="730,372.5 736.7,372.5 737.5,368.3 740,363.3 743.3,359.2 748.3,360.8 753.3,360 756.7,357.5 763.3,356.7 770,355 776.7,353.3 775,346.7 771.7,340 773.3,335 779.2,328.3 783.3,321.7 789.2,320.8 790.8,330 795,331.7 800,328.3 808.3,325 813.3,326.7 820,323.3 826.7,320 828.3,315 833.3,312.5 840,311.7" fill="none" stroke="#5c6066" stroke-width="1.15" stroke-linejoin="round" stroke-linecap="round"/>
<polyline points="776.7,353.3 780,357.5 775,360 773.3,365 781.7,366.7 783.3,373.3 781.7,378.3 776.7,380 772.5,382.5 770,388.3 766.7,394.2 767.5,399.2" fill="none" stroke="#5c6066" stroke-width="1.15" stroke-linejoin="round" stroke-linecap="round"/>
<polyline points="805,356.7 806.7,352.5 813.3,348.3 818.3,346.7 823.3,344.2 828.3,347.5 833.3,350.8 831.7,356.7 835,361.7 830,363.3 825,363.3 823.3,368.3 820,371.7 813.3,374.2 806.7,375 805,371.7 800.8,368.3 800.8,363.3 806.7,361.7 808.3,359.2 805,356.7" fill="none" stroke="#5c6066" stroke-width="1.15" stroke-linejoin="round" stroke-linecap="round"/>
<polyline points="835,361.7 840,363.3" fill="none" stroke="#5c6066" stroke-width="1.15" stroke-linejoin="round" stroke-linecap="round"/>
<polyline points="824.2,373.3 825,380 824.2,385 826.7,390 833.3,392.5 840,393.3" fill="none" stroke="#5c6066" stroke-width="1.15" stroke-linejoin="round" stroke-linecap="round"/>
<polyline points="720,378 721.7,378.3 723.3,374.2 730,372.5" fill="none" stroke="#5c6066" stroke-width="1.15" stroke-linejoin="round" stroke-linecap="round"/>
<polyline points="721.7,378.3 718.3,386.7 718.3,395 711.7,400 712.5,403.3" fill="none" stroke="#5c6066" stroke-width="1.15" stroke-linejoin="round" stroke-linecap="round"/>
<polyline points="656.7,430 654.2,421.7 653.3,413.3 660,409.2" fill="none" stroke="#5c6066" stroke-width="1.15" stroke-linejoin="round" stroke-linecap="round"/>
<polyline points="620,411.2 623.3,410.8 626.7,407.5 627.5,400.8 627.1,395 629.2,388.3 631.7,383.3 635,379.6 640.8,377.5 644.2,376.7 645,380 646.7,383.3 647.5,384.2 645,388.3 642.1,392.5 642.1,395.8 639.6,399.2 643.3,401.7 648.3,402.5 653.3,403.3 656.7,405.8 659.2,408.3 660.8,408.3 665.8,409.2 667.5,412.5 671.7,412.1 677.5,412.1 680,410 680.8,405 683.3,405.8 685,403.3 683.3,400 686.7,395 690.8,391.7 695,387.5 700,380.8 705,378.3 705.8,375.8 710,377.9 714.2,379.2 717.5,375.4 720,374.6" fill="none" stroke="#5c6066" stroke-width="1.15" stroke-linejoin="round" stroke-linecap="round"/>
<polyline points="660.8,408.3 656.7,410.8 654.2,415 653.8,421.7 655,426.7 660,430" fill="none" stroke="#5c6066" stroke-width="1.15" stroke-linejoin="round" stroke-linecap="round"/>
<polyline points="830,313.3 841.7,311.7 846.7,316.7 850,326.7 851.7,335 858.3,336.7 866.7,338.3 870.8,333.3 868.3,323.3 870,318.3 875,316.7 880,323.3 883.3,330 885,325 890,321.7 896.7,319.2 903.3,316.7 910,313.3 916.7,310 923.3,306.7 930,307.5 938.3,305 945,301.7 948.3,295 943.3,293.3 945,288.3 941.7,280 938.3,272.5 928.3,276.7 923.3,273.3 920,263.3 918.3,251.7 912.5,246.7 915,241.7 923.3,242.5 931.7,241.7 936.7,236.7 936.7,230" fill="none" stroke="#5c6066" stroke-width="1.15" stroke-linejoin="round" stroke-linecap="round"/>
<polyline points="866.7,338.3 863.3,345 866.7,350 871.7,350 875,356.7 878.3,363.3" fill="none" stroke="#5c6066" stroke-width="1.15" stroke-linejoin="round" stroke-linecap="round"/>
<polyline points="948.3,295 953.3,296.7 960,303.3 965,305 968.3,300.8 971.7,308.3 975,315 977.5,320.8 976.7,326.7 980,333.3 983.3,340 984.2,345.8" fill="none" stroke="#5c6066" stroke-width="1.15" stroke-linejoin="round" stroke-linecap="round"/>
<polyline points="936.7,236.7 950,235.8 953.3,243.3 958.3,251.7 971.7,251.7 980,250.8" fill="none" stroke="#5c6066" stroke-width="1.15" stroke-linejoin="round" stroke-linecap="round"/>
<polyline points="911.7,91.7 913.3,96.7 910,101.7 905,106.7 913.3,112.5 920,110 926.7,111.7 930.8,116.7 931.7,125 935,131.7 940,134.2 946.7,132.5 956.7,132.5 965,131.7 971.7,127.5 978.3,128.3 985,134.2 990,138.3 990,141.7 985.8,148.3 980,156.7 975,163.3 975,171.7 971.7,176.7 966.7,181.7 963.3,190 961.7,199.2 959.2,191.7 955,193.3 948.3,198.3 940,205 931.7,210 925,215 931.7,220 933.3,225 936.7,227.5 935,232.5 936.7,235 943.3,235 950.8,235 954.2,238.3 955,245 958.3,250 963.3,253.3 970,252.5 978.3,254.2 985,253.3 990,251.7" fill="none" stroke="#5c6066" stroke-width="1.15" stroke-linejoin="round" stroke-linecap="round"/>
<polyline points="936.7,227.5 941.7,226.7 946.7,225 945,221.7 940,222.5 941.7,226.7" fill="none" stroke="#5c6066" stroke-width="1.15" stroke-linejoin="round" stroke-linecap="round"/>
<polyline points="936.7,235 933.3,240 931.7,243.3 926.7,245 921.7,243.3 915,241.7 912.5,246.7 916.7,250 919.2,256.7 918.3,270" fill="none" stroke="#5c6066" stroke-width="1.15" stroke-linejoin="round" stroke-linecap="round"/>
<polyline points="980,250 985,255.8 990,258.3 996.7,257.5 1001.7,258.3 1006.7,263.3 1008.3,270 1015,271.7 1018.3,275 1021.7,280.8 1026.7,278.3 1031.7,271.7 1033.3,273.3 1035,280 1038.3,285 1041.7,291.7 1046.7,292.5 1048.3,288.3 1053.3,286.7 1056.7,282.5 1061.7,283.3 1066.7,282.5 1068.3,288.3 1073.3,290 1080,293.3 1085,294.2" fill="none" stroke="#5c6066" stroke-width="1.15" stroke-linejoin="round" stroke-linecap="round"/>
<polyline points="820,467.5 825,468.3 827.5,468.3 830,473.3 832.5,477.5 838.3,476.7 843.3,473.3 848.3,473.3 850,477.5 853.3,478.3 855,473.3 859.2,471.7 861.7,466.7 868.3,470" fill="none" stroke="#5c6066" stroke-width="1.15" stroke-linejoin="round" stroke-linecap="round"/>
<polyline points="820,478.3 825.8,478.3 826.7,483.3 830,485 838.3,486.7 841.7,491.7 849.2,493.3 848.3,498.3 850,503.3 850.8,506.7 853.3,511.7 858.3,515 860,510 863.3,508.3 868.3,511.7 867.5,516.7 863.3,518.3 858.3,515 857.5,520 853.3,523.3 852.5,526.7 855,531.7 859.2,535 860,541.7 865,543.3 871.7,543.3 876.7,545 881.7,546.7 886.7,548.3 891.7,551.7 896.7,548.3 900,545 903.3,541.7 905,538.3 908.3,536.7" fill="none" stroke="#5c6066" stroke-width="1.15" stroke-linejoin="round" stroke-linecap="round"/>
<polyline points="876.7,545 875,550 870,555 868.3,560 861.7,563.3 860,568.3 861.7,571.7 855,575 853.3,580 850,580 846.7,585 848.3,591.7 851.7,600" fill="none" stroke="#5c6066" stroke-width="1.15" stroke-linejoin="round" stroke-linecap="round"/>
<polyline points="640,668.3 646.7,666.7 650,660 653.3,661.7 658.3,666.7 665,661.7 670,656.7 675.8,663.3 678.3,660 683.3,657.5 690,655 691.7,650" fill="none" stroke="#5c6066" stroke-width="1.15" stroke-linejoin="round" stroke-linecap="round"/>
<polyline points="677.5,600 680,603.3 688.3,601.7 690,608.3 691.7,616.7 688.3,621.7 681.7,626.7 681.7,631.7 693.3,630 694.2,635 690,638.3 691.7,650 696.7,651.7 701.7,647.5 706.7,650 711.7,645 720,643.3 725,648.3 726.7,655 721.7,663.3 723.3,668.3 728.3,670 730,675 738.3,675 740,680 735,686.7 731.7,693.3 728.3,698.3 726.7,703.3 725.8,710 721.7,716.7 716.7,720 713.3,725 708.3,730 703.3,733.3 698.3,738.3 698.3,740" fill="none" stroke="#5c6066" stroke-width="1.15" stroke-linejoin="round" stroke-linecap="round"/>
<polyline points="738.3,675 741.7,668.3 746.7,668.3 753.3,666.7 755,666.7 760,661.7 766.7,664.2 773.3,663.3 778.3,664.2 785,663.3 786.7,666.7 782.5,670 778.3,676.7 781.7,679.2 790,677.5 798.3,675.8 805,678.3 806.7,673.3" fill="none" stroke="#5c6066" stroke-width="1.15" stroke-linejoin="round" stroke-linecap="round"/>
<polyline points="778.3,600 776.7,608.3 770,613.3 767.5,618.3 771.7,625 773.3,633.3 772.5,638.3 775,646.7 773.3,656.7 778.3,664.2" fill="none" stroke="#5c6066" stroke-width="1.15" stroke-linejoin="round" stroke-linecap="round"/>
<polyline points="840,610 833.3,613.3 828.3,616.7 830,625 825,630 820,631.7 820,640 816.7,648.3 811.7,656.7 808.3,666.7 806.7,673.3 813.3,674.2 821.7,675 825.8,681.7 825,685 826.7,686.7 828.3,693.3 833.3,699.2" fill="none" stroke="#5c6066" stroke-width="1.15" stroke-linejoin="round" stroke-linecap="round"/>
<polyline points="846.7,580 848.3,588.3 853.3,595 855,603.3 846.7,608.3 840,613.3 836.7,610.8 830,615.8 828.3,621.7 830,625 825,628.3 820,630" fill="none" stroke="#5c6066" stroke-width="1.15" stroke-linejoin="round" stroke-linecap="round"/>
<polyline points="855,603.3 859.2,605 860.8,613.3 862.5,620 868.3,620 873.3,616.7 875.8,618.3 880,623.3 887.5,621.7 891.7,625" fill="none" stroke="#5c6066" stroke-width="1.15" stroke-linejoin="round" stroke-linecap="round"/>
<polyline points="826.7,678.3 826.7,686.7 828.3,695 831.7,700" fill="none" stroke="#5c6066" stroke-width="1.15" stroke-linejoin="round" stroke-linecap="round"/>
<polyline points="766.2,400 772.5,405 776.2,411.2 771.2,420 768.8,426.2 765,432.5 769.4,437.5 770,440 768.1,445.6 766.2,452.5 761.2,456.9 755,460 747.5,461.2 740,461.9" fill="none" stroke="#5c6066" stroke-width="1.15" stroke-linejoin="round" stroke-linecap="round"/>
<polyline points="770,440 777.5,440.6 783.8,442.5 791.2,443.8 793.8,441.9 798.8,443.8 800,441.2 798.1,437.5 798.8,432.5 801.2,428.8 806.2,423.8 810,418.8 813.8,416.2 816.2,412.5 820,408.8 827.5,408.8 836.2,406.2 840,402.5 843.8,400" fill="none" stroke="#5c6066" stroke-width="1.15" stroke-linejoin="round" stroke-linecap="round"/>
<polyline points="798.8,443.8 800,447.5 806.2,445.6 802.5,449.4 798.8,452.5 795,456.2 791.2,458.8 788.8,465 790,466.2 795,467.5 800,473.8 807.5,475 813.8,475.6 817.5,473.8 817.5,470 820.6,468.5" fill="none" stroke="#5c6066" stroke-width="1.15" stroke-linejoin="round" stroke-linecap="round"/>
<polyline points="813.8,475.6 815,478.8 820,480" fill="none" stroke="#5c6066" stroke-width="1.15" stroke-linejoin="round" stroke-linecap="round"/>
<polyline points="821.2,486.2 817.5,487.5 812.5,491.2 810,487.5 806.2,485 803.1,487.5 802.5,495 798.8,497.5 796.2,502.5 791.2,505 795,511.2 805,517.5 808.8,518.8 808.8,532.5 802.5,536.2 798.8,538.8" fill="none" stroke="#5c6066" stroke-width="1.15" stroke-linejoin="round" stroke-linecap="round"/>
<polyline points="680,556.7 686.7,555.8 696.7,551.7 705,548.3 706.7,540" fill="none" stroke="#5c6066" stroke-width="1.15" stroke-linejoin="round" stroke-linecap="round"/>
<polyline points="692.5,577.5 698.3,573.3 705,573.3 711.7,570 713.3,566.7 720,568.3 728.3,570 735,571.7 743.3,576.7 750,575.8 755,573.3 758.3,577.5 765,572.5 768.3,580 773.3,585 778.3,581.7 786.7,580 796.7,576.7 803.3,572.5 813.3,570.8 821.7,568.3 825,573.3 830,570.8 836.7,573.3 846.7,580" fill="none" stroke="#5c6066" stroke-width="1.15" stroke-linejoin="round" stroke-linecap="round"/>
<polyline points="773.3,585 777.5,596.7 775,603.3 778.3,600" fill="none" stroke="#5c6066" stroke-width="1.15" stroke-linejoin="round" stroke-linecap="round"/>
<polyline points="598.8,500 599.4,507.5 602.5,511.2 610,515 618.8,513.8 622.5,511.2 631.2,512.5 640,513.8 643.8,512.5 650,516.2 655,517.5 660,522.5 665,521.2 672.5,523.1 677.5,525 685,528.8 690,533.8 695,532.5 693.8,525 695,518.8 698.8,516.2 705,515 702.5,510 698.8,506.2 697.5,502.5 696.2,500" fill="none" stroke="#5c6066" stroke-width="1.15" stroke-linejoin="round" stroke-linecap="round"/>
<polyline points="720,500 722.5,505 730,512.5 740,518.8" fill="none" stroke="#5c6066" stroke-width="1.15" stroke-linejoin="round" stroke-linecap="round"/>
<polyline points="695,532.5 698.8,536.2 703.8,538.8 705,547.5 702.5,552.5 697.5,551.2 690,556.2 685,555 678.8,557.5 673.8,560 676.2,565 675,572.5 680,576.2 683.8,581.2 688.8,587.5" fill="none" stroke="#5c6066" stroke-width="1.15" stroke-linejoin="round" stroke-linecap="round"/>
<polyline points="702.5,552.5 701.2,565 703.8,570 705,573.8 696.2,575 690,580 688.8,587.5 688.8,600" fill="none" stroke="#5c6066" stroke-width="1.15" stroke-linejoin="round" stroke-linecap="round"/>
<polyline points="672.5,523.1 675,527.5 676.2,533.8 671.2,537.5 667.5,543.8 665,550 658.8,551.2 656.2,556.2 652.5,561.2 648.8,567.5 643.8,567.5 640,562.5 633.8,562.5 627.5,561.2 623.8,566.2 622.5,573.8 618.8,577.5 623.8,582.5 625,587.5 628.8,590 632.5,593.8 636.2,598.8 638.8,593.8 643.8,598.8 648.8,593.8 655,592.5 655,587.5 657.5,585 662.5,587.5 670,586.2 672.5,590 676.2,592.5 677.5,598.8 682.5,603.8 686.2,605 688.8,600" fill="none" stroke="#5c6066" stroke-width="1.15" stroke-linejoin="round" stroke-linecap="round"/>
<polyline points="590,597.5 597.5,596.2 601.2,602.5 602.5,611.2 608.8,608.8 613.8,607.5 618.8,612.5 626.2,615 632.5,613.8 636.2,610 633.8,606.2 626.2,605 625,600 628.8,597.5 632.5,593.8" fill="none" stroke="#5c6066" stroke-width="1.15" stroke-linejoin="round" stroke-linecap="round"/>
<polyline points="590,625 595,622.5 600,620 605,621.2 610,623.8 616.2,618.8 618.8,612.5" fill="none" stroke="#5c6066" stroke-width="1.15" stroke-linejoin="round" stroke-linecap="round"/>
<polyline points="653.8,422.5 653.8,426.2 660,427.5 667.5,431.2 675,435 678.8,440 675,447.5 677.5,455 676.2,460 670,461.2 661.2,461.2 662.5,466.2 656.2,467.5 651.2,468.8 647.5,465 640,465 637.5,475 640,480 638.8,487.5 640,492.5 633.8,496.2 628.8,500 626.2,510 631.2,510.6 640,513.1" fill="none" stroke="#5c6066" stroke-width="1.15" stroke-linejoin="round" stroke-linecap="round"/>
<polyline points="653.8,422.5 642.5,423.8 640,431.2 637.5,436.2 640,436.2 647.5,438.8 646.2,443.8 640,447.5 638.8,452.5 637.5,461.2 631.2,457.5 625,453.8 618.8,447.5 620,438.8 617.5,431.2 613.8,425 608.8,420 605,415.6 600,416.2" fill="none" stroke="#5c6066" stroke-width="1.15" stroke-linejoin="round" stroke-linecap="round"/>
<polyline points="712.5,400 716.9,412.5 710,425 711.9,437.5 713.1,452.5 708.8,467.5 707.5,473.8 708.8,475 712.5,486.2 720,498.8 725,508.8 730,515 737.5,518.8 745,521.2 750,520" fill="none" stroke="#5c6066" stroke-width="1.15" stroke-linejoin="round" stroke-linecap="round"/>
<polyline points="707.5,473.8 717.5,472.5 725,470 732.5,467.5 740,462.5" fill="none" stroke="#5c6066" stroke-width="1.15" stroke-linejoin="round" stroke-linecap="round"/>
<polyline points="750,520 753.3,520 760,522 769.3,520 770.7,527.3 776,531.3 784,532.7 786.7,536 793.3,537.3 798.7,540 804,543.3 810.7,548.7 806.7,555.3 810.7,562 812,568.7 816,571.3" fill="none" stroke="#5c6066" stroke-width="1.15" stroke-linejoin="round" stroke-linecap="round"/>
<polygon points="300,176.2 292.5,177 285,180 283.8,187.5 275,191.2 265.5,193 263.8,200 265.5,215 262.5,220 252.5,223.8 247.5,221.2 235,222 220,217 215,225 207.5,240 204.5,247.5 205.5,252.5 210,255 209.5,258 202.5,258 195,255 185,258 172.5,260.5 162.5,263.8 162,265.5 170,268.8 171.2,277.5 175,287.5 178,293.8 177.5,300 171.2,302.5 167.5,307.5 166.2,313.8 168.8,320 160,325 150,328.8 140,333.8 130,337.5 122.5,343.8 110,343 105,346.2 101.2,356.2 87.5,357.5 85,351.2 72.5,355 65,360 55,362.5 53.8,372.5 47.5,377.5 50,382.5 52.5,392.5 60,392 70,396.2 72.5,407.5 76.2,418.8 65,421.2 66.2,425 80,426.2 88.8,433.8 92.5,442.5 96.2,448.8 102.5,448 110,453.8 122.5,457 128.8,457 130,466.2 133.8,474.5 146.2,480 140,486.2 142,496.2 147.5,502.5 150.8,513.8 146.2,520 141.2,517.5 140.8,513.8 135,517 137,525 141.2,532.5 142.5,541.2 147.5,548.8 156.2,548 165,556.2 175,560 183.8,565 185.5,568 188.8,560 200,562 205,568.8 217.5,575 226.2,583.8 235,582.5 239.5,585 240.5,591.2 250,596.2 255.5,597.5 257.5,603 265,602.5 271.2,608.8 272.5,611.2 282.5,607.5 292.5,612.5 300,612 303.8,611.2 317.5,607.5 322.5,612.5 322.5,621.2 326.2,623.8 330,612.5 338.8,605.5 350,606.2 362.5,610 370,609.5 372.5,617.5 379.5,621.2 381.2,632.5 400,631.2 410,629.5 417.5,620 430,615.5 440,607.5 447.5,603.8 457.5,606.2 470,613.8 475,608.8 480,598.8 486.2,602.5 490,607.5 493.8,615 498.8,617.5 500,625 500,640 497.5,652.5 491.2,657.5 486.2,665 480,675 478.8,685 482.5,692.5 490,690 498.8,687.5 501.2,693.8 505,700 502.5,700 503.3,707.5 513.3,710 514.2,715.8 510.8,720 508.3,729.2 516.7,730.8 522.5,732.5 521.7,736.7 527.5,742.5 536.7,740.8 542.5,737.5 545,748.3 550,747.5 555,748.3 555,740 554.2,733.3 550.8,728.3 553.3,723.3 563.3,722.5 566.7,716.7 571.7,719.2 577.5,723.3 582.5,716.7 585.8,720 589.2,716.7 594.2,721.7 596.7,715 600.8,717.5 608.3,713.3 616.7,706.7 620,705 623.3,709.2 629.2,713.3 638.3,712.5 645,715.8 641.7,721.7 643.3,731.7 647.5,733.3 650,735.8 650,735.8 655.8,739.2 658.3,738.3 663.3,740 669.2,741.7 675.8,740 685,740 687.5,743.3 693.3,742.5 698.3,740 699.2,745 697.5,751.7 696.7,756.7 699.2,761.7 700.8,766.7 706.7,767.5 711.7,765 713.3,762.5 710,757.5 705.8,755 706.7,750.8 711.7,748.3 716.7,745 721.7,743.3 726.7,741.7 733.3,740 740,738.3 746.7,737.5 751.7,739.2 755,735.8 760,733.3 765,730 766.7,723.3 770,720 773.3,726.7 778.3,723.3 783.3,718.3 786.7,716.7 789.2,719.2 792.5,715 800,716.7 805,715 811.7,713.3 818.3,711.7 823.3,706.7 828.3,701.7 833.3,698.3 840,693.3 840,693.3 841.7,691.7 846.7,686.7 848.3,681.7 853.3,680 858.3,677.5 861.7,671.7 865,666.7 870,663.3 875,661.7 878.3,658.3 875.8,653.3 876.7,646.7 881.7,644.2 879.2,640 876.7,637.5 881.7,636.7 885.8,631.7 888.3,628.3 891.7,625 893.3,620 897.5,615 901.7,611.7 903.3,608.3 906.7,605 910.8,601.7 913.3,600 911.7,593.3 917.5,585 915,580 918.3,575 915.8,568.3 911.7,565 906.7,560 901.7,556.7 906.7,555 913.3,554.2 919.2,555.8 917.5,550 913.3,545 918.3,541.7 916.7,533.3 915,529.2 910.8,525 906.7,518.3 900,516.7 898.3,510 895.8,501.7 891.7,493.3 888.3,485 886.7,480 878.3,476.7 873.3,471.7 868.3,470 870,465 875,458.3 878.3,453.3 883.3,448.3 888.3,445 893.3,440 899.2,435.8 903.3,432.5 910,430 916.7,428.3 923.3,427.5 928.3,425 930,418.3 930,418.3 920.8,415 916.7,416.7 910,414.2 903.3,413.3 893.3,409.2 888.3,410.8 883.3,416.7 878.3,421.7 871.7,423.3 866.7,420.8 863.3,416.7 862.5,413.3 869.2,410 863.3,407.5 862.5,403.3 851.7,402.5 845.8,401.7 841.7,395 840,391.7 843.3,385 846.7,380 855,385 861.7,381.7 868.3,376.7 870,370 876.7,364.2 885,361.7 891.7,358.3 895.8,352.5 901.7,348.3 908.3,346.7 915,346.7 920,351.7 922.5,355 916.7,360 911.7,366.7 906.7,372.5 904.2,375 908.3,379.2 912.5,380 911.7,383.3 903.3,386.7 901.7,389.2 908.3,388.3 913.3,385.8 920,380 926.7,375 936.7,371.7 946.7,368.3 956.7,366.7 961.7,360 970,354.2 980,348.3 985,345 990,341.7 996.7,336.7 1000,331.7 1006.7,328.3 1011.7,331.7 1018.3,333.3 1030,335 1031.7,333.3 1029.2,330 1027.5,324.2 1036.7,323.3 1042.5,323.3 1046.7,320 1050,316.7 1055,315 1057.5,311.7 1059.2,304.2 1064.2,305 1066.7,309.2 1073.3,315 1071.7,307.5 1076.7,305.8 1081.7,305 1083.3,298.3 1085.8,295 1084.2,300 1085,294.2 1083.3,288.3 1084.2,280 1082.5,273.3 1079.2,265.8 1083.3,264.2 1088.3,260 1093.3,255.8 1096.7,256.7 1103.3,258.3 1111.7,260 1116.7,260.8 1118.3,253.3 1124.2,246.7 1127.5,240 1131.7,233.3 1133.3,226.7 1135.8,220 1138.3,213.3 1143.3,210.8 1147.5,205.8 1144.2,200 1148.3,194.2 1152.5,191.7 1145,192.5 1135,194.2 1126.7,195.8 1118.3,198.3 1110,201.7 1106.7,205.8 1100,206.7 1090,207.5 1080,206.7 1078.3,203.3 1075,199.2 1075.8,193.3 1072.5,188.3 1072.5,183.3 1065,181.7 1058.3,176.7 1051.7,172.5 1045,171.7 1038.3,168.3 1030,169.2 1021.7,167.5 1016.7,162.5 1017.5,156.7 1013.3,148.3 1010,141.7 1005,135.8 1006.7,134.2 1003.3,127.5 998.3,118.3 995.8,112.5 990,105 990,106.7 988.3,103.3 981.7,99.2 973.3,95 963.3,95 955,90.8 946.7,87.5 936.7,87.5 923.3,89.2 911.7,91.7 906.7,92.5 896.7,94.2 890,99.2 883.3,102.5 882.5,105.8 890,105.8 894.2,108.3 895,116.7 890,121.7 881.7,128.3 876.7,136.7 871.7,145 866.7,151.7 870,155.8 866.7,160 856.7,161.7 848.3,165.8 841.7,170 831.7,166.7 821.7,164.2 816.7,173.3 811.7,183.3 806.7,190 806.7,194.2 801.7,199.2 805,202.5 810,206.7 813.3,203.3 821.7,203.3 830,205 835,207.5 840,203.3 846.7,200.8 856.7,201.7 861.7,206.7 868.3,211.7 873.3,215 878.3,220 880,225 876.7,229.2 868.3,228.3 860,226.7 850,227.5 840,230 837.5,230 835,231.7 828.3,234.2 820,236.7 814.2,241.7 815,245.8 805,251.7 793.3,255 783.3,255 778.3,261.7 768.3,266.7 756.7,265.8 748.3,262.5 738.3,260 733.3,262.5 730.8,267.5 726.7,273.3 730,278.3 735.8,283.3 737.5,288.3 728.3,293.3 720,296.7 713.3,303.3 706.7,308.3 696.7,311.7 691.7,314.2 680,314.2 666.7,315.3 656.7,314.2 650,316.7 650,316.7 643.3,317.5 636.7,319.2 626.7,323.3 615,329.2 612.5,331.7 605.8,330.8 605,327.5 600,326.3 588.3,326.7 581.7,324.2 570,320 559.2,317.5 555,313.3 546.7,310 536.7,310.3 525,310.8 516.7,310.8 505,312 493.3,309.2 483.3,308.7 472.5,308 470,307.5 457.5,308 457.5,308 452.5,302.5 447.5,296.2 443.8,287 440.5,282.5 439.5,277 432.5,277 425,272.5 415,267.5 405,263 395,261.8 385,262.5 375,261.2 370,260 358.8,257.5 355,252.5 356.2,248.8 361.2,241.2 359.5,236.2 362.5,230 360,223.8 353.8,216.2 351.2,210 344.5,204.5 337.5,203.8 335,201.2 323.8,200 317.5,195 308.8,188.8 303.8,182.5 305,177.5 300,176.2" fill="none" stroke="#5c6066" stroke-width="1.15" stroke-linejoin="round"/>
<polyline points="864.8,852.9 864.8,875.6" fill="none" stroke="#5c6066" stroke-width="1.6"/>
<polyline points="932,679.2 926.7,702.5" fill="none" stroke="#5c6066" stroke-width="1.6"/>
<rect x="728.1" y="831.8" width="1.7" height="1.4" fill="#5c6066"/>
<rect x="741.8" y="834.1" width="1.7" height="1.4" fill="#5c6066"/>
<rect x="731.0" y="842.0" width="1.7" height="1.4" fill="#5c6066"/>
<rect x="733.1" y="849.3" width="1.7" height="1.4" fill="#5c6066"/>
<rect x="738.3" y="846.9" width="1.7" height="1.4" fill="#5c6066"/>
<rect x="747.1" y="844.9" width="1.7" height="1.4" fill="#5c6066"/>
<rect x="748.5" y="852.2" width="1.7" height="1.4" fill="#5c6066"/>
<rect x="741.2" y="859.5" width="1.7" height="1.4" fill="#5c6066"/>
<rect x="731.9" y="845.8" width="1.7" height="1.4" fill="#5c6066"/>
<rect x="746.5" y="848.7" width="1.7" height="1.4" fill="#5c6066"/>
<rect x="771.9" y="858.0" width="1.7" height="1.4" fill="#5c6066"/>
<rect x="776.2" y="853.6" width="1.7" height="1.4" fill="#5c6066"/>
<rect x="782.1" y="852.2" width="1.7" height="1.4" fill="#5c6066"/>
<rect x="787.9" y="850.1" width="1.7" height="1.4" fill="#5c6066"/>
<rect x="783.5" y="862.4" width="1.7" height="1.4" fill="#5c6066"/>
<rect x="771.0" y="864.7" width="1.7" height="1.4" fill="#5c6066"/>
<rect x="789.3" y="854.5" width="1.7" height="1.4" fill="#5c6066"/>
<rect x="822.0" y="846.9" width="1.7" height="1.4" fill="#5c6066"/>
<rect x="798.1" y="895.9" width="1.7" height="1.4" fill="#5c6066"/>
<rect x="755.8" y="782.2" width="1.7" height="1.4" fill="#5c6066"/>
<rect x="747.1" y="986.3" width="1.7" height="1.4" fill="#5c6066"/>
<rect x="785.0" y="946.4" width="1.7" height="1.4" fill="#5c6066"/>
<rect x="786.4" y="954.2" width="1.7" height="1.4" fill="#5c6066"/>
<rect x="782.1" y="960.1" width="1.7" height="1.4" fill="#5c6066"/>
<rect x="774.8" y="957.7" width="1.7" height="1.4" fill="#5c6066"/>
<rect x="790.8" y="958.6" width="1.7" height="1.4" fill="#5c6066"/>
<rect x="822.9" y="946.4" width="1.7" height="1.4" fill="#5c6066"/>
<rect x="831.6" y="955.7" width="1.7" height="1.4" fill="#5c6066"/>
<rect x="838.9" y="955.7" width="1.7" height="1.4" fill="#5c6066"/>
<rect x="833.1" y="962.4" width="1.7" height="1.4" fill="#5c6066"/>
<rect x="818.5" y="968.8" width="1.7" height="1.4" fill="#5c6066"/>
<rect x="821.4" y="965.9" width="1.7" height="1.4" fill="#5c6066"/>
<rect x="805.4" y="965.9" width="1.7" height="1.4" fill="#5c6066"/>
<rect x="796.6" y="971.7" width="1.7" height="1.4" fill="#5c6066"/>
<rect x="801.0" y="979.0" width="1.7" height="1.4" fill="#5c6066"/>
<rect x="806.8" y="981.9" width="1.7" height="1.4" fill="#5c6066"/>
<rect x="811.2" y="983.4" width="1.7" height="1.4" fill="#5c6066"/>
<rect x="817.0" y="980.5" width="1.7" height="1.4" fill="#5c6066"/>
<rect x="785.0" y="970.3" width="1.7" height="1.4" fill="#5c6066"/>
<rect x="779.1" y="970.8" width="1.7" height="1.4" fill="#5c6066"/>
<rect x="770.4" y="973.2" width="1.7" height="1.4" fill="#5c6066"/>
<rect x="766.0" y="971.7" width="1.7" height="1.4" fill="#5c6066"/>
<rect x="785.0" y="980.5" width="1.7" height="1.4" fill="#5c6066"/>
<rect x="776.2" y="988.6" width="1.7" height="1.4" fill="#5c6066"/>
<rect x="767.5" y="993.6" width="1.7" height="1.4" fill="#5c6066"/>
<rect x="771.9" y="1000.3" width="1.7" height="1.4" fill="#5c6066"/>
<rect x="776.2" y="1002.3" width="1.7" height="1.4" fill="#5c6066"/>
<rect x="785.0" y="999.4" width="1.7" height="1.4" fill="#5c6066"/>
<rect x="798.1" y="987.8" width="1.7" height="1.4" fill="#5c6066"/>
<rect x="808.3" y="990.7" width="1.7" height="1.4" fill="#5c6066"/>
<rect x="814.1" y="999.4" width="1.7" height="1.4" fill="#5c6066"/>
<rect x="821.4" y="995.6" width="1.7" height="1.4" fill="#5c6066"/>
<rect x="833.1" y="970.3" width="1.7" height="1.4" fill="#5c6066"/>
<rect x="834.0" y="975.2" width="1.7" height="1.4" fill="#5c6066"/>
<rect x="741.2" y="999.4" width="1.7" height="1.4" fill="#5c6066"/>
<rect x="747.1" y="1000.0" width="1.7" height="1.4" fill="#5c6066"/>
<rect x="751.4" y="998.8" width="1.7" height="1.4" fill="#5c6066"/>
<rect x="731.9" y="1003.8" width="1.7" height="1.4" fill="#5c6066"/>
<rect x="728.1" y="1006.1" width="1.7" height="1.4" fill="#5c6066"/>
<rect x="754.4" y="1008.2" width="1.7" height="1.4" fill="#5c6066"/>
<rect x="761.6" y="1012.5" width="1.7" height="1.4" fill="#5c6066"/>
<rect x="760.2" y="1014.9" width="1.7" height="1.4" fill="#5c6066"/>
<rect x="754.4" y="1020.7" width="1.7" height="1.4" fill="#5c6066"/>
<rect x="736.9" y="1016.0" width="1.7" height="1.4" fill="#5c6066"/>
<rect x="731.9" y="1021.3" width="1.7" height="1.4" fill="#5c6066"/>
<rect x="730.2" y="1026.5" width="1.7" height="1.4" fill="#5c6066"/>
<rect x="771.9" y="1018.4" width="1.7" height="1.4" fill="#5c6066"/>
<rect x="785.0" y="1014.0" width="1.7" height="1.4" fill="#5c6066"/>
<rect x="789.3" y="1018.4" width="1.7" height="1.4" fill="#5c6066"/>
<rect x="790.8" y="1027.1" width="1.7" height="1.4" fill="#5c6066"/>
<rect x="787.9" y="1032.9" width="1.7" height="1.4" fill="#5c6066"/>
<rect x="770.4" y="1030.0" width="1.7" height="1.4" fill="#5c6066"/>
<rect x="766.0" y="1038.8" width="1.7" height="1.4" fill="#5c6066"/>
<rect x="759.3" y="1051.9" width="1.7" height="1.4" fill="#5c6066"/>
<rect x="796.6" y="1007.6" width="1.7" height="1.4" fill="#5c6066"/>
<rect x="801.0" y="1006.7" width="1.7" height="1.4" fill="#5c6066"/>
<rect x="795.8" y="1010.5" width="1.7" height="1.4" fill="#5c6066"/>
<rect x="747.1" y="1059.2" width="1.7" height="1.4" fill="#5c6066"/>
<rect x="744.7" y="1065.0" width="1.7" height="1.4" fill="#5c6066"/>
<rect x="747.7" y="1067.9" width="1.7" height="1.4" fill="#5c6066"/>
<rect x="749.4" y="1070.8" width="1.7" height="1.4" fill="#5c6066"/>
<rect x="748.5" y="1077.3" width="1.7" height="1.4" fill="#5c6066"/>
<rect x="753.5" y="1077.8" width="1.7" height="1.4" fill="#5c6066"/>
<rect x="738.3" y="1101.5" width="1.7" height="1.4" fill="#5c6066"/>
<rect x="741.8" y="1100.9" width="1.7" height="1.4" fill="#5c6066"/>
<circle cx="771.2" cy="789.3" r="1.2" fill="#FFF8C1" stroke="#5c6066" stroke-width="0.6"/>
<circle cx="841.2" cy="871.8" r="1.2" fill="#FFF8C1" stroke="#5c6066" stroke-width="0.6"/>
<circle cx="842.0" cy="960.8" r="1.2" fill="#FFF8C1" stroke="#5c6066" stroke-width="0.6"/>
<circle cx="702.1" cy="1020.5" r="1.2" fill="#FFF8C1" stroke="#5c6066" stroke-width="0.6"/>
<circle cx="711.4" cy="1015.6" r="1.2" fill="#FFF8C1" stroke="#5c6066" stroke-width="0.6"/>
<polygon points="772.1,1026.4 777,1021.4 782.3,1018.5 784.6,1019.7 781.4,1024.3 777,1027.2 773.5,1027.8" fill="#FEE79B" stroke="#5c6066" stroke-width="0.6"/>
<polygon points="692.5,1030.7 695.4,1027.8 699.8,1026.6 702.4,1027.2 698.3,1028.7 694.8,1031.9" fill="#FEE79B" stroke="#5c6066" stroke-width="0.6"/>
<polyline points="916.3,738.3 902.5,756.3" fill="none" stroke="#5c6066" stroke-width="1.15"/>
<polyline points="882.9,792.2 872.4,814.4" fill="none" stroke="#5c6066" stroke-width="1.15"/>
<polyline points="863.6,936.6 859.2,949.1 855.5,959.3" fill="none" stroke="#5c6066" stroke-width="1.15"/>
<polyline points="814.3,1018.5 801.2,1035.7" fill="none" stroke="#5c6066" stroke-width="1.15"/>
<polyline points="753.7,1105.1 734.2,1111.8" fill="none" stroke="#5c6066" stroke-width="1.15"/>
<polyline points="670.6,1037.1 670,1048.2 672.1,1059.3" fill="none" stroke="#5c6066" stroke-width="1.15"/>
<polyline points="707.9,931 707.1,941.8 703.6,952" fill="none" stroke="#5c6066" stroke-width="1.15"/>
<polyline points="689.6,850 696.9,861.6 699.8,872.7" fill="none" stroke="#5c6066" stroke-width="1.15"/>
</g>
<g id="legend">
<rect x="58" y="805.20" width="33" height="33.86" fill="#FFFFE5"/>
<text x="100.3" y="833.18" font-size="28.4" class="t">0.151% - 0.415%</text>
<rect x="58" y="838.76" width="33" height="33.86" fill="#FFF8C1"/>
<text x="100.3" y="866.74" font-size="28.4" class="t">0.415% - 0.693%</text>
<rect x="58" y="872.32" width="33" height="33.86" fill="#FEE79B"/>
<text x="100.3" y="900.30" font-size="28.4" class="t">0.693% - 0.985%</text>
<rect x="58" y="905.88" width="33" height="33.86" fill="#FECE65"/>
<text x="100.3" y="933.86" font-size="28.4" class="t">0.985% - 1.256%</text>
<rect x="58" y="939.44" width="33" height="33.86" fill="#FEAC3A"/>
<text x="100.3" y="967.42" font-size="28.4" class="t">1.256% - 1.515%</text>
<rect x="58" y="973.00" width="33" height="33.86" fill="#F68720"/>
<text x="100.3" y="1000.98" font-size="28.4" class="t">1.515% - 1.818%</text>
<rect x="58" y="1006.56" width="33" height="33.86" fill="#E1640E"/>
<text x="100.3" y="1034.54" font-size="28.4" class="t">1.818% - 2.232%</text>
<rect x="58" y="1040.12" width="33" height="33.86" fill="#C14702"/>
<text x="100.3" y="1068.10" font-size="28.4" class="t">2.232% - 2.817%</text>
<rect x="58" y="1073.68" width="33" height="33.86" fill="#933204"/>
<text x="100.3" y="1101.66" font-size="28.4" class="t">2.817% - 3.704%</text>
<rect x="58" y="1107.24" width="33" height="33.86" fill="#662506"/>
<text x="100.3" y="1135.22" font-size="28.4" class="t">3.704% - 6.061%</text>
</g>
<g id="text">
<text x="48.50" y="108.80" font-size="52" class="c">父系：</text>
<text x="218.76" y="107.30" font-size="53.3" letter-spacing="-0.9" class="t">O-F837 (</text>
<text x="425.71" y="108.80" font-size="52" class="c">含下游</text>
<text x="583.51" y="107.30" font-size="53.3" class="t">)</text>
<text x="54.20" y="786.30" font-size="36.3" letter-spacing="0.9" class="c">相对占比</text>
<text x="945.60" y="1137.50" font-size="28" class="c">作者</text>
<text x="1001.60" y="1137.50" font-size="28" class="t">:O1a</text>
<text x="1062.30" y="1137.50" font-size="28" class="c">溯源群</text>
</g>
<g fill="#000" shape-rendering="crispEdges"><rect x="24" y="24" width="1" height="1152"/><rect x="24" y="24" width="1152" height="1"/><rect x="1174" y="24" width="2" height="1152"/><rect x="24" y="1174" width="1152" height="2"/></g>
</svg>
</body></html>
